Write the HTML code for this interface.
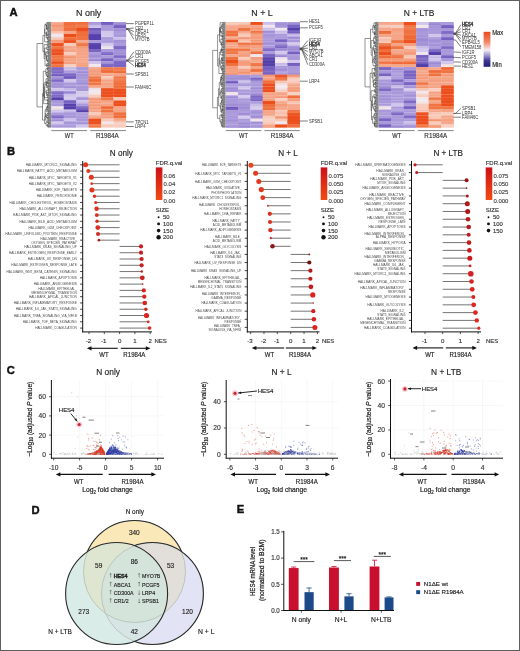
<!DOCTYPE html>
<html><head><meta charset="utf-8"><style>
html,body{margin:0;padding:0;background:#fff;}
svg{display:block;font-family:"Liberation Sans", sans-serif;}
</style></head><body>
<svg width="520" height="651" viewBox="0 0 520 651">
<rect x="0" y="0" width="520" height="651" fill="#fff"/>
<g opacity="0.999">
<text x="9.60" y="16.20" font-size="11.2" fill="#111" font-weight="bold" stroke="#111" stroke-width="0.45">A</text>
<text x="7.00" y="155.40" font-size="11.2" fill="#111" font-weight="bold" stroke="#111" stroke-width="0.45">B</text>
<text x="6.80" y="374.40" font-size="11.2" fill="#111" font-weight="bold" stroke="#111" stroke-width="0.45">C</text>
<text x="31.40" y="513.60" font-size="11.2" fill="#111" font-weight="bold" stroke="#111" stroke-width="0.45">D</text>
<text x="236.80" y="513.40" font-size="11.2" fill="#111" font-weight="bold" stroke="#111" stroke-width="0.45">E</text>
<rect x="51.4" y="22.00" width="12.5" height="3.07" fill="#f5a385"/>
<rect x="51.4" y="22.00" width="12.5" height="1.56" fill="#f6ad93"/>
<rect x="63.8" y="22.00" width="12.5" height="3.07" fill="#f07442"/>
<rect x="63.8" y="23.51" width="12.5" height="1.56" fill="#ef6d3b"/>
<rect x="76.3" y="22.00" width="12.5" height="3.07" fill="#f07442"/>
<rect x="76.3" y="22.00" width="12.5" height="1.56" fill="#ef6e3c"/>
<rect x="88.7" y="22.00" width="12.5" height="3.07" fill="#a998da"/>
<rect x="88.7" y="23.51" width="12.5" height="1.56" fill="#b1a2de"/>
<rect x="101.1" y="22.00" width="12.5" height="3.07" fill="#7c66c4"/>
<rect x="101.1" y="22.00" width="12.5" height="1.56" fill="#705bbc"/>
<rect x="113.6" y="22.00" width="12.5" height="3.07" fill="#a998da"/>
<rect x="113.6" y="23.51" width="12.5" height="1.56" fill="#9b88d3"/>
<rect x="51.4" y="25.02" width="12.5" height="3.07" fill="#f5a385"/>
<rect x="51.4" y="25.02" width="12.5" height="1.56" fill="#f39470"/>
<rect x="63.8" y="25.02" width="12.5" height="3.07" fill="#f07442"/>
<rect x="63.8" y="26.53" width="12.5" height="1.56" fill="#f17a4b"/>
<rect x="76.3" y="25.02" width="12.5" height="3.07" fill="#f07442"/>
<rect x="76.3" y="25.02" width="12.5" height="1.56" fill="#f17e50"/>
<rect x="88.7" y="25.02" width="12.5" height="3.07" fill="#d0c6ec"/>
<rect x="88.7" y="25.02" width="12.5" height="1.56" fill="#c7bce8"/>
<rect x="101.1" y="25.02" width="12.5" height="3.07" fill="#a998da"/>
<rect x="101.1" y="26.53" width="12.5" height="1.56" fill="#ac9cdc"/>
<rect x="113.6" y="25.02" width="12.5" height="3.07" fill="#7c66c4"/>
<rect x="113.6" y="26.53" width="12.5" height="1.56" fill="#745ebf"/>
<rect x="51.4" y="28.03" width="12.5" height="3.07" fill="#f5a385"/>
<rect x="51.4" y="29.54" width="12.5" height="1.56" fill="#f5a182"/>
<rect x="63.8" y="28.03" width="12.5" height="3.07" fill="#f07442"/>
<rect x="63.8" y="28.03" width="12.5" height="1.56" fill="#ef6c3a"/>
<rect x="76.3" y="28.03" width="12.5" height="3.07" fill="#ec4e1c"/>
<rect x="76.3" y="28.03" width="12.5" height="1.56" fill="#ec4e1c"/>
<rect x="88.7" y="28.03" width="12.5" height="3.07" fill="#7c66c4"/>
<rect x="88.7" y="28.03" width="12.5" height="1.56" fill="#6e59bb"/>
<rect x="101.1" y="28.03" width="12.5" height="3.07" fill="#a998da"/>
<rect x="101.1" y="29.54" width="12.5" height="1.56" fill="#b0a1dd"/>
<rect x="113.6" y="28.03" width="12.5" height="3.07" fill="#a998da"/>
<rect x="113.6" y="29.54" width="12.5" height="1.56" fill="#9f8dd5"/>
<rect x="51.4" y="31.05" width="12.5" height="3.07" fill="#f8cdbe"/>
<rect x="51.4" y="31.05" width="12.5" height="1.56" fill="#f7c1ad"/>
<rect x="63.8" y="31.05" width="12.5" height="3.07" fill="#f5a385"/>
<rect x="63.8" y="32.56" width="12.5" height="1.56" fill="#f5a587"/>
<rect x="76.3" y="31.05" width="12.5" height="3.07" fill="#f07442"/>
<rect x="76.3" y="31.05" width="12.5" height="1.56" fill="#ef6937"/>
<rect x="88.7" y="31.05" width="12.5" height="3.07" fill="#7c66c4"/>
<rect x="88.7" y="32.56" width="12.5" height="1.56" fill="#7e68c5"/>
<rect x="101.1" y="31.05" width="12.5" height="3.07" fill="#d0c6ec"/>
<rect x="101.1" y="32.56" width="12.5" height="1.56" fill="#d3c9ec"/>
<rect x="113.6" y="31.05" width="12.5" height="3.07" fill="#a998da"/>
<rect x="113.6" y="32.56" width="12.5" height="1.56" fill="#b1a1dd"/>
<rect x="51.4" y="34.07" width="12.5" height="3.07" fill="#f2e8ee"/>
<rect x="51.4" y="35.58" width="12.5" height="1.56" fill="#ede3ee"/>
<rect x="63.8" y="34.07" width="12.5" height="3.07" fill="#ec4e1c"/>
<rect x="63.8" y="34.07" width="12.5" height="1.56" fill="#ec4e1c"/>
<rect x="76.3" y="34.07" width="12.5" height="3.07" fill="#f07442"/>
<rect x="76.3" y="34.07" width="12.5" height="1.56" fill="#ef6b39"/>
<rect x="88.7" y="34.07" width="12.5" height="3.07" fill="#5440aa"/>
<rect x="88.7" y="35.58" width="12.5" height="1.56" fill="#5440aa"/>
<rect x="101.1" y="34.07" width="12.5" height="3.07" fill="#d0c6ec"/>
<rect x="101.1" y="35.58" width="12.5" height="1.56" fill="#d7cdec"/>
<rect x="113.6" y="34.07" width="12.5" height="3.07" fill="#a998da"/>
<rect x="113.6" y="34.07" width="12.5" height="1.56" fill="#ad9ddc"/>
<rect x="51.4" y="37.09" width="12.5" height="3.07" fill="#f8cdbe"/>
<rect x="51.4" y="38.59" width="12.5" height="1.56" fill="#f7c3b0"/>
<rect x="63.8" y="37.09" width="12.5" height="3.07" fill="#f07442"/>
<rect x="63.8" y="38.59" width="12.5" height="1.56" fill="#ef6e3c"/>
<rect x="76.3" y="37.09" width="12.5" height="3.07" fill="#f07442"/>
<rect x="76.3" y="37.09" width="12.5" height="1.56" fill="#f07442"/>
<rect x="88.7" y="37.09" width="12.5" height="3.07" fill="#5440aa"/>
<rect x="88.7" y="37.09" width="12.5" height="1.56" fill="#5642ac"/>
<rect x="101.1" y="37.09" width="12.5" height="3.07" fill="#a998da"/>
<rect x="101.1" y="38.59" width="12.5" height="1.56" fill="#ae9edc"/>
<rect x="113.6" y="37.09" width="12.5" height="3.07" fill="#d0c6ec"/>
<rect x="113.6" y="38.59" width="12.5" height="1.56" fill="#c7bbe8"/>
<rect x="51.4" y="40.10" width="12.5" height="3.07" fill="#f5a385"/>
<rect x="51.4" y="40.10" width="12.5" height="1.56" fill="#f49c7b"/>
<rect x="63.8" y="40.10" width="12.5" height="3.07" fill="#ec4e1c"/>
<rect x="63.8" y="41.61" width="12.5" height="1.56" fill="#ed5a28"/>
<rect x="76.3" y="40.10" width="12.5" height="3.07" fill="#f5a385"/>
<rect x="76.3" y="40.10" width="12.5" height="1.56" fill="#f6ab90"/>
<rect x="88.7" y="40.10" width="12.5" height="3.07" fill="#a998da"/>
<rect x="88.7" y="41.61" width="12.5" height="1.56" fill="#ac9cdc"/>
<rect x="101.1" y="40.10" width="12.5" height="3.07" fill="#a998da"/>
<rect x="101.1" y="41.61" width="12.5" height="1.56" fill="#b0a0dd"/>
<rect x="113.6" y="40.10" width="12.5" height="3.07" fill="#a998da"/>
<rect x="113.6" y="40.10" width="12.5" height="1.56" fill="#a492d7"/>
<rect x="51.4" y="43.12" width="12.5" height="3.07" fill="#ec4e1c"/>
<rect x="51.4" y="43.12" width="12.5" height="1.56" fill="#ed5826"/>
<rect x="63.8" y="43.12" width="12.5" height="3.07" fill="#f8cdbe"/>
<rect x="63.8" y="44.63" width="12.5" height="1.56" fill="#f8ccbd"/>
<rect x="76.3" y="43.12" width="12.5" height="3.07" fill="#f07442"/>
<rect x="76.3" y="43.12" width="12.5" height="1.56" fill="#f17e50"/>
<rect x="88.7" y="43.12" width="12.5" height="3.07" fill="#5440aa"/>
<rect x="88.7" y="43.12" width="12.5" height="1.56" fill="#604cb2"/>
<rect x="101.1" y="43.12" width="12.5" height="3.07" fill="#d0c6ec"/>
<rect x="101.1" y="44.63" width="12.5" height="1.56" fill="#d5cbec"/>
<rect x="113.6" y="43.12" width="12.5" height="3.07" fill="#a998da"/>
<rect x="113.6" y="43.12" width="12.5" height="1.56" fill="#ad9ddc"/>
<rect x="51.4" y="46.14" width="12.5" height="3.07" fill="#f07442"/>
<rect x="51.4" y="47.65" width="12.5" height="1.56" fill="#f07341"/>
<rect x="63.8" y="46.14" width="12.5" height="3.07" fill="#f5a385"/>
<rect x="63.8" y="47.65" width="12.5" height="1.56" fill="#f6ad93"/>
<rect x="76.3" y="46.14" width="12.5" height="3.07" fill="#f5a385"/>
<rect x="76.3" y="46.14" width="12.5" height="1.56" fill="#f49774"/>
<rect x="88.7" y="46.14" width="12.5" height="3.07" fill="#5440aa"/>
<rect x="88.7" y="46.14" width="12.5" height="1.56" fill="#5440aa"/>
<rect x="101.1" y="46.14" width="12.5" height="3.07" fill="#f2e8ee"/>
<rect x="101.1" y="46.14" width="12.5" height="1.56" fill="#e8deed"/>
<rect x="113.6" y="46.14" width="12.5" height="3.07" fill="#7c66c4"/>
<rect x="113.6" y="46.14" width="12.5" height="1.56" fill="#806bc6"/>
<rect x="51.4" y="49.15" width="12.5" height="3.07" fill="#ec4e1c"/>
<rect x="51.4" y="50.66" width="12.5" height="1.56" fill="#ed5a28"/>
<rect x="63.8" y="49.15" width="12.5" height="3.07" fill="#f5a385"/>
<rect x="63.8" y="50.66" width="12.5" height="1.56" fill="#f5a689"/>
<rect x="76.3" y="49.15" width="12.5" height="3.07" fill="#f5a385"/>
<rect x="76.3" y="49.15" width="12.5" height="1.56" fill="#f5a486"/>
<rect x="88.7" y="49.15" width="12.5" height="3.07" fill="#7c66c4"/>
<rect x="88.7" y="49.15" width="12.5" height="1.56" fill="#7b65c3"/>
<rect x="101.1" y="49.15" width="12.5" height="3.07" fill="#a998da"/>
<rect x="101.1" y="49.15" width="12.5" height="1.56" fill="#ab9bdb"/>
<rect x="113.6" y="49.15" width="12.5" height="3.07" fill="#a998da"/>
<rect x="113.6" y="49.15" width="12.5" height="1.56" fill="#9e8cd5"/>
<rect x="51.4" y="52.17" width="12.5" height="3.07" fill="#ec4e1c"/>
<rect x="51.4" y="53.68" width="12.5" height="1.56" fill="#ec501e"/>
<rect x="63.8" y="52.17" width="12.5" height="3.07" fill="#f8cdbe"/>
<rect x="63.8" y="53.68" width="12.5" height="1.56" fill="#f8caba"/>
<rect x="76.3" y="52.17" width="12.5" height="3.07" fill="#f5a385"/>
<rect x="76.3" y="52.17" width="12.5" height="1.56" fill="#f5a689"/>
<rect x="88.7" y="52.17" width="12.5" height="3.07" fill="#a998da"/>
<rect x="88.7" y="52.17" width="12.5" height="1.56" fill="#af9fdd"/>
<rect x="101.1" y="52.17" width="12.5" height="3.07" fill="#7c66c4"/>
<rect x="101.1" y="52.17" width="12.5" height="1.56" fill="#8c77cc"/>
<rect x="113.6" y="52.17" width="12.5" height="3.07" fill="#a998da"/>
<rect x="113.6" y="52.17" width="12.5" height="1.56" fill="#a290d6"/>
<rect x="51.4" y="55.19" width="12.5" height="3.07" fill="#f07442"/>
<rect x="51.4" y="56.70" width="12.5" height="1.56" fill="#f17a4b"/>
<rect x="63.8" y="55.19" width="12.5" height="3.07" fill="#f5a385"/>
<rect x="63.8" y="56.70" width="12.5" height="1.56" fill="#f3936e"/>
<rect x="76.3" y="55.19" width="12.5" height="3.07" fill="#f5a385"/>
<rect x="76.3" y="55.19" width="12.5" height="1.56" fill="#f6ab90"/>
<rect x="88.7" y="55.19" width="12.5" height="3.07" fill="#a998da"/>
<rect x="88.7" y="55.19" width="12.5" height="1.56" fill="#9c89d4"/>
<rect x="101.1" y="55.19" width="12.5" height="3.07" fill="#a998da"/>
<rect x="101.1" y="56.70" width="12.5" height="1.56" fill="#ad9ddc"/>
<rect x="113.6" y="55.19" width="12.5" height="3.07" fill="#7c66c4"/>
<rect x="113.6" y="56.70" width="12.5" height="1.56" fill="#8772c9"/>
<rect x="51.4" y="58.21" width="12.5" height="3.07" fill="#f07442"/>
<rect x="51.4" y="59.71" width="12.5" height="1.56" fill="#f17949"/>
<rect x="63.8" y="58.21" width="12.5" height="3.07" fill="#f5a385"/>
<rect x="63.8" y="59.71" width="12.5" height="1.56" fill="#f5a587"/>
<rect x="76.3" y="58.21" width="12.5" height="3.07" fill="#f5a385"/>
<rect x="76.3" y="59.71" width="12.5" height="1.56" fill="#f6ac92"/>
<rect x="88.7" y="58.21" width="12.5" height="3.07" fill="#a998da"/>
<rect x="88.7" y="59.71" width="12.5" height="1.56" fill="#9a87d3"/>
<rect x="101.1" y="58.21" width="12.5" height="3.07" fill="#7c66c4"/>
<rect x="101.1" y="59.71" width="12.5" height="1.56" fill="#7862c1"/>
<rect x="113.6" y="58.21" width="12.5" height="3.07" fill="#a998da"/>
<rect x="113.6" y="59.71" width="12.5" height="1.56" fill="#9e8cd5"/>
<rect x="51.4" y="61.22" width="12.5" height="3.07" fill="#ec4e1c"/>
<rect x="51.4" y="62.73" width="12.5" height="1.56" fill="#ed5b29"/>
<rect x="63.8" y="61.22" width="12.5" height="3.07" fill="#f5a385"/>
<rect x="63.8" y="62.73" width="12.5" height="1.56" fill="#f49c7b"/>
<rect x="76.3" y="61.22" width="12.5" height="3.07" fill="#f5a385"/>
<rect x="76.3" y="61.22" width="12.5" height="1.56" fill="#f6ad92"/>
<rect x="88.7" y="61.22" width="12.5" height="3.07" fill="#d0c6ec"/>
<rect x="88.7" y="61.22" width="12.5" height="1.56" fill="#cfc4eb"/>
<rect x="101.1" y="61.22" width="12.5" height="3.07" fill="#a998da"/>
<rect x="101.1" y="62.73" width="12.5" height="1.56" fill="#9e8cd5"/>
<rect x="113.6" y="61.22" width="12.5" height="3.07" fill="#7c66c4"/>
<rect x="113.6" y="61.22" width="12.5" height="1.56" fill="#7e68c5"/>
<rect x="51.4" y="64.24" width="12.5" height="3.07" fill="#f07442"/>
<rect x="51.4" y="65.75" width="12.5" height="1.56" fill="#f0713f"/>
<rect x="63.8" y="64.24" width="12.5" height="3.07" fill="#f8cdbe"/>
<rect x="63.8" y="65.75" width="12.5" height="1.56" fill="#f6d4ca"/>
<rect x="76.3" y="64.24" width="12.5" height="3.07" fill="#f5a385"/>
<rect x="76.3" y="64.24" width="12.5" height="1.56" fill="#f5a081"/>
<rect x="88.7" y="64.24" width="12.5" height="3.07" fill="#f2e8ee"/>
<rect x="88.7" y="65.75" width="12.5" height="1.56" fill="#ede3ee"/>
<rect x="101.1" y="64.24" width="12.5" height="3.07" fill="#7c66c4"/>
<rect x="101.1" y="64.24" width="12.5" height="1.56" fill="#7e69c5"/>
<rect x="113.6" y="64.24" width="12.5" height="3.07" fill="#7c66c4"/>
<rect x="113.6" y="64.24" width="12.5" height="1.56" fill="#7963c2"/>
<rect x="51.4" y="67.26" width="12.5" height="3.07" fill="#7c66c4"/>
<rect x="51.4" y="68.77" width="12.5" height="1.56" fill="#836dc7"/>
<rect x="63.8" y="67.26" width="12.5" height="3.07" fill="#d0c6ec"/>
<rect x="63.8" y="67.26" width="12.5" height="1.56" fill="#c5b9e7"/>
<rect x="76.3" y="67.26" width="12.5" height="3.07" fill="#a998da"/>
<rect x="76.3" y="67.26" width="12.5" height="1.56" fill="#a796d9"/>
<rect x="88.7" y="67.26" width="12.5" height="3.07" fill="#f5a385"/>
<rect x="88.7" y="67.26" width="12.5" height="1.56" fill="#f6ad93"/>
<rect x="101.1" y="67.26" width="12.5" height="3.07" fill="#f07442"/>
<rect x="101.1" y="68.77" width="12.5" height="1.56" fill="#f18255"/>
<rect x="113.6" y="67.26" width="12.5" height="3.07" fill="#f07442"/>
<rect x="113.6" y="68.77" width="12.5" height="1.56" fill="#f18155"/>
<rect x="51.4" y="70.27" width="12.5" height="3.07" fill="#7c66c4"/>
<rect x="51.4" y="70.27" width="12.5" height="1.56" fill="#8b76cb"/>
<rect x="63.8" y="70.27" width="12.5" height="3.07" fill="#a998da"/>
<rect x="63.8" y="71.78" width="12.5" height="1.56" fill="#b0a0dd"/>
<rect x="76.3" y="70.27" width="12.5" height="3.07" fill="#a998da"/>
<rect x="76.3" y="71.78" width="12.5" height="1.56" fill="#9f8cd5"/>
<rect x="88.7" y="70.27" width="12.5" height="3.07" fill="#f5a385"/>
<rect x="88.7" y="70.27" width="12.5" height="1.56" fill="#f49b7a"/>
<rect x="101.1" y="70.27" width="12.5" height="3.07" fill="#f07442"/>
<rect x="101.1" y="70.27" width="12.5" height="1.56" fill="#ef6a38"/>
<rect x="113.6" y="70.27" width="12.5" height="3.07" fill="#f07442"/>
<rect x="113.6" y="71.78" width="12.5" height="1.56" fill="#ef6b39"/>
<rect x="51.4" y="73.29" width="12.5" height="3.07" fill="#7c66c4"/>
<rect x="51.4" y="74.80" width="12.5" height="1.56" fill="#715cbd"/>
<rect x="63.8" y="73.29" width="12.5" height="3.07" fill="#7c66c4"/>
<rect x="63.8" y="74.80" width="12.5" height="1.56" fill="#8570c8"/>
<rect x="76.3" y="73.29" width="12.5" height="3.07" fill="#a998da"/>
<rect x="76.3" y="74.80" width="12.5" height="1.56" fill="#a290d7"/>
<rect x="88.7" y="73.29" width="12.5" height="3.07" fill="#f5a385"/>
<rect x="88.7" y="73.29" width="12.5" height="1.56" fill="#f49a78"/>
<rect x="101.1" y="73.29" width="12.5" height="3.07" fill="#f5a385"/>
<rect x="101.1" y="73.29" width="12.5" height="1.56" fill="#f6b198"/>
<rect x="113.6" y="73.29" width="12.5" height="3.07" fill="#f5a385"/>
<rect x="113.6" y="74.80" width="12.5" height="1.56" fill="#f5a385"/>
<rect x="51.4" y="76.31" width="12.5" height="3.07" fill="#a998da"/>
<rect x="51.4" y="77.82" width="12.5" height="1.56" fill="#9d8bd4"/>
<rect x="63.8" y="76.31" width="12.5" height="3.07" fill="#7c66c4"/>
<rect x="63.8" y="76.31" width="12.5" height="1.56" fill="#6f5abc"/>
<rect x="76.3" y="76.31" width="12.5" height="3.07" fill="#a998da"/>
<rect x="76.3" y="76.31" width="12.5" height="1.56" fill="#a998da"/>
<rect x="88.7" y="76.31" width="12.5" height="3.07" fill="#f07442"/>
<rect x="88.7" y="77.82" width="12.5" height="1.56" fill="#f28357"/>
<rect x="101.1" y="76.31" width="12.5" height="3.07" fill="#f8cdbe"/>
<rect x="101.1" y="77.82" width="12.5" height="1.56" fill="#f7c3b0"/>
<rect x="113.6" y="76.31" width="12.5" height="3.07" fill="#f07442"/>
<rect x="113.6" y="77.82" width="12.5" height="1.56" fill="#f28358"/>
<rect x="51.4" y="79.33" width="12.5" height="3.07" fill="#7c66c4"/>
<rect x="51.4" y="80.83" width="12.5" height="1.56" fill="#8b76cb"/>
<rect x="63.8" y="79.33" width="12.5" height="3.07" fill="#d0c6ec"/>
<rect x="63.8" y="79.33" width="12.5" height="1.56" fill="#d4caec"/>
<rect x="76.3" y="79.33" width="12.5" height="3.07" fill="#a998da"/>
<rect x="76.3" y="79.33" width="12.5" height="1.56" fill="#ab9bdb"/>
<rect x="88.7" y="79.33" width="12.5" height="3.07" fill="#f07442"/>
<rect x="88.7" y="79.33" width="12.5" height="1.56" fill="#ef6735"/>
<rect x="101.1" y="79.33" width="12.5" height="3.07" fill="#f5a385"/>
<rect x="101.1" y="80.83" width="12.5" height="1.56" fill="#f6ab90"/>
<rect x="113.6" y="79.33" width="12.5" height="3.07" fill="#f07442"/>
<rect x="113.6" y="79.33" width="12.5" height="1.56" fill="#f18054"/>
<rect x="51.4" y="82.34" width="12.5" height="3.07" fill="#a998da"/>
<rect x="51.4" y="83.85" width="12.5" height="1.56" fill="#a391d7"/>
<rect x="63.8" y="82.34" width="12.5" height="3.07" fill="#a998da"/>
<rect x="63.8" y="83.85" width="12.5" height="1.56" fill="#ae9edc"/>
<rect x="76.3" y="82.34" width="12.5" height="3.07" fill="#a998da"/>
<rect x="76.3" y="82.34" width="12.5" height="1.56" fill="#9f8dd5"/>
<rect x="88.7" y="82.34" width="12.5" height="3.07" fill="#f07442"/>
<rect x="88.7" y="83.85" width="12.5" height="1.56" fill="#f17949"/>
<rect x="101.1" y="82.34" width="12.5" height="3.07" fill="#f5a385"/>
<rect x="101.1" y="83.85" width="12.5" height="1.56" fill="#f59f7f"/>
<rect x="113.6" y="82.34" width="12.5" height="3.07" fill="#f07442"/>
<rect x="113.6" y="82.34" width="12.5" height="1.56" fill="#ef6e3c"/>
<rect x="51.4" y="85.36" width="12.5" height="3.07" fill="#a998da"/>
<rect x="51.4" y="85.36" width="12.5" height="1.56" fill="#a392d7"/>
<rect x="63.8" y="85.36" width="12.5" height="3.07" fill="#a998da"/>
<rect x="63.8" y="86.87" width="12.5" height="1.56" fill="#a290d6"/>
<rect x="76.3" y="85.36" width="12.5" height="3.07" fill="#a998da"/>
<rect x="76.3" y="86.87" width="12.5" height="1.56" fill="#a796d9"/>
<rect x="88.7" y="85.36" width="12.5" height="3.07" fill="#f5a385"/>
<rect x="88.7" y="86.87" width="12.5" height="1.56" fill="#f6b198"/>
<rect x="101.1" y="85.36" width="12.5" height="3.07" fill="#f5a385"/>
<rect x="101.1" y="86.87" width="12.5" height="1.56" fill="#f6ad92"/>
<rect x="113.6" y="85.36" width="12.5" height="3.07" fill="#f07442"/>
<rect x="113.6" y="85.36" width="12.5" height="1.56" fill="#ef6b39"/>
<rect x="51.4" y="88.38" width="12.5" height="3.07" fill="#d0c6ec"/>
<rect x="51.4" y="89.89" width="12.5" height="1.56" fill="#d1c7ec"/>
<rect x="63.8" y="88.38" width="12.5" height="3.07" fill="#d0c6ec"/>
<rect x="63.8" y="88.38" width="12.5" height="1.56" fill="#c3b6e6"/>
<rect x="76.3" y="88.38" width="12.5" height="3.07" fill="#a998da"/>
<rect x="76.3" y="88.38" width="12.5" height="1.56" fill="#a795d9"/>
<rect x="88.7" y="88.38" width="12.5" height="3.07" fill="#f2e8ee"/>
<rect x="88.7" y="88.38" width="12.5" height="1.56" fill="#ebe1ee"/>
<rect x="101.1" y="88.38" width="12.5" height="3.07" fill="#ec4e1c"/>
<rect x="101.1" y="88.38" width="12.5" height="1.56" fill="#ed5422"/>
<rect x="113.6" y="88.38" width="12.5" height="3.07" fill="#ec4e1c"/>
<rect x="113.6" y="89.89" width="12.5" height="1.56" fill="#ed5321"/>
<rect x="51.4" y="91.39" width="12.5" height="3.07" fill="#7c66c4"/>
<rect x="51.4" y="91.39" width="12.5" height="1.56" fill="#8a76cb"/>
<rect x="63.8" y="91.39" width="12.5" height="3.07" fill="#a998da"/>
<rect x="63.8" y="91.39" width="12.5" height="1.56" fill="#9a87d3"/>
<rect x="76.3" y="91.39" width="12.5" height="3.07" fill="#d0c6ec"/>
<rect x="76.3" y="91.39" width="12.5" height="1.56" fill="#d8ceec"/>
<rect x="88.7" y="91.39" width="12.5" height="3.07" fill="#f2e8ee"/>
<rect x="88.7" y="91.39" width="12.5" height="1.56" fill="#f3e5e9"/>
<rect x="101.1" y="91.39" width="12.5" height="3.07" fill="#ec4e1c"/>
<rect x="101.1" y="91.39" width="12.5" height="1.56" fill="#ec5220"/>
<rect x="113.6" y="91.39" width="12.5" height="3.07" fill="#ec4e1c"/>
<rect x="113.6" y="91.39" width="12.5" height="1.56" fill="#ec4e1c"/>
<rect x="51.4" y="94.41" width="12.5" height="3.07" fill="#7c66c4"/>
<rect x="51.4" y="95.92" width="12.5" height="1.56" fill="#8570c8"/>
<rect x="63.8" y="94.41" width="12.5" height="3.07" fill="#d0c6ec"/>
<rect x="63.8" y="94.41" width="12.5" height="1.56" fill="#cdc3eb"/>
<rect x="76.3" y="94.41" width="12.5" height="3.07" fill="#d0c6ec"/>
<rect x="76.3" y="94.41" width="12.5" height="1.56" fill="#d8ceec"/>
<rect x="88.7" y="94.41" width="12.5" height="3.07" fill="#f8cdbe"/>
<rect x="88.7" y="95.92" width="12.5" height="1.56" fill="#f8cdbe"/>
<rect x="101.1" y="94.41" width="12.5" height="3.07" fill="#ec4e1c"/>
<rect x="101.1" y="94.41" width="12.5" height="1.56" fill="#ec4e1c"/>
<rect x="113.6" y="94.41" width="12.5" height="3.07" fill="#ec4e1c"/>
<rect x="113.6" y="94.41" width="12.5" height="1.56" fill="#ec4e1c"/>
<rect x="51.4" y="97.43" width="12.5" height="3.07" fill="#5440aa"/>
<rect x="51.4" y="98.94" width="12.5" height="1.56" fill="#5642ab"/>
<rect x="63.8" y="97.43" width="12.5" height="3.07" fill="#d0c6ec"/>
<rect x="63.8" y="97.43" width="12.5" height="1.56" fill="#d5cbec"/>
<rect x="76.3" y="97.43" width="12.5" height="3.07" fill="#a998da"/>
<rect x="76.3" y="97.43" width="12.5" height="1.56" fill="#a694d8"/>
<rect x="88.7" y="97.43" width="12.5" height="3.07" fill="#f5a385"/>
<rect x="88.7" y="98.94" width="12.5" height="1.56" fill="#f49571"/>
<rect x="101.1" y="97.43" width="12.5" height="3.07" fill="#f07442"/>
<rect x="101.1" y="98.94" width="12.5" height="1.56" fill="#f1794a"/>
<rect x="113.6" y="97.43" width="12.5" height="3.07" fill="#f8cdbe"/>
<rect x="113.6" y="97.43" width="12.5" height="1.56" fill="#f8cab9"/>
<rect x="51.4" y="100.45" width="12.5" height="3.07" fill="#a998da"/>
<rect x="51.4" y="100.45" width="12.5" height="1.56" fill="#a998da"/>
<rect x="63.8" y="100.45" width="12.5" height="3.07" fill="#7c66c4"/>
<rect x="63.8" y="100.45" width="12.5" height="1.56" fill="#745ebf"/>
<rect x="76.3" y="100.45" width="12.5" height="3.07" fill="#d0c6ec"/>
<rect x="76.3" y="101.95" width="12.5" height="1.56" fill="#c5b9e7"/>
<rect x="88.7" y="100.45" width="12.5" height="3.07" fill="#f5a385"/>
<rect x="88.7" y="101.95" width="12.5" height="1.56" fill="#f49876"/>
<rect x="101.1" y="100.45" width="12.5" height="3.07" fill="#f5a385"/>
<rect x="101.1" y="101.95" width="12.5" height="1.56" fill="#f6ab90"/>
<rect x="113.6" y="100.45" width="12.5" height="3.07" fill="#ec4e1c"/>
<rect x="113.6" y="101.95" width="12.5" height="1.56" fill="#ec5220"/>
<rect x="51.4" y="103.46" width="12.5" height="3.07" fill="#a998da"/>
<rect x="51.4" y="103.46" width="12.5" height="1.56" fill="#ac9bdb"/>
<rect x="63.8" y="103.46" width="12.5" height="3.07" fill="#5440aa"/>
<rect x="63.8" y="104.97" width="12.5" height="1.56" fill="#5945ad"/>
<rect x="76.3" y="103.46" width="12.5" height="3.07" fill="#a998da"/>
<rect x="76.3" y="104.97" width="12.5" height="1.56" fill="#ae9edc"/>
<rect x="88.7" y="103.46" width="12.5" height="3.07" fill="#f5a385"/>
<rect x="88.7" y="104.97" width="12.5" height="1.56" fill="#f49774"/>
<rect x="101.1" y="103.46" width="12.5" height="3.07" fill="#f5a385"/>
<rect x="101.1" y="104.97" width="12.5" height="1.56" fill="#f5a78a"/>
<rect x="113.6" y="103.46" width="12.5" height="3.07" fill="#ec4e1c"/>
<rect x="113.6" y="103.46" width="12.5" height="1.56" fill="#ec511f"/>
<rect x="51.4" y="106.48" width="12.5" height="3.07" fill="#f2e8ee"/>
<rect x="51.4" y="107.99" width="12.5" height="1.56" fill="#f4dfde"/>
<rect x="63.8" y="106.48" width="12.5" height="3.07" fill="#5440aa"/>
<rect x="63.8" y="107.99" width="12.5" height="1.56" fill="#5541ab"/>
<rect x="76.3" y="106.48" width="12.5" height="3.07" fill="#7c66c4"/>
<rect x="76.3" y="106.48" width="12.5" height="1.56" fill="#826dc7"/>
<rect x="88.7" y="106.48" width="12.5" height="3.07" fill="#f5a385"/>
<rect x="88.7" y="107.99" width="12.5" height="1.56" fill="#f49977"/>
<rect x="101.1" y="106.48" width="12.5" height="3.07" fill="#f07442"/>
<rect x="101.1" y="106.48" width="12.5" height="1.56" fill="#ef6836"/>
<rect x="113.6" y="106.48" width="12.5" height="3.07" fill="#f5a385"/>
<rect x="113.6" y="107.99" width="12.5" height="1.56" fill="#f5aa8e"/>
<rect x="51.4" y="109.50" width="12.5" height="3.07" fill="#d0c6ec"/>
<rect x="51.4" y="111.01" width="12.5" height="1.56" fill="#d1c7ec"/>
<rect x="63.8" y="109.50" width="12.5" height="3.07" fill="#d0c6ec"/>
<rect x="63.8" y="111.01" width="12.5" height="1.56" fill="#c4b7e6"/>
<rect x="76.3" y="109.50" width="12.5" height="3.07" fill="#5440aa"/>
<rect x="76.3" y="109.50" width="12.5" height="1.56" fill="#5f4bb1"/>
<rect x="88.7" y="109.50" width="12.5" height="3.07" fill="#f5a385"/>
<rect x="88.7" y="109.50" width="12.5" height="1.56" fill="#f6af95"/>
<rect x="101.1" y="109.50" width="12.5" height="3.07" fill="#f07442"/>
<rect x="101.1" y="111.01" width="12.5" height="1.56" fill="#f0703e"/>
<rect x="113.6" y="109.50" width="12.5" height="3.07" fill="#f5a385"/>
<rect x="113.6" y="109.50" width="12.5" height="1.56" fill="#f5a284"/>
<rect x="51.4" y="112.51" width="12.5" height="3.07" fill="#a998da"/>
<rect x="51.4" y="114.02" width="12.5" height="1.56" fill="#af9fdd"/>
<rect x="63.8" y="112.51" width="12.5" height="3.07" fill="#a998da"/>
<rect x="63.8" y="112.51" width="12.5" height="1.56" fill="#a998da"/>
<rect x="76.3" y="112.51" width="12.5" height="3.07" fill="#a998da"/>
<rect x="76.3" y="112.51" width="12.5" height="1.56" fill="#b6a7e0"/>
<rect x="88.7" y="112.51" width="12.5" height="3.07" fill="#f8cdbe"/>
<rect x="88.7" y="114.02" width="12.5" height="1.56" fill="#f8cbbb"/>
<rect x="101.1" y="112.51" width="12.5" height="3.07" fill="#f5a385"/>
<rect x="101.1" y="114.02" width="12.5" height="1.56" fill="#f49977"/>
<rect x="113.6" y="112.51" width="12.5" height="3.07" fill="#f07442"/>
<rect x="113.6" y="112.51" width="12.5" height="1.56" fill="#ef6f3d"/>
<rect x="51.4" y="115.53" width="12.5" height="3.07" fill="#7c66c4"/>
<rect x="51.4" y="115.53" width="12.5" height="1.56" fill="#8b76cb"/>
<rect x="63.8" y="115.53" width="12.5" height="3.07" fill="#a998da"/>
<rect x="63.8" y="115.53" width="12.5" height="1.56" fill="#a795d9"/>
<rect x="76.3" y="115.53" width="12.5" height="3.07" fill="#a998da"/>
<rect x="76.3" y="115.53" width="12.5" height="1.56" fill="#af9fdd"/>
<rect x="88.7" y="115.53" width="12.5" height="3.07" fill="#f5a385"/>
<rect x="88.7" y="115.53" width="12.5" height="1.56" fill="#f6ac91"/>
<rect x="101.1" y="115.53" width="12.5" height="3.07" fill="#f5a385"/>
<rect x="101.1" y="117.04" width="12.5" height="1.56" fill="#f59f7f"/>
<rect x="113.6" y="115.53" width="12.5" height="3.07" fill="#f07442"/>
<rect x="113.6" y="115.53" width="12.5" height="1.56" fill="#ef6a38"/>
<rect x="51.4" y="118.55" width="12.5" height="3.07" fill="#a998da"/>
<rect x="51.4" y="120.06" width="12.5" height="1.56" fill="#a08ed5"/>
<rect x="63.8" y="118.55" width="12.5" height="3.07" fill="#d0c6ec"/>
<rect x="63.8" y="118.55" width="12.5" height="1.56" fill="#cdc2eb"/>
<rect x="76.3" y="118.55" width="12.5" height="3.07" fill="#a998da"/>
<rect x="76.3" y="118.55" width="12.5" height="1.56" fill="#a695d8"/>
<rect x="88.7" y="118.55" width="12.5" height="3.07" fill="#ec4e1c"/>
<rect x="88.7" y="120.06" width="12.5" height="1.56" fill="#ec4e1c"/>
<rect x="101.1" y="118.55" width="12.5" height="3.07" fill="#f8cdbe"/>
<rect x="101.1" y="120.06" width="12.5" height="1.56" fill="#f8c6b5"/>
<rect x="113.6" y="118.55" width="12.5" height="3.07" fill="#f5a385"/>
<rect x="113.6" y="120.06" width="12.5" height="1.56" fill="#f6ad93"/>
<rect x="51.4" y="121.57" width="12.5" height="3.07" fill="#d0c6ec"/>
<rect x="51.4" y="121.57" width="12.5" height="1.56" fill="#d6ccec"/>
<rect x="63.8" y="121.57" width="12.5" height="3.07" fill="#a998da"/>
<rect x="63.8" y="121.57" width="12.5" height="1.56" fill="#a897da"/>
<rect x="76.3" y="121.57" width="12.5" height="3.07" fill="#a998da"/>
<rect x="76.3" y="123.07" width="12.5" height="1.56" fill="#a391d7"/>
<rect x="88.7" y="121.57" width="12.5" height="3.07" fill="#ec4e1c"/>
<rect x="88.7" y="121.57" width="12.5" height="1.56" fill="#ec511f"/>
<rect x="101.1" y="121.57" width="12.5" height="3.07" fill="#f2e8ee"/>
<rect x="101.1" y="123.07" width="12.5" height="1.56" fill="#f3e4e7"/>
<rect x="113.6" y="121.57" width="12.5" height="3.07" fill="#f8cdbe"/>
<rect x="113.6" y="123.07" width="12.5" height="1.56" fill="#f6d4cb"/>
<rect x="51.4" y="124.58" width="12.5" height="3.07" fill="#a998da"/>
<rect x="51.4" y="124.58" width="12.5" height="1.56" fill="#b1a1dd"/>
<rect x="63.8" y="124.58" width="12.5" height="3.07" fill="#a998da"/>
<rect x="63.8" y="124.58" width="12.5" height="1.56" fill="#b0a0dd"/>
<rect x="76.3" y="124.58" width="12.5" height="3.07" fill="#d0c6ec"/>
<rect x="76.3" y="124.58" width="12.5" height="1.56" fill="#cec4eb"/>
<rect x="88.7" y="124.58" width="12.5" height="3.07" fill="#f07442"/>
<rect x="88.7" y="124.58" width="12.5" height="1.56" fill="#f28458"/>
<rect x="101.1" y="124.58" width="12.5" height="3.07" fill="#f8cdbe"/>
<rect x="101.1" y="124.58" width="12.5" height="1.56" fill="#f8c8b7"/>
<rect x="113.6" y="124.58" width="12.5" height="3.07" fill="#f8cdbe"/>
<rect x="113.6" y="124.58" width="12.5" height="1.56" fill="#f8ccbd"/>
<path d="M47.8 23.1L47.8 23.9M47.8 23.1L51.1 23.1M47.8 23.9L51.1 23.9M47.6 22.4L47.6 23.5M47.6 22.4L51.1 22.4M47.6 23.5L47.8 23.5M48.5 26.9L48.5 27.7M48.5 26.9L51.1 26.9M48.5 27.7L51.1 27.7M48.0 26.1L48.0 27.3M48.0 26.1L51.1 26.1M48.0 27.3L48.5 27.3M47.3 26.7L47.3 28.4M47.3 26.7L48.0 26.7M47.3 28.4L51.1 28.4M46.8 27.6L46.8 29.2M46.8 27.6L47.3 27.6M46.8 29.2L51.1 29.2M48.1 29.9L48.1 30.7M48.1 29.9L51.1 29.9M48.1 30.7L51.1 30.7M47.1 28.4L47.1 30.3M47.1 28.4L46.8 28.4M47.1 30.3L48.1 30.3M46.3 25.4L46.3 29.3M46.3 25.4L51.1 25.4M46.3 29.3L47.1 29.3M46.6 24.6L46.6 27.4M46.6 24.6L51.1 24.6M46.6 27.4L46.3 27.4M46.0 22.9L46.0 26.0M46.0 22.9L47.6 22.9M46.0 26.0L46.6 26.0M48.3 31.4L48.3 32.2M48.3 31.4L51.1 31.4M48.3 32.2L51.1 32.2M48.1 33.7L48.1 34.4M48.1 33.7L51.1 33.7M48.1 34.4L51.1 34.4M48.0 35.2L48.0 36.0M48.0 35.2L51.1 35.2M48.0 36.0L51.1 36.0M47.3 34.1L47.3 35.6M47.3 34.1L48.1 34.1M47.3 35.6L48.0 35.6M47.7 36.7L47.7 37.5M47.7 36.7L51.1 36.7M47.7 37.5L51.1 37.5M47.8 39.0L47.8 39.7M47.8 39.0L51.1 39.0M47.8 39.7L51.1 39.7M47.3 38.2L47.3 39.3M47.3 38.2L51.1 38.2M47.3 39.3L47.8 39.3M47.3 37.1L47.3 38.8M47.3 37.1L47.7 37.1M47.3 38.8L47.3 38.8M46.1 34.8L46.1 37.9M46.1 34.8L47.3 34.8M46.1 37.9L47.3 37.9M46.3 32.9L46.3 36.4M46.3 32.9L51.1 32.9M46.3 36.4L46.1 36.4M46.3 31.8L46.3 34.7M46.3 31.8L48.3 31.8M46.3 34.7L46.3 34.7M44.8 24.5L44.8 33.2M44.8 24.5L46.0 24.5M44.8 33.2L46.3 33.2M48.3 41.2L48.3 42.0M48.3 41.2L51.1 41.2M48.3 42.0L51.1 42.0M47.9 40.5L47.9 41.6M47.9 40.5L51.1 40.5M47.9 41.6L48.3 41.6M47.6 41.0L47.6 42.7M47.6 41.0L47.9 41.0M47.6 42.7L51.1 42.7M44.6 28.9L44.6 41.9M44.6 28.9L44.8 28.9M44.6 41.9L47.6 41.9M48.2 43.5L48.2 44.3M48.2 43.5L51.1 43.5M48.2 44.3L51.1 44.3M47.7 45.0L47.7 45.8M47.7 45.0L51.1 45.0M47.7 45.8L51.1 45.8M47.1 43.9L47.1 45.4M47.1 43.9L48.2 43.9M47.1 45.4L47.7 45.4M48.4 47.3L48.4 48.0M48.4 47.3L51.1 47.3M48.4 48.0L51.1 48.0M47.8 46.5L47.8 47.6M47.8 46.5L51.1 46.5M47.8 47.6L48.4 47.6M47.9 49.5L47.9 50.3M47.9 49.5L51.1 49.5M47.9 50.3L51.1 50.3M47.6 48.8L47.6 49.9M47.6 48.8L51.1 48.8M47.6 49.9L47.9 49.9M46.6 47.1L46.6 49.3M46.6 47.1L47.8 47.1M46.6 49.3L47.6 49.3M47.9 51.0L47.9 51.8M47.9 51.0L51.1 51.0M47.9 51.8L51.1 51.8M48.3 53.3L48.3 54.1M48.3 53.3L51.1 53.3M48.3 54.1L51.1 54.1M48.0 52.5L48.0 53.7M48.0 52.5L51.1 52.5M48.0 53.7L48.3 53.7M46.8 51.4L46.8 53.1M46.8 51.4L47.9 51.4M46.8 53.1L48.0 53.1M47.8 54.8L47.8 55.6M47.8 54.8L51.1 54.8M47.8 55.6L51.1 55.6M48.1 56.3L48.1 57.1M48.1 56.3L51.1 56.3M48.1 57.1L51.1 57.1M48.4 57.8L48.4 58.6M48.4 57.8L51.1 57.8M48.4 58.6L51.1 58.6M48.3 60.1L48.3 60.8M48.3 60.1L51.1 60.1M48.3 60.8L51.1 60.8M47.8 59.3L47.8 60.5M47.8 59.3L51.1 59.3M47.8 60.5L48.3 60.5M48.3 61.6L48.3 62.4M48.3 61.6L51.1 61.6M48.3 62.4L51.1 62.4M47.5 59.9L47.5 62.0M47.5 59.9L47.8 59.9M47.5 62.0L48.3 62.0M46.6 58.2L46.6 60.9M46.6 58.2L48.4 58.2M46.6 60.9L47.5 60.9M46.4 56.7L46.4 59.6M46.4 56.7L48.1 56.7M46.4 59.6L46.6 59.6M46.5 55.2L46.5 58.1M46.5 55.2L47.8 55.2M46.5 58.1L46.4 58.1M45.9 52.3L45.9 56.7M45.9 52.3L46.8 52.3M45.9 56.7L46.5 56.7M44.7 48.2L44.7 54.5M44.7 48.2L46.6 48.2M44.7 54.5L45.9 54.5M48.3 63.1L48.3 63.9M48.3 63.1L51.1 63.1M48.3 63.9L51.1 63.9M47.8 65.4L47.8 66.1M47.8 65.4L51.1 65.4M47.8 66.1L51.1 66.1M47.8 64.6L47.8 65.7M47.8 64.6L51.1 64.6M47.8 65.7L47.8 65.7M46.9 63.5L46.9 65.2M46.9 63.5L48.3 63.5M46.9 65.2L47.8 65.2M46.7 64.3L46.7 66.9M46.7 64.3L46.9 64.3M46.7 66.9L51.1 66.9M45.0 51.3L45.0 65.6M45.0 51.3L44.7 51.3M45.0 65.6L46.7 65.6M44.1 44.6L44.1 58.5M44.1 44.6L47.1 44.6M44.1 58.5L45.0 58.5M42.9 35.4L42.9 51.6M42.9 35.4L44.6 35.4M42.9 51.6L44.1 51.6M48.0 68.4L48.0 69.1M48.0 68.4L51.1 68.4M48.0 69.1L51.1 69.1M48.2 69.9L48.2 70.7M48.2 69.9L51.1 69.9M48.2 70.7L51.1 70.7M47.6 68.8L47.6 70.3M47.6 68.8L48.0 68.8M47.6 70.3L48.2 70.3M47.5 67.6L47.5 69.5M47.5 67.6L51.1 67.6M47.5 69.5L47.6 69.5M47.8 71.4L47.8 72.2M47.8 71.4L51.1 71.4M47.8 72.2L51.1 72.2M48.3 72.9L48.3 73.7M48.3 72.9L51.1 72.9M48.3 73.7L51.1 73.7M47.3 71.8L47.3 73.3M47.3 71.8L47.8 71.8M47.3 73.3L48.3 73.3M47.9 75.9L47.9 76.7M47.9 75.9L51.1 75.9M47.9 76.7L51.1 76.7M48.0 75.2L48.0 76.3M48.0 75.2L51.1 75.2M48.0 76.3L47.9 76.3M47.6 75.7L47.6 77.4M47.6 75.7L48.0 75.7M47.6 77.4L51.1 77.4M46.8 74.4L46.8 76.6M46.8 74.4L51.1 74.4M46.8 76.6L47.6 76.6M46.1 72.5L46.1 75.5M46.1 72.5L47.3 72.5M46.1 75.5L46.8 75.5M45.9 68.6L45.9 74.0M45.9 68.6L47.5 68.6M45.9 74.0L46.1 74.0M48.3 78.9L48.3 79.7M48.3 78.9L51.1 78.9M48.3 79.7L51.1 79.7M47.3 78.2L47.3 79.3M47.3 78.2L51.1 78.2M47.3 79.3L48.3 79.3M47.9 80.5L47.9 81.2M47.9 80.5L51.1 80.5M47.9 81.2L51.1 81.2M47.8 83.5L47.8 84.2M47.8 83.5L51.1 83.5M47.8 84.2L51.1 84.2M47.7 82.7L47.7 83.9M47.7 82.7L51.1 82.7M47.7 83.9L47.8 83.9M47.6 82.0L47.6 83.3M47.6 82.0L51.1 82.0M47.6 83.3L47.7 83.3M47.2 80.8L47.2 82.6M47.2 80.8L47.9 80.8M47.2 82.6L47.6 82.6M48.0 85.0L48.0 85.7M48.0 85.0L51.1 85.0M48.0 85.7L51.1 85.7M46.5 81.7L46.5 85.4M46.5 81.7L47.2 81.7M46.5 85.4L48.0 85.4M48.5 88.0L48.5 88.8M48.5 88.0L51.1 88.0M48.5 88.8L51.1 88.8M47.9 87.2L47.9 88.4M47.9 87.2L51.1 87.2M47.9 88.4L48.5 88.4M47.1 86.5L47.1 87.8M47.1 86.5L51.1 86.5M47.1 87.8L47.9 87.8M46.2 83.5L46.2 87.2M46.2 83.5L46.5 83.5M46.2 87.2L47.1 87.2M46.0 78.8L46.0 85.3M46.0 78.8L47.3 78.8M46.0 85.3L46.2 85.3M48.3 90.3L48.3 91.0M48.3 90.3L51.1 90.3M48.3 91.0L51.1 91.0M48.1 89.5L48.1 90.6M48.1 89.5L51.1 89.5M48.1 90.6L48.3 90.6M48.2 92.5L48.2 93.3M48.2 92.5L51.1 92.5M48.2 93.3L51.1 93.3M48.0 91.8L48.0 92.9M48.0 91.8L51.1 91.8M48.0 92.9L48.2 92.9M47.9 94.8L47.9 95.5M47.9 94.8L51.1 94.8M47.9 95.5L51.1 95.5M47.6 94.0L47.6 95.2M47.6 94.0L51.1 94.0M47.6 95.2L47.9 95.2M47.0 94.6L47.0 96.3M47.0 94.6L47.6 94.6M47.0 96.3L51.1 96.3M46.7 92.3L46.7 95.4M46.7 92.3L48.0 92.3M46.7 95.4L47.0 95.4M46.3 90.1L46.3 93.9M46.3 90.1L48.1 90.1M46.3 93.9L46.7 93.9M44.8 82.1L44.8 92.0M44.8 82.1L46.0 82.1M44.8 92.0L46.3 92.0M48.4 97.8L48.4 98.6M48.4 97.8L51.1 97.8M48.4 98.6L51.1 98.6M47.6 97.1L47.6 98.2M47.6 97.1L51.1 97.1M47.6 98.2L48.4 98.2M44.3 87.0L44.3 97.6M44.3 87.0L44.8 87.0M44.3 97.6L47.6 97.6M47.9 100.8L47.9 101.6M47.9 100.8L51.1 100.8M47.9 101.6L51.1 101.6M47.4 100.1L47.4 101.2M47.4 100.1L51.1 100.1M47.4 101.2L47.9 101.2M47.8 99.3L47.8 100.6M47.8 99.3L51.1 99.3M47.8 100.6L47.4 100.6M44.5 92.3L44.5 100.0M44.5 92.3L44.3 92.3M44.5 100.0L47.8 100.0M43.3 71.3L43.3 96.1M43.3 71.3L45.9 71.3M43.3 96.1L44.5 96.1M48.1 103.1L48.1 103.8M48.1 103.1L51.1 103.1M48.1 103.8L51.1 103.8M47.6 102.3L47.6 103.5M47.6 102.3L51.1 102.3M47.6 103.5L48.1 103.5M47.8 102.9L47.8 104.6M47.8 102.9L47.6 102.9M47.8 104.6L51.1 104.6M43.6 83.7L43.6 103.7M43.6 83.7L43.3 83.7M43.6 103.7L47.8 103.7M48.1 106.1L48.1 106.9M48.1 106.1L51.1 106.1M48.1 106.9L51.1 106.9M47.4 105.3L47.4 106.5M47.4 105.3L51.1 105.3M47.4 106.5L48.1 106.5M47.1 105.9L47.1 107.6M47.1 105.9L47.4 105.9M47.1 107.6L51.1 107.6M47.3 106.8L47.3 108.4M47.3 106.8L47.1 106.8M47.3 108.4L51.1 108.4M47.8 109.9L47.8 110.6M47.8 109.9L51.1 109.9M47.8 110.6L51.1 110.6M47.5 109.1L47.5 110.3M47.5 109.1L51.1 109.1M47.5 110.3L47.8 110.3M46.3 107.6L46.3 109.7M46.3 107.6L47.3 107.6M46.3 109.7L47.5 109.7M48.0 111.4L48.0 112.1M48.0 111.4L51.1 111.4M48.0 112.1L51.1 112.1M46.1 108.6L46.1 111.8M46.1 108.6L46.3 108.6M46.1 111.8L48.0 111.8M48.0 113.6L48.0 114.4M48.0 113.6L51.1 113.6M48.0 114.4L51.1 114.4M48.0 112.9L48.0 114.0M48.0 112.9L51.1 112.9M48.0 114.0L48.0 114.0M47.7 115.2L47.7 115.9M47.7 115.2L51.1 115.2M47.7 115.9L51.1 115.9M47.1 113.5L47.1 115.5M47.1 113.5L48.0 113.5M47.1 115.5L47.7 115.5M47.9 117.4L47.9 118.2M47.9 117.4L51.1 117.4M47.9 118.2L51.1 118.2M47.8 116.7L47.8 117.8M47.8 116.7L51.1 116.7M47.8 117.8L47.9 117.8M47.2 117.2L47.2 118.9M47.2 117.2L47.8 117.2M47.2 118.9L51.1 118.9M46.5 114.5L46.5 118.1M46.5 114.5L47.1 114.5M46.5 118.1L47.2 118.1M45.1 110.2L45.1 116.3M45.1 110.2L46.1 110.2M45.1 116.3L46.5 116.3M48.0 119.7L48.0 120.4M48.0 119.7L51.1 119.7M48.0 120.4L51.1 120.4M45.4 113.2L45.4 120.1M45.4 113.2L45.1 113.2M45.4 120.1L48.0 120.1M48.0 122.7L48.0 123.5M48.0 122.7L51.1 122.7M48.0 123.5L51.1 123.5M48.1 121.9L48.1 123.1M48.1 121.9L51.1 121.9M48.1 123.1L48.0 123.1M47.2 121.2L47.2 122.5M47.2 121.2L51.1 121.2M47.2 122.5L48.1 122.5M47.9 124.2L47.9 125.0M47.9 124.2L51.1 124.2M47.9 125.0L51.1 125.0M48.0 126.5L48.0 127.2M48.0 126.5L51.1 126.5M48.0 127.2L51.1 127.2M47.7 125.7L47.7 126.8M47.7 125.7L51.1 125.7M47.7 126.8L48.0 126.8M47.4 124.6L47.4 126.3M47.4 124.6L47.9 124.6M47.4 126.3L47.7 126.3M46.1 121.8L46.1 125.4M46.1 121.8L47.2 121.8M46.1 125.4L47.4 125.4M44.6 116.6L44.6 123.6M44.6 116.6L45.4 116.6M44.6 123.6L46.1 123.6M42.5 93.7L42.5 120.1M42.5 93.7L43.6 93.7M42.5 120.1L44.6 120.1M37.0 43.5L37.0 106.9M37.0 43.5L42.9 43.5M37.0 106.9L42.5 106.9" stroke="#2a2a2a" stroke-width="0.5" fill="none"/>
<text x="88.70" y="16.30" font-size="9.6" fill="#222" text-anchor="middle" textLength="25.31" lengthAdjust="spacingAndGlyphs" stroke="#222" stroke-width="0.150">N only</text>
<line x1="51.40" y1="130.60" x2="87.10" y2="130.60" stroke="#666" stroke-width="0.8"/>
<line x1="90.30" y1="130.60" x2="126.00" y2="130.60" stroke="#666" stroke-width="0.8"/>
<text x="69.25" y="138.40" font-size="6.3" fill="#333" text-anchor="middle" textLength="8.82" lengthAdjust="spacingAndGlyphs" stroke="#333" stroke-width="0.150">WT</text>
<text x="107.35" y="138.40" font-size="6.3" fill="#333" text-anchor="middle" textLength="22.77" lengthAdjust="spacingAndGlyphs" stroke="#333" stroke-width="0.150">R1984A</text>
<rect x="225.8" y="22.00" width="12.4" height="2.98" fill="#f8cdbe"/>
<rect x="225.8" y="22.00" width="12.4" height="1.52" fill="#f8cbbb"/>
<rect x="238.1" y="22.00" width="12.4" height="2.98" fill="#f8cdbe"/>
<rect x="238.1" y="23.47" width="12.4" height="1.52" fill="#f7bfab"/>
<rect x="250.5" y="22.00" width="12.4" height="2.98" fill="#ec4e1c"/>
<rect x="250.5" y="23.47" width="12.4" height="1.52" fill="#ec4f1d"/>
<rect x="262.8" y="22.00" width="12.4" height="2.98" fill="#d0c6ec"/>
<rect x="262.8" y="22.00" width="12.4" height="1.52" fill="#c8bde8"/>
<rect x="275.1" y="22.00" width="12.4" height="2.98" fill="#a998da"/>
<rect x="275.1" y="23.47" width="12.4" height="1.52" fill="#a291d7"/>
<rect x="287.5" y="22.00" width="12.4" height="2.98" fill="#a998da"/>
<rect x="287.5" y="23.47" width="12.4" height="1.52" fill="#a08ed6"/>
<rect x="225.8" y="24.93" width="12.4" height="2.98" fill="#f5a385"/>
<rect x="225.8" y="24.93" width="12.4" height="1.52" fill="#f6b096"/>
<rect x="238.1" y="24.93" width="12.4" height="2.98" fill="#f5a385"/>
<rect x="238.1" y="26.40" width="12.4" height="1.52" fill="#f6af95"/>
<rect x="250.5" y="24.93" width="12.4" height="2.98" fill="#f5a385"/>
<rect x="250.5" y="24.93" width="12.4" height="1.52" fill="#f5a78a"/>
<rect x="262.8" y="24.93" width="12.4" height="2.98" fill="#f2e8ee"/>
<rect x="262.8" y="26.40" width="12.4" height="1.52" fill="#eee4ee"/>
<rect x="275.1" y="24.93" width="12.4" height="2.98" fill="#a998da"/>
<rect x="275.1" y="24.93" width="12.4" height="1.52" fill="#a695d9"/>
<rect x="287.5" y="24.93" width="12.4" height="2.98" fill="#7c66c4"/>
<rect x="287.5" y="24.93" width="12.4" height="1.52" fill="#7a64c3"/>
<rect x="225.8" y="27.87" width="12.4" height="2.98" fill="#f5a385"/>
<rect x="225.8" y="29.33" width="12.4" height="1.52" fill="#f6ae95"/>
<rect x="238.1" y="27.87" width="12.4" height="2.98" fill="#f07442"/>
<rect x="238.1" y="29.33" width="12.4" height="1.52" fill="#ef6f3d"/>
<rect x="250.5" y="27.87" width="12.4" height="2.98" fill="#f5a385"/>
<rect x="250.5" y="27.87" width="12.4" height="1.52" fill="#f49673"/>
<rect x="262.8" y="27.87" width="12.4" height="2.98" fill="#d0c6ec"/>
<rect x="262.8" y="27.87" width="12.4" height="1.52" fill="#cdc2ea"/>
<rect x="275.1" y="27.87" width="12.4" height="2.98" fill="#f2e8ee"/>
<rect x="275.1" y="29.33" width="12.4" height="1.52" fill="#f0e6ee"/>
<rect x="287.5" y="27.87" width="12.4" height="2.98" fill="#5440aa"/>
<rect x="287.5" y="27.87" width="12.4" height="1.52" fill="#5440aa"/>
<rect x="225.8" y="30.80" width="12.4" height="2.98" fill="#f07442"/>
<rect x="225.8" y="30.80" width="12.4" height="1.52" fill="#f07341"/>
<rect x="238.1" y="30.80" width="12.4" height="2.98" fill="#f5a385"/>
<rect x="238.1" y="32.27" width="12.4" height="1.52" fill="#f6b198"/>
<rect x="250.5" y="30.80" width="12.4" height="2.98" fill="#f07442"/>
<rect x="250.5" y="32.27" width="12.4" height="1.52" fill="#f28459"/>
<rect x="262.8" y="30.80" width="12.4" height="2.98" fill="#a998da"/>
<rect x="262.8" y="30.80" width="12.4" height="1.52" fill="#9e8cd5"/>
<rect x="275.1" y="30.80" width="12.4" height="2.98" fill="#d0c6ec"/>
<rect x="275.1" y="30.80" width="12.4" height="1.52" fill="#c7bce8"/>
<rect x="287.5" y="30.80" width="12.4" height="2.98" fill="#7c66c4"/>
<rect x="287.5" y="32.27" width="12.4" height="1.52" fill="#725dbe"/>
<rect x="225.8" y="33.73" width="12.4" height="2.98" fill="#f07442"/>
<rect x="225.8" y="33.73" width="12.4" height="1.52" fill="#ef6e3c"/>
<rect x="238.1" y="33.73" width="12.4" height="2.98" fill="#f8cdbe"/>
<rect x="238.1" y="33.73" width="12.4" height="1.52" fill="#f8c9b8"/>
<rect x="250.5" y="33.73" width="12.4" height="2.98" fill="#f5a385"/>
<rect x="250.5" y="35.20" width="12.4" height="1.52" fill="#f5a385"/>
<rect x="262.8" y="33.73" width="12.4" height="2.98" fill="#a998da"/>
<rect x="262.8" y="35.20" width="12.4" height="1.52" fill="#a391d7"/>
<rect x="275.1" y="33.73" width="12.4" height="2.98" fill="#a998da"/>
<rect x="275.1" y="35.20" width="12.4" height="1.52" fill="#ae9edc"/>
<rect x="287.5" y="33.73" width="12.4" height="2.98" fill="#d0c6ec"/>
<rect x="287.5" y="33.73" width="12.4" height="1.52" fill="#c3b6e6"/>
<rect x="225.8" y="36.67" width="12.4" height="2.98" fill="#f5a385"/>
<rect x="225.8" y="36.67" width="12.4" height="1.52" fill="#f6b198"/>
<rect x="238.1" y="36.67" width="12.4" height="2.98" fill="#f5a385"/>
<rect x="238.1" y="38.13" width="12.4" height="1.52" fill="#f39470"/>
<rect x="250.5" y="36.67" width="12.4" height="2.98" fill="#f5a385"/>
<rect x="250.5" y="36.67" width="12.4" height="1.52" fill="#f49875"/>
<rect x="262.8" y="36.67" width="12.4" height="2.98" fill="#a998da"/>
<rect x="262.8" y="38.13" width="12.4" height="1.52" fill="#af9fdd"/>
<rect x="275.1" y="36.67" width="12.4" height="2.98" fill="#a998da"/>
<rect x="275.1" y="38.13" width="12.4" height="1.52" fill="#b1a2de"/>
<rect x="287.5" y="36.67" width="12.4" height="2.98" fill="#a998da"/>
<rect x="287.5" y="36.67" width="12.4" height="1.52" fill="#9e8bd4"/>
<rect x="225.8" y="39.60" width="12.4" height="2.98" fill="#ec4e1c"/>
<rect x="225.8" y="41.07" width="12.4" height="1.52" fill="#ec4e1c"/>
<rect x="238.1" y="39.60" width="12.4" height="2.98" fill="#f8cdbe"/>
<rect x="238.1" y="39.60" width="12.4" height="1.52" fill="#f7c1ae"/>
<rect x="250.5" y="39.60" width="12.4" height="2.98" fill="#f5a385"/>
<rect x="250.5" y="39.60" width="12.4" height="1.52" fill="#f49673"/>
<rect x="262.8" y="39.60" width="12.4" height="2.98" fill="#a998da"/>
<rect x="262.8" y="41.07" width="12.4" height="1.52" fill="#b5a7e0"/>
<rect x="275.1" y="39.60" width="12.4" height="2.98" fill="#7c66c4"/>
<rect x="275.1" y="39.60" width="12.4" height="1.52" fill="#7762c1"/>
<rect x="287.5" y="39.60" width="12.4" height="2.98" fill="#a998da"/>
<rect x="287.5" y="41.07" width="12.4" height="1.52" fill="#aa9adb"/>
<rect x="225.8" y="42.53" width="12.4" height="2.98" fill="#f5a385"/>
<rect x="225.8" y="42.53" width="12.4" height="1.52" fill="#f5a78b"/>
<rect x="238.1" y="42.53" width="12.4" height="2.98" fill="#f07442"/>
<rect x="238.1" y="44.00" width="12.4" height="1.52" fill="#f17b4c"/>
<rect x="250.5" y="42.53" width="12.4" height="2.98" fill="#f07442"/>
<rect x="250.5" y="44.00" width="12.4" height="1.52" fill="#f18155"/>
<rect x="262.8" y="42.53" width="12.4" height="2.98" fill="#a998da"/>
<rect x="262.8" y="42.53" width="12.4" height="1.52" fill="#a18fd6"/>
<rect x="275.1" y="42.53" width="12.4" height="2.98" fill="#a998da"/>
<rect x="275.1" y="44.00" width="12.4" height="1.52" fill="#9d8ad4"/>
<rect x="287.5" y="42.53" width="12.4" height="2.98" fill="#d0c6ec"/>
<rect x="287.5" y="42.53" width="12.4" height="1.52" fill="#dad0ed"/>
<rect x="225.8" y="45.47" width="12.4" height="2.98" fill="#f5a385"/>
<rect x="225.8" y="46.93" width="12.4" height="1.52" fill="#f6af95"/>
<rect x="238.1" y="45.47" width="12.4" height="2.98" fill="#f5a385"/>
<rect x="238.1" y="45.47" width="12.4" height="1.52" fill="#f49673"/>
<rect x="250.5" y="45.47" width="12.4" height="2.98" fill="#f5a385"/>
<rect x="250.5" y="46.93" width="12.4" height="1.52" fill="#f59f7f"/>
<rect x="262.8" y="45.47" width="12.4" height="2.98" fill="#a998da"/>
<rect x="262.8" y="46.93" width="12.4" height="1.52" fill="#a897d9"/>
<rect x="275.1" y="45.47" width="12.4" height="2.98" fill="#7c66c4"/>
<rect x="275.1" y="45.47" width="12.4" height="1.52" fill="#8671c9"/>
<rect x="287.5" y="45.47" width="12.4" height="2.98" fill="#a998da"/>
<rect x="287.5" y="46.93" width="12.4" height="1.52" fill="#a290d7"/>
<rect x="225.8" y="48.40" width="12.4" height="2.98" fill="#f07442"/>
<rect x="225.8" y="49.87" width="12.4" height="1.52" fill="#f07341"/>
<rect x="238.1" y="48.40" width="12.4" height="2.98" fill="#f07442"/>
<rect x="238.1" y="49.87" width="12.4" height="1.52" fill="#f1794a"/>
<rect x="250.5" y="48.40" width="12.4" height="2.98" fill="#f5a385"/>
<rect x="250.5" y="49.87" width="12.4" height="1.52" fill="#f5a98d"/>
<rect x="262.8" y="48.40" width="12.4" height="2.98" fill="#7c66c4"/>
<rect x="262.8" y="48.40" width="12.4" height="1.52" fill="#8874ca"/>
<rect x="275.1" y="48.40" width="12.4" height="2.98" fill="#a998da"/>
<rect x="275.1" y="48.40" width="12.4" height="1.52" fill="#9b88d3"/>
<rect x="287.5" y="48.40" width="12.4" height="2.98" fill="#a998da"/>
<rect x="287.5" y="48.40" width="12.4" height="1.52" fill="#9b89d3"/>
<rect x="225.8" y="51.33" width="12.4" height="2.98" fill="#f07442"/>
<rect x="225.8" y="51.33" width="12.4" height="1.52" fill="#f18054"/>
<rect x="238.1" y="51.33" width="12.4" height="2.98" fill="#f5a385"/>
<rect x="238.1" y="51.33" width="12.4" height="1.52" fill="#f5a78a"/>
<rect x="250.5" y="51.33" width="12.4" height="2.98" fill="#f07442"/>
<rect x="250.5" y="52.80" width="12.4" height="1.52" fill="#f0703e"/>
<rect x="262.8" y="51.33" width="12.4" height="2.98" fill="#a998da"/>
<rect x="262.8" y="51.33" width="12.4" height="1.52" fill="#ae9edc"/>
<rect x="275.1" y="51.33" width="12.4" height="2.98" fill="#d0c6ec"/>
<rect x="275.1" y="52.80" width="12.4" height="1.52" fill="#d4caec"/>
<rect x="287.5" y="51.33" width="12.4" height="2.98" fill="#7c66c4"/>
<rect x="287.5" y="52.80" width="12.4" height="1.52" fill="#725cbd"/>
<rect x="225.8" y="54.27" width="12.4" height="2.98" fill="#f5a385"/>
<rect x="225.8" y="55.73" width="12.4" height="1.52" fill="#f5a88c"/>
<rect x="238.1" y="54.27" width="12.4" height="2.98" fill="#f5a385"/>
<rect x="238.1" y="54.27" width="12.4" height="1.52" fill="#f49b7a"/>
<rect x="250.5" y="54.27" width="12.4" height="2.98" fill="#f2e8ee"/>
<rect x="250.5" y="54.27" width="12.4" height="1.52" fill="#f0e6ee"/>
<rect x="262.8" y="54.27" width="12.4" height="2.98" fill="#7c66c4"/>
<rect x="262.8" y="54.27" width="12.4" height="1.52" fill="#7661c0"/>
<rect x="275.1" y="54.27" width="12.4" height="2.98" fill="#a998da"/>
<rect x="275.1" y="55.73" width="12.4" height="1.52" fill="#9b88d3"/>
<rect x="287.5" y="54.27" width="12.4" height="2.98" fill="#a998da"/>
<rect x="287.5" y="54.27" width="12.4" height="1.52" fill="#b0a0dd"/>
<rect x="225.8" y="57.20" width="12.4" height="2.98" fill="#f07442"/>
<rect x="225.8" y="57.20" width="12.4" height="1.52" fill="#f0703e"/>
<rect x="238.1" y="57.20" width="12.4" height="2.98" fill="#f8cdbe"/>
<rect x="238.1" y="58.67" width="12.4" height="1.52" fill="#f8c7b6"/>
<rect x="250.5" y="57.20" width="12.4" height="2.98" fill="#f5a385"/>
<rect x="250.5" y="57.20" width="12.4" height="1.52" fill="#f49a78"/>
<rect x="262.8" y="57.20" width="12.4" height="2.98" fill="#5440aa"/>
<rect x="262.8" y="58.67" width="12.4" height="1.52" fill="#624db3"/>
<rect x="275.1" y="57.20" width="12.4" height="2.98" fill="#f2e8ee"/>
<rect x="275.1" y="57.20" width="12.4" height="1.52" fill="#e7dded"/>
<rect x="287.5" y="57.20" width="12.4" height="2.98" fill="#a998da"/>
<rect x="287.5" y="57.20" width="12.4" height="1.52" fill="#a796d9"/>
<rect x="225.8" y="60.13" width="12.4" height="2.98" fill="#ec4e1c"/>
<rect x="225.8" y="60.13" width="12.4" height="1.52" fill="#ec4e1c"/>
<rect x="238.1" y="60.13" width="12.4" height="2.98" fill="#f5a385"/>
<rect x="238.1" y="61.60" width="12.4" height="1.52" fill="#f49b79"/>
<rect x="250.5" y="60.13" width="12.4" height="2.98" fill="#f5a385"/>
<rect x="250.5" y="61.60" width="12.4" height="1.52" fill="#f6b096"/>
<rect x="262.8" y="60.13" width="12.4" height="2.98" fill="#5440aa"/>
<rect x="262.8" y="61.60" width="12.4" height="1.52" fill="#5440aa"/>
<rect x="275.1" y="60.13" width="12.4" height="2.98" fill="#f2e8ee"/>
<rect x="275.1" y="61.60" width="12.4" height="1.52" fill="#f3e4e8"/>
<rect x="287.5" y="60.13" width="12.4" height="2.98" fill="#d0c6ec"/>
<rect x="287.5" y="60.13" width="12.4" height="1.52" fill="#d7cdec"/>
<rect x="225.8" y="63.07" width="12.4" height="2.98" fill="#f07442"/>
<rect x="225.8" y="63.07" width="12.4" height="1.52" fill="#ef6e3c"/>
<rect x="238.1" y="63.07" width="12.4" height="2.98" fill="#f5a385"/>
<rect x="238.1" y="63.07" width="12.4" height="1.52" fill="#f49c7b"/>
<rect x="250.5" y="63.07" width="12.4" height="2.98" fill="#f07442"/>
<rect x="250.5" y="63.07" width="12.4" height="1.52" fill="#f17c4d"/>
<rect x="262.8" y="63.07" width="12.4" height="2.98" fill="#5440aa"/>
<rect x="262.8" y="64.53" width="12.4" height="1.52" fill="#5440aa"/>
<rect x="275.1" y="63.07" width="12.4" height="2.98" fill="#d0c6ec"/>
<rect x="275.1" y="63.07" width="12.4" height="1.52" fill="#c5b9e7"/>
<rect x="287.5" y="63.07" width="12.4" height="2.98" fill="#7c66c4"/>
<rect x="287.5" y="63.07" width="12.4" height="1.52" fill="#735ebe"/>
<rect x="225.8" y="66.00" width="12.4" height="2.98" fill="#f5a385"/>
<rect x="225.8" y="67.47" width="12.4" height="1.52" fill="#f49b7a"/>
<rect x="238.1" y="66.00" width="12.4" height="2.98" fill="#f8cdbe"/>
<rect x="238.1" y="67.47" width="12.4" height="1.52" fill="#f8c8b7"/>
<rect x="250.5" y="66.00" width="12.4" height="2.98" fill="#f5a385"/>
<rect x="250.5" y="66.00" width="12.4" height="1.52" fill="#f5a587"/>
<rect x="262.8" y="66.00" width="12.4" height="2.98" fill="#7c66c4"/>
<rect x="262.8" y="67.47" width="12.4" height="1.52" fill="#735ebe"/>
<rect x="275.1" y="66.00" width="12.4" height="2.98" fill="#a998da"/>
<rect x="275.1" y="67.47" width="12.4" height="1.52" fill="#af9fdd"/>
<rect x="287.5" y="66.00" width="12.4" height="2.98" fill="#a998da"/>
<rect x="287.5" y="66.00" width="12.4" height="1.52" fill="#a998da"/>
<rect x="225.8" y="68.93" width="12.4" height="2.98" fill="#f5a385"/>
<rect x="225.8" y="70.40" width="12.4" height="1.52" fill="#f5a081"/>
<rect x="238.1" y="68.93" width="12.4" height="2.98" fill="#f5a385"/>
<rect x="238.1" y="70.40" width="12.4" height="1.52" fill="#f5a88c"/>
<rect x="250.5" y="68.93" width="12.4" height="2.98" fill="#f07442"/>
<rect x="250.5" y="70.40" width="12.4" height="1.52" fill="#ef6937"/>
<rect x="262.8" y="68.93" width="12.4" height="2.98" fill="#7c66c4"/>
<rect x="262.8" y="68.93" width="12.4" height="1.52" fill="#7b65c4"/>
<rect x="275.1" y="68.93" width="12.4" height="2.98" fill="#a998da"/>
<rect x="275.1" y="68.93" width="12.4" height="1.52" fill="#9d8ad4"/>
<rect x="287.5" y="68.93" width="12.4" height="2.98" fill="#a998da"/>
<rect x="287.5" y="70.40" width="12.4" height="1.52" fill="#ac9cdb"/>
<rect x="225.8" y="71.87" width="12.4" height="2.98" fill="#f5a385"/>
<rect x="225.8" y="73.33" width="12.4" height="1.52" fill="#f3936e"/>
<rect x="238.1" y="71.87" width="12.4" height="2.98" fill="#f5a385"/>
<rect x="238.1" y="71.87" width="12.4" height="1.52" fill="#f3936e"/>
<rect x="250.5" y="71.87" width="12.4" height="2.98" fill="#f5a385"/>
<rect x="250.5" y="71.87" width="12.4" height="1.52" fill="#f6ae94"/>
<rect x="262.8" y="71.87" width="12.4" height="2.98" fill="#7c66c4"/>
<rect x="262.8" y="73.33" width="12.4" height="1.52" fill="#7660c0"/>
<rect x="275.1" y="71.87" width="12.4" height="2.98" fill="#a998da"/>
<rect x="275.1" y="71.87" width="12.4" height="1.52" fill="#b6a8e0"/>
<rect x="287.5" y="71.87" width="12.4" height="2.98" fill="#a998da"/>
<rect x="287.5" y="73.33" width="12.4" height="1.52" fill="#a18fd6"/>
<rect x="225.8" y="74.80" width="12.4" height="2.98" fill="#a998da"/>
<rect x="225.8" y="76.27" width="12.4" height="1.52" fill="#a594d8"/>
<rect x="238.1" y="74.80" width="12.4" height="2.98" fill="#a998da"/>
<rect x="238.1" y="76.27" width="12.4" height="1.52" fill="#9e8cd5"/>
<rect x="250.5" y="74.80" width="12.4" height="2.98" fill="#a998da"/>
<rect x="250.5" y="76.27" width="12.4" height="1.52" fill="#b4a6df"/>
<rect x="262.8" y="74.80" width="12.4" height="2.98" fill="#f5a385"/>
<rect x="262.8" y="74.80" width="12.4" height="1.52" fill="#f39571"/>
<rect x="275.1" y="74.80" width="12.4" height="2.98" fill="#ec4e1c"/>
<rect x="275.1" y="74.80" width="12.4" height="1.52" fill="#ed5a28"/>
<rect x="287.5" y="74.80" width="12.4" height="2.98" fill="#f5a385"/>
<rect x="287.5" y="74.80" width="12.4" height="1.52" fill="#f49672"/>
<rect x="225.8" y="77.73" width="12.4" height="2.98" fill="#a998da"/>
<rect x="225.8" y="77.73" width="12.4" height="1.52" fill="#a08ed5"/>
<rect x="238.1" y="77.73" width="12.4" height="2.98" fill="#a998da"/>
<rect x="238.1" y="77.73" width="12.4" height="1.52" fill="#9e8cd5"/>
<rect x="250.5" y="77.73" width="12.4" height="2.98" fill="#7c66c4"/>
<rect x="250.5" y="79.20" width="12.4" height="1.52" fill="#8975cb"/>
<rect x="262.8" y="77.73" width="12.4" height="2.98" fill="#f5a385"/>
<rect x="262.8" y="79.20" width="12.4" height="1.52" fill="#f49b79"/>
<rect x="275.1" y="77.73" width="12.4" height="2.98" fill="#f07442"/>
<rect x="275.1" y="79.20" width="12.4" height="1.52" fill="#f17e50"/>
<rect x="287.5" y="77.73" width="12.4" height="2.98" fill="#f8cdbe"/>
<rect x="287.5" y="79.20" width="12.4" height="1.52" fill="#f7d2c7"/>
<rect x="225.8" y="80.67" width="12.4" height="2.98" fill="#7c66c4"/>
<rect x="225.8" y="82.13" width="12.4" height="1.52" fill="#6f5abc"/>
<rect x="238.1" y="80.67" width="12.4" height="2.98" fill="#d0c6ec"/>
<rect x="238.1" y="82.13" width="12.4" height="1.52" fill="#c6bae7"/>
<rect x="250.5" y="80.67" width="12.4" height="2.98" fill="#a998da"/>
<rect x="250.5" y="82.13" width="12.4" height="1.52" fill="#ad9ddc"/>
<rect x="262.8" y="80.67" width="12.4" height="2.98" fill="#f07442"/>
<rect x="262.8" y="80.67" width="12.4" height="1.52" fill="#ef6f3d"/>
<rect x="275.1" y="80.67" width="12.4" height="2.98" fill="#f8cdbe"/>
<rect x="275.1" y="82.13" width="12.4" height="1.52" fill="#f7c4b2"/>
<rect x="287.5" y="80.67" width="12.4" height="2.98" fill="#f8cdbe"/>
<rect x="287.5" y="82.13" width="12.4" height="1.52" fill="#f8cab9"/>
<rect x="225.8" y="83.60" width="12.4" height="2.98" fill="#a998da"/>
<rect x="225.8" y="83.60" width="12.4" height="1.52" fill="#b3a3de"/>
<rect x="238.1" y="83.60" width="12.4" height="2.98" fill="#a998da"/>
<rect x="238.1" y="83.60" width="12.4" height="1.52" fill="#ae9edc"/>
<rect x="250.5" y="83.60" width="12.4" height="2.98" fill="#a998da"/>
<rect x="250.5" y="83.60" width="12.4" height="1.52" fill="#ad9ddc"/>
<rect x="262.8" y="83.60" width="12.4" height="2.98" fill="#ec4e1c"/>
<rect x="262.8" y="83.60" width="12.4" height="1.52" fill="#ec4e1c"/>
<rect x="275.1" y="83.60" width="12.4" height="2.98" fill="#f2e8ee"/>
<rect x="275.1" y="83.60" width="12.4" height="1.52" fill="#f4e0df"/>
<rect x="287.5" y="83.60" width="12.4" height="2.98" fill="#f5a385"/>
<rect x="287.5" y="83.60" width="12.4" height="1.52" fill="#f6b097"/>
<rect x="225.8" y="86.53" width="12.4" height="2.98" fill="#a998da"/>
<rect x="225.8" y="88.00" width="12.4" height="1.52" fill="#9d8bd4"/>
<rect x="238.1" y="86.53" width="12.4" height="2.98" fill="#d0c6ec"/>
<rect x="238.1" y="88.00" width="12.4" height="1.52" fill="#d8ceec"/>
<rect x="250.5" y="86.53" width="12.4" height="2.98" fill="#a998da"/>
<rect x="250.5" y="88.00" width="12.4" height="1.52" fill="#9f8dd5"/>
<rect x="262.8" y="86.53" width="12.4" height="2.98" fill="#ec4e1c"/>
<rect x="262.8" y="88.00" width="12.4" height="1.52" fill="#ec4e1c"/>
<rect x="275.1" y="86.53" width="12.4" height="2.98" fill="#f2e8ee"/>
<rect x="275.1" y="88.00" width="12.4" height="1.52" fill="#ede3ee"/>
<rect x="287.5" y="86.53" width="12.4" height="2.98" fill="#f5a385"/>
<rect x="287.5" y="88.00" width="12.4" height="1.52" fill="#f49b7a"/>
<rect x="225.8" y="89.47" width="12.4" height="2.98" fill="#a998da"/>
<rect x="225.8" y="89.47" width="12.4" height="1.52" fill="#a290d7"/>
<rect x="238.1" y="89.47" width="12.4" height="2.98" fill="#a998da"/>
<rect x="238.1" y="90.93" width="12.4" height="1.52" fill="#b0a0dd"/>
<rect x="250.5" y="89.47" width="12.4" height="2.98" fill="#a998da"/>
<rect x="250.5" y="90.93" width="12.4" height="1.52" fill="#a998da"/>
<rect x="262.8" y="89.47" width="12.4" height="2.98" fill="#ec4e1c"/>
<rect x="262.8" y="90.93" width="12.4" height="1.52" fill="#ec501e"/>
<rect x="275.1" y="89.47" width="12.4" height="2.98" fill="#f8cdbe"/>
<rect x="275.1" y="90.93" width="12.4" height="1.52" fill="#f6d6cd"/>
<rect x="287.5" y="89.47" width="12.4" height="2.98" fill="#f5a385"/>
<rect x="287.5" y="89.47" width="12.4" height="1.52" fill="#f49c7b"/>
<rect x="225.8" y="92.40" width="12.4" height="2.98" fill="#f2e8ee"/>
<rect x="225.8" y="92.40" width="12.4" height="1.52" fill="#f3e4e7"/>
<rect x="238.1" y="92.40" width="12.4" height="2.98" fill="#a998da"/>
<rect x="238.1" y="93.87" width="12.4" height="1.52" fill="#ac9cdc"/>
<rect x="250.5" y="92.40" width="12.4" height="2.98" fill="#a998da"/>
<rect x="250.5" y="93.87" width="12.4" height="1.52" fill="#9e8bd4"/>
<rect x="262.8" y="92.40" width="12.4" height="2.98" fill="#f5a385"/>
<rect x="262.8" y="92.40" width="12.4" height="1.52" fill="#f6ab8f"/>
<rect x="275.1" y="92.40" width="12.4" height="2.98" fill="#f5a385"/>
<rect x="275.1" y="92.40" width="12.4" height="1.52" fill="#f5a587"/>
<rect x="287.5" y="92.40" width="12.4" height="2.98" fill="#f8cdbe"/>
<rect x="287.5" y="93.87" width="12.4" height="1.52" fill="#f6d5cb"/>
<rect x="225.8" y="95.33" width="12.4" height="2.98" fill="#a998da"/>
<rect x="225.8" y="96.80" width="12.4" height="1.52" fill="#9c8ad4"/>
<rect x="238.1" y="95.33" width="12.4" height="2.98" fill="#d0c6ec"/>
<rect x="238.1" y="95.33" width="12.4" height="1.52" fill="#d9cfed"/>
<rect x="250.5" y="95.33" width="12.4" height="2.98" fill="#7c66c4"/>
<rect x="250.5" y="96.80" width="12.4" height="1.52" fill="#8671c9"/>
<rect x="262.8" y="95.33" width="12.4" height="2.98" fill="#f5a385"/>
<rect x="262.8" y="95.33" width="12.4" height="1.52" fill="#f6ad92"/>
<rect x="275.1" y="95.33" width="12.4" height="2.98" fill="#f5a385"/>
<rect x="275.1" y="96.80" width="12.4" height="1.52" fill="#f49a78"/>
<rect x="287.5" y="95.33" width="12.4" height="2.98" fill="#f07442"/>
<rect x="287.5" y="96.80" width="12.4" height="1.52" fill="#ef6b39"/>
<rect x="225.8" y="98.27" width="12.4" height="2.98" fill="#a998da"/>
<rect x="225.8" y="99.73" width="12.4" height="1.52" fill="#a998da"/>
<rect x="238.1" y="98.27" width="12.4" height="2.98" fill="#a998da"/>
<rect x="238.1" y="99.73" width="12.4" height="1.52" fill="#b0a0dd"/>
<rect x="250.5" y="98.27" width="12.4" height="2.98" fill="#7c66c4"/>
<rect x="250.5" y="98.27" width="12.4" height="1.52" fill="#8974ca"/>
<rect x="262.8" y="98.27" width="12.4" height="2.98" fill="#f5a385"/>
<rect x="262.8" y="99.73" width="12.4" height="1.52" fill="#f49b7a"/>
<rect x="275.1" y="98.27" width="12.4" height="2.98" fill="#f8cdbe"/>
<rect x="275.1" y="98.27" width="12.4" height="1.52" fill="#f6d6ce"/>
<rect x="287.5" y="98.27" width="12.4" height="2.98" fill="#f5a385"/>
<rect x="287.5" y="99.73" width="12.4" height="1.52" fill="#f49c7b"/>
<rect x="225.8" y="101.20" width="12.4" height="2.98" fill="#a998da"/>
<rect x="225.8" y="101.20" width="12.4" height="1.52" fill="#ab9adb"/>
<rect x="238.1" y="101.20" width="12.4" height="2.98" fill="#a998da"/>
<rect x="238.1" y="102.67" width="12.4" height="1.52" fill="#ab9adb"/>
<rect x="250.5" y="101.20" width="12.4" height="2.98" fill="#a998da"/>
<rect x="250.5" y="102.67" width="12.4" height="1.52" fill="#b6a7e0"/>
<rect x="262.8" y="101.20" width="12.4" height="2.98" fill="#ec4e1c"/>
<rect x="262.8" y="101.20" width="12.4" height="1.52" fill="#ec4e1c"/>
<rect x="275.1" y="101.20" width="12.4" height="2.98" fill="#f5a385"/>
<rect x="275.1" y="102.67" width="12.4" height="1.52" fill="#f6ae93"/>
<rect x="287.5" y="101.20" width="12.4" height="2.98" fill="#f8cdbe"/>
<rect x="287.5" y="101.20" width="12.4" height="1.52" fill="#f7c3b1"/>
<rect x="225.8" y="104.13" width="12.4" height="2.98" fill="#a998da"/>
<rect x="225.8" y="104.13" width="12.4" height="1.52" fill="#9e8cd5"/>
<rect x="238.1" y="104.13" width="12.4" height="2.98" fill="#a998da"/>
<rect x="238.1" y="104.13" width="12.4" height="1.52" fill="#a391d7"/>
<rect x="250.5" y="104.13" width="12.4" height="2.98" fill="#d0c6ec"/>
<rect x="250.5" y="104.13" width="12.4" height="1.52" fill="#c7bbe8"/>
<rect x="262.8" y="104.13" width="12.4" height="2.98" fill="#f07442"/>
<rect x="262.8" y="104.13" width="12.4" height="1.52" fill="#ef6c3a"/>
<rect x="275.1" y="104.13" width="12.4" height="2.98" fill="#f5a385"/>
<rect x="275.1" y="104.13" width="12.4" height="1.52" fill="#f49977"/>
<rect x="287.5" y="104.13" width="12.4" height="2.98" fill="#f5a385"/>
<rect x="287.5" y="105.60" width="12.4" height="1.52" fill="#f6aa8f"/>
<rect x="225.8" y="107.07" width="12.4" height="2.98" fill="#7c66c4"/>
<rect x="225.8" y="107.07" width="12.4" height="1.52" fill="#6e59bb"/>
<rect x="238.1" y="107.07" width="12.4" height="2.98" fill="#a998da"/>
<rect x="238.1" y="107.07" width="12.4" height="1.52" fill="#9e8cd5"/>
<rect x="250.5" y="107.07" width="12.4" height="2.98" fill="#d0c6ec"/>
<rect x="250.5" y="107.07" width="12.4" height="1.52" fill="#d9cfed"/>
<rect x="262.8" y="107.07" width="12.4" height="2.98" fill="#f07442"/>
<rect x="262.8" y="108.53" width="12.4" height="1.52" fill="#ef6e3c"/>
<rect x="275.1" y="107.07" width="12.4" height="2.98" fill="#f5a385"/>
<rect x="275.1" y="108.53" width="12.4" height="1.52" fill="#f6aa8f"/>
<rect x="287.5" y="107.07" width="12.4" height="2.98" fill="#f5a385"/>
<rect x="287.5" y="108.53" width="12.4" height="1.52" fill="#f5a88c"/>
<rect x="225.8" y="110.00" width="12.4" height="2.98" fill="#a998da"/>
<rect x="225.8" y="110.00" width="12.4" height="1.52" fill="#ab9bdb"/>
<rect x="238.1" y="110.00" width="12.4" height="2.98" fill="#a998da"/>
<rect x="238.1" y="111.47" width="12.4" height="1.52" fill="#b4a4df"/>
<rect x="250.5" y="110.00" width="12.4" height="2.98" fill="#a998da"/>
<rect x="250.5" y="111.47" width="12.4" height="1.52" fill="#a392d7"/>
<rect x="262.8" y="110.00" width="12.4" height="2.98" fill="#f5a385"/>
<rect x="262.8" y="110.00" width="12.4" height="1.52" fill="#f5a98d"/>
<rect x="275.1" y="110.00" width="12.4" height="2.98" fill="#f8cdbe"/>
<rect x="275.1" y="111.47" width="12.4" height="1.52" fill="#f7c0ad"/>
<rect x="287.5" y="110.00" width="12.4" height="2.98" fill="#f07442"/>
<rect x="287.5" y="111.47" width="12.4" height="1.52" fill="#f17f52"/>
<rect x="225.8" y="112.93" width="12.4" height="2.98" fill="#a998da"/>
<rect x="225.8" y="112.93" width="12.4" height="1.52" fill="#af9fdd"/>
<rect x="238.1" y="112.93" width="12.4" height="2.98" fill="#a998da"/>
<rect x="238.1" y="112.93" width="12.4" height="1.52" fill="#9d8ad4"/>
<rect x="250.5" y="112.93" width="12.4" height="2.98" fill="#a998da"/>
<rect x="250.5" y="114.40" width="12.4" height="1.52" fill="#b4a4df"/>
<rect x="262.8" y="112.93" width="12.4" height="2.98" fill="#f5a385"/>
<rect x="262.8" y="112.93" width="12.4" height="1.52" fill="#f6aa8f"/>
<rect x="275.1" y="112.93" width="12.4" height="2.98" fill="#f8cdbe"/>
<rect x="275.1" y="112.93" width="12.4" height="1.52" fill="#f7c0ad"/>
<rect x="287.5" y="112.93" width="12.4" height="2.98" fill="#ec4e1c"/>
<rect x="287.5" y="112.93" width="12.4" height="1.52" fill="#ed5927"/>
<rect x="225.8" y="115.87" width="12.4" height="2.98" fill="#a998da"/>
<rect x="225.8" y="117.33" width="12.4" height="1.52" fill="#ae9edc"/>
<rect x="238.1" y="115.87" width="12.4" height="2.98" fill="#d0c6ec"/>
<rect x="238.1" y="115.87" width="12.4" height="1.52" fill="#d9cfed"/>
<rect x="250.5" y="115.87" width="12.4" height="2.98" fill="#a998da"/>
<rect x="250.5" y="115.87" width="12.4" height="1.52" fill="#9f8dd5"/>
<rect x="262.8" y="115.87" width="12.4" height="2.98" fill="#f8cdbe"/>
<rect x="262.8" y="115.87" width="12.4" height="1.52" fill="#f8caba"/>
<rect x="275.1" y="115.87" width="12.4" height="2.98" fill="#f5a385"/>
<rect x="275.1" y="117.33" width="12.4" height="1.52" fill="#f49571"/>
<rect x="287.5" y="115.87" width="12.4" height="2.98" fill="#ec4e1c"/>
<rect x="287.5" y="117.33" width="12.4" height="1.52" fill="#ec4e1c"/>
<rect x="225.8" y="118.80" width="12.4" height="2.98" fill="#a998da"/>
<rect x="225.8" y="120.27" width="12.4" height="1.52" fill="#a08ed5"/>
<rect x="238.1" y="118.80" width="12.4" height="2.98" fill="#a998da"/>
<rect x="238.1" y="120.27" width="12.4" height="1.52" fill="#b3a4df"/>
<rect x="250.5" y="118.80" width="12.4" height="2.98" fill="#f2e8ee"/>
<rect x="250.5" y="118.80" width="12.4" height="1.52" fill="#f3e3e5"/>
<rect x="262.8" y="118.80" width="12.4" height="2.98" fill="#f8cdbe"/>
<rect x="262.8" y="118.80" width="12.4" height="1.52" fill="#f6d5cd"/>
<rect x="275.1" y="118.80" width="12.4" height="2.98" fill="#f8cdbe"/>
<rect x="275.1" y="118.80" width="12.4" height="1.52" fill="#f8c7b5"/>
<rect x="287.5" y="118.80" width="12.4" height="2.98" fill="#ec4e1c"/>
<rect x="287.5" y="120.27" width="12.4" height="1.52" fill="#ec4e1c"/>
<rect x="225.8" y="121.73" width="12.4" height="2.98" fill="#a998da"/>
<rect x="225.8" y="121.73" width="12.4" height="1.52" fill="#ae9edc"/>
<rect x="238.1" y="121.73" width="12.4" height="2.98" fill="#a998da"/>
<rect x="238.1" y="123.20" width="12.4" height="1.52" fill="#9e8cd5"/>
<rect x="250.5" y="121.73" width="12.4" height="2.98" fill="#a998da"/>
<rect x="250.5" y="121.73" width="12.4" height="1.52" fill="#9f8dd5"/>
<rect x="262.8" y="121.73" width="12.4" height="2.98" fill="#f8cdbe"/>
<rect x="262.8" y="123.20" width="12.4" height="1.52" fill="#f7c5b4"/>
<rect x="275.1" y="121.73" width="12.4" height="2.98" fill="#f2e8ee"/>
<rect x="275.1" y="123.20" width="12.4" height="1.52" fill="#ece2ee"/>
<rect x="287.5" y="121.73" width="12.4" height="2.98" fill="#ec4e1c"/>
<rect x="287.5" y="121.73" width="12.4" height="1.52" fill="#ed5321"/>
<rect x="225.8" y="124.67" width="12.4" height="2.98" fill="#a998da"/>
<rect x="225.8" y="126.13" width="12.4" height="1.52" fill="#a796d9"/>
<rect x="238.1" y="124.67" width="12.4" height="2.98" fill="#a998da"/>
<rect x="238.1" y="126.13" width="12.4" height="1.52" fill="#9a88d3"/>
<rect x="250.5" y="124.67" width="12.4" height="2.98" fill="#a998da"/>
<rect x="250.5" y="126.13" width="12.4" height="1.52" fill="#a998da"/>
<rect x="262.8" y="124.67" width="12.4" height="2.98" fill="#f5a385"/>
<rect x="262.8" y="126.13" width="12.4" height="1.52" fill="#f5a78a"/>
<rect x="275.1" y="124.67" width="12.4" height="2.98" fill="#ec4e1c"/>
<rect x="275.1" y="124.67" width="12.4" height="1.52" fill="#ec4e1c"/>
<rect x="287.5" y="124.67" width="12.4" height="2.98" fill="#f07442"/>
<rect x="287.5" y="124.67" width="12.4" height="1.52" fill="#ef6c3a"/>
<path d="M223.0 22.4L223.0 23.1M223.0 22.4L225.5 22.4M223.0 23.1L225.5 23.1M223.1 24.6L223.1 25.3M223.1 24.6L225.5 24.6M223.1 25.3L225.5 25.3M222.1 23.8L222.1 24.9M222.1 23.8L225.5 23.8M222.1 24.9L223.1 24.9M223.1 26.8L223.1 27.5M223.1 26.8L225.5 26.8M223.1 27.5L225.5 27.5M222.2 26.0L222.2 27.1M222.2 26.0L225.5 26.0M222.2 27.1L223.1 27.1M222.0 24.4L222.0 26.6M222.0 24.4L222.1 24.4M222.0 26.6L222.2 26.6M222.9 29.0L222.9 29.7M222.9 29.0L225.5 29.0M222.9 29.7L225.5 29.7M222.3 28.2L222.3 29.3M222.3 28.2L225.5 28.2M222.3 29.3L222.9 29.3M221.6 25.5L221.6 28.8M221.6 25.5L222.0 25.5M221.6 28.8L222.3 28.8M223.1 31.2L223.1 31.9M223.1 31.2L225.5 31.2M223.1 31.9L225.5 31.9M222.8 30.4L222.8 31.5M222.8 30.4L225.5 30.4M222.8 31.5L223.1 31.5M222.8 33.4L222.8 34.1M222.8 33.4L225.5 33.4M222.8 34.1L225.5 34.1M222.1 32.6L222.1 33.7M222.1 32.6L225.5 32.6M222.1 33.7L222.8 33.7M221.5 31.0L221.5 33.2M221.5 31.0L222.8 31.0M221.5 33.2L222.1 33.2M220.5 27.1L220.5 32.1M220.5 27.1L221.6 27.1M220.5 32.1L221.5 32.1M223.1 36.3L223.1 37.0M223.1 36.3L225.5 36.3M223.1 37.0L225.5 37.0M222.5 35.6L222.5 36.7M222.5 35.6L225.5 35.6M222.5 36.7L223.1 36.7M222.5 36.1L222.5 37.8M222.5 36.1L222.5 36.1M222.5 37.8L225.5 37.8M221.6 34.8L221.6 36.9M221.6 34.8L225.5 34.8M221.6 36.9L222.5 36.9M220.0 29.6L220.0 35.9M220.0 29.6L220.5 29.6M220.0 35.9L221.6 35.9M220.1 22.7L220.1 32.7M220.1 22.7L223.0 22.7M220.1 32.7L220.0 32.7M223.0 40.0L223.0 40.7M223.0 40.0L225.5 40.0M223.0 40.7L225.5 40.7M222.8 39.2L222.8 40.3M222.8 39.2L225.5 39.2M222.8 40.3L223.0 40.3M222.0 38.5L222.0 39.8M222.0 38.5L225.5 38.5M222.0 39.8L222.8 39.8M222.9 42.2L222.9 42.9M222.9 42.2L225.5 42.2M222.9 42.9L225.5 42.9M222.5 41.4L222.5 42.5M222.5 41.4L225.5 41.4M222.5 42.5L222.9 42.5M222.6 44.4L222.6 45.1M222.6 44.4L225.5 44.4M222.6 45.1L225.5 45.1M222.8 43.6L222.8 44.7M222.8 43.6L225.5 43.6M222.8 44.7L222.6 44.7M221.7 42.0L221.7 44.2M221.7 42.0L222.5 42.0M221.7 44.2L222.8 44.2M222.4 45.8L222.4 46.6M222.4 45.8L225.5 45.8M222.4 46.6L225.5 46.6M221.5 43.1L221.5 46.2M221.5 43.1L221.7 43.1M221.5 46.2L222.4 46.2M220.8 39.1L220.8 44.6M220.8 39.1L222.0 39.1M220.8 44.6L221.5 44.6M219.5 27.7L219.5 41.9M219.5 27.7L220.1 27.7M219.5 41.9L220.8 41.9M222.9 47.3L222.9 48.0M222.9 47.3L225.5 47.3M222.9 48.0L225.5 48.0M222.5 48.8L222.5 49.5M222.5 48.8L225.5 48.8M222.5 49.5L225.5 49.5M222.8 50.2L222.8 51.0M222.8 50.2L225.5 50.2M222.8 51.0L225.5 51.0M222.5 49.1L222.5 50.6M222.5 49.1L222.5 49.1M222.5 50.6L222.8 50.6M223.0 52.4L223.0 53.2M223.0 52.4L225.5 52.4M223.0 53.2L225.5 53.2M222.4 51.7L222.4 52.8M222.4 51.7L225.5 51.7M222.4 52.8L223.0 52.8M221.3 49.9L221.3 52.2M221.3 49.9L222.5 49.9M221.3 52.2L222.4 52.2M221.5 47.7L221.5 51.1M221.5 47.7L222.9 47.7M221.5 51.1L221.3 51.1M222.6 53.9L222.6 54.6M222.6 53.9L225.5 53.9M222.6 54.6L225.5 54.6M223.1 55.4L223.1 56.1M223.1 55.4L225.5 55.4M223.1 56.1L225.5 56.1M222.3 54.3L222.3 55.7M222.3 54.3L222.6 54.3M222.3 55.7L223.1 55.7M220.7 49.4L220.7 55.0M220.7 49.4L221.5 49.4M220.7 55.0L222.3 55.0M222.7 56.8L222.7 57.6M222.7 56.8L225.5 56.8M222.7 57.6L225.5 57.6M222.4 60.5L222.4 61.2M222.4 60.5L225.5 60.5M222.4 61.2L225.5 61.2M222.5 59.8L222.5 60.9M222.5 59.8L225.5 59.8M222.5 60.9L222.4 60.9M222.3 59.0L222.3 60.3M222.3 59.0L225.5 59.0M222.3 60.3L222.5 60.3M222.0 58.3L222.0 59.7M222.0 58.3L225.5 58.3M222.0 59.7L222.3 59.7M221.7 57.2L221.7 59.0M221.7 57.2L222.7 57.2M221.7 59.0L222.0 59.0M223.0 62.0L223.0 62.7M223.0 62.0L225.5 62.0M223.0 62.7L225.5 62.7M222.4 63.4L222.4 64.2M222.4 63.4L225.5 63.4M222.4 64.2L225.5 64.2M221.8 62.3L221.8 63.8M221.8 62.3L223.0 62.3M221.8 63.8L222.4 63.8M221.4 58.1L221.4 63.1M221.4 58.1L221.7 58.1M221.4 63.1L221.8 63.1M223.0 65.6L223.0 66.4M223.0 65.6L225.5 65.6M223.0 66.4L225.5 66.4M222.8 64.9L222.8 66.0M222.8 64.9L225.5 64.9M222.8 66.0L223.0 66.0M221.8 65.5L221.8 67.1M221.8 65.5L222.8 65.5M221.8 67.1L225.5 67.1M222.7 69.3L222.7 70.0M222.7 69.3L225.5 69.3M222.7 70.0L225.5 70.0M222.8 68.6L222.8 69.7M222.8 68.6L225.5 68.6M222.8 69.7L222.7 69.7M222.6 67.8L222.6 69.1M222.6 67.8L225.5 67.8M222.6 69.1L222.8 69.1M222.4 70.8L222.4 71.5M222.4 70.8L225.5 70.8M222.4 71.5L225.5 71.5M221.9 68.5L221.9 71.1M221.9 68.5L222.6 68.5M221.9 71.1L222.4 71.1M221.4 66.3L221.4 69.8M221.4 66.3L221.8 66.3M221.4 69.8L221.9 69.8M220.3 60.6L220.3 68.0M220.3 60.6L221.4 60.6M220.3 68.0L221.4 68.0M219.4 52.2L219.4 64.3M219.4 52.2L220.7 52.2M219.4 64.3L220.3 64.3M222.9 73.0L222.9 73.7M222.9 73.0L225.5 73.0M222.9 73.7L225.5 73.7M222.8 72.2L222.8 73.3M222.8 72.2L225.5 72.2M222.8 73.3L222.9 73.3M222.2 72.8L222.2 74.4M222.2 72.8L222.8 72.8M222.2 74.4L225.5 74.4M218.9 58.2L218.9 73.6M218.9 58.2L219.4 58.2M218.9 73.6L222.2 73.6M217.6 34.8L217.6 65.9M217.6 34.8L219.5 34.8M217.6 65.9L218.9 65.9M222.5 75.2L222.5 75.9M222.5 75.2L225.5 75.2M222.5 75.9L225.5 75.9M222.8 76.6L222.8 77.4M222.8 76.6L225.5 76.6M222.8 77.4L225.5 77.4M222.9 78.8L222.9 79.6M222.9 78.8L225.5 78.8M222.9 79.6L225.5 79.6M222.7 78.1L222.7 79.2M222.7 78.1L225.5 78.1M222.7 79.2L222.9 79.2M223.0 80.3L223.0 81.0M223.0 80.3L225.5 80.3M223.0 81.0L225.5 81.0M221.8 78.6L221.8 80.7M221.8 78.6L222.7 78.6M221.8 80.7L223.0 80.7M221.2 77.0L221.2 79.7M221.2 77.0L222.8 77.0M221.2 79.7L221.8 79.7M221.4 75.5L221.4 78.3M221.4 75.5L222.5 75.5M221.4 78.3L221.2 78.3M220.8 76.9L220.8 81.8M220.8 76.9L221.4 76.9M220.8 81.8L225.5 81.8M222.8 83.2L222.8 84.0M222.8 83.2L225.5 83.2M222.8 84.0L225.5 84.0M222.4 84.7L222.4 85.4M222.4 84.7L225.5 84.7M222.4 85.4L225.5 85.4M222.4 83.6L222.4 85.1M222.4 83.6L222.8 83.6M222.4 85.1L222.4 85.1M221.6 82.5L221.6 84.3M221.6 82.5L225.5 82.5M221.6 84.3L222.4 84.3M222.7 86.2L222.7 86.9M222.7 86.2L225.5 86.2M222.7 86.9L225.5 86.9M221.4 83.4L221.4 86.5M221.4 83.4L221.6 83.4M221.4 86.5L222.7 86.5M220.6 79.3L220.6 85.0M220.6 79.3L220.8 79.3M220.6 85.0L221.4 85.0M222.9 88.4L222.9 89.1M222.9 88.4L225.5 88.4M222.9 89.1L225.5 89.1M222.4 87.6L222.4 88.7M222.4 87.6L225.5 87.6M222.4 88.7L222.9 88.7M221.9 88.2L221.9 89.8M221.9 88.2L222.4 88.2M221.9 89.8L225.5 89.8M222.7 90.6L222.7 91.3M222.7 90.6L225.5 90.6M222.7 91.3L225.5 91.3M222.6 92.8L222.6 93.5M222.6 92.8L225.5 92.8M222.6 93.5L225.5 93.5M222.8 92.0L222.8 93.1M222.8 92.0L225.5 92.0M222.8 93.1L222.6 93.1M221.8 90.9L221.8 92.6M221.8 90.9L222.7 90.9M221.8 92.6L222.8 92.6M221.2 89.0L221.2 91.8M221.2 89.0L221.9 89.0M221.2 91.8L221.8 91.8M220.9 90.4L220.9 94.2M220.9 90.4L221.2 90.4M220.9 94.2L225.5 94.2M222.9 95.0L222.9 95.7M222.9 95.0L225.5 95.0M222.9 95.7L225.5 95.7M223.1 96.4L223.1 97.2M223.1 96.4L225.5 96.4M223.1 97.2L225.5 97.2M221.9 95.3L221.9 96.8M221.9 95.3L222.9 95.3M221.9 96.8L223.1 96.8M221.6 96.1L221.6 97.9M221.6 96.1L221.9 96.1M221.6 97.9L225.5 97.9M221.5 97.0L221.5 98.6M221.5 97.0L221.6 97.0M221.5 98.6L225.5 98.6M220.2 92.3L220.2 97.8M220.2 92.3L220.9 92.3M220.2 97.8L221.5 97.8M219.3 82.2L219.3 95.1M219.3 82.2L220.6 82.2M219.3 95.1L220.2 95.1M222.9 100.8L222.9 101.6M222.9 100.8L225.5 100.8M222.9 101.6L225.5 101.6M222.3 100.1L222.3 101.2M222.3 100.1L225.5 100.1M222.3 101.2L222.9 101.2M222.1 99.4L222.1 100.6M222.1 99.4L225.5 99.4M222.1 100.6L222.3 100.6M222.8 103.0L222.8 103.8M222.8 103.0L225.5 103.0M222.8 103.8L225.5 103.8M222.6 102.3L222.6 103.4M222.6 102.3L225.5 102.3M222.6 103.4L222.8 103.4M221.5 100.0L221.5 102.8M221.5 100.0L222.1 100.0M221.5 102.8L222.6 102.8M221.3 101.4L221.3 104.5M221.3 101.4L221.5 101.4M221.3 104.5L225.5 104.5M222.6 106.7L222.6 107.4M222.6 106.7L225.5 106.7M222.6 107.4L225.5 107.4M222.6 106.0L222.6 107.1M222.6 106.0L225.5 106.0M222.6 107.1L222.6 107.1M222.5 105.2L222.5 106.5M222.5 105.2L225.5 105.2M222.5 106.5L222.6 106.5M222.6 108.9L222.6 109.6M222.6 108.9L225.5 108.9M222.6 109.6L225.5 109.6M222.9 110.4L222.9 111.1M222.9 110.4L225.5 110.4M222.9 111.1L225.5 111.1M222.4 109.3L222.4 110.7M222.4 109.3L222.6 109.3M222.4 110.7L222.9 110.7M222.0 108.2L222.0 110.0M222.0 108.2L225.5 108.2M222.0 110.0L222.4 110.0M221.9 109.1L221.9 111.8M221.9 109.1L222.0 109.1M221.9 111.8L225.5 111.8M223.0 112.6L223.0 113.3M223.0 112.6L225.5 112.6M223.0 113.3L225.5 113.3M221.3 110.5L221.3 112.9M221.3 110.5L221.9 110.5M221.3 112.9L223.0 112.9M220.8 105.9L220.8 111.7M220.8 105.9L222.5 105.9M220.8 111.7L221.3 111.7M220.3 103.0L220.3 108.8M220.3 103.0L221.3 103.0M220.3 108.8L220.8 108.8M218.6 88.6L218.6 105.9M218.6 88.6L219.3 88.6M218.6 105.9L220.3 105.9M222.8 114.8L222.8 115.5M222.8 114.8L225.5 114.8M222.8 115.5L225.5 115.5M222.6 117.7L222.6 118.4M222.6 117.7L225.5 117.7M222.6 118.4L225.5 118.4M222.4 117.0L222.4 118.1M222.4 117.0L225.5 117.0M222.4 118.1L222.6 118.1M221.8 116.2L221.8 117.5M221.8 116.2L225.5 116.2M221.8 117.5L222.4 117.5M222.0 115.1L222.0 116.9M222.0 115.1L222.8 115.1M222.0 116.9L221.8 116.9M221.7 114.0L221.7 116.0M221.7 114.0L225.5 114.0M221.7 116.0L222.0 116.0M222.5 119.9L222.5 120.6M222.5 119.9L225.5 119.9M222.5 120.6L225.5 120.6M222.3 119.2L222.3 120.3M222.3 119.2L225.5 119.2M222.3 120.3L222.5 120.3M222.5 122.1L222.5 122.8M222.5 122.1L225.5 122.1M222.5 122.8L225.5 122.8M222.2 121.4L222.2 122.5M222.2 121.4L225.5 121.4M222.2 122.5L222.5 122.5M222.6 123.6L222.6 124.3M222.6 123.6L225.5 123.6M222.6 124.3L225.5 124.3M222.6 125.0L222.6 125.8M222.6 125.0L225.5 125.0M222.6 125.8L225.5 125.8M222.4 126.5L222.4 127.2M222.4 126.5L225.5 126.5M222.4 127.2L225.5 127.2M222.0 125.4L222.0 126.9M222.0 125.4L222.6 125.4M222.0 126.9L222.4 126.9M221.7 123.9L221.7 126.1M221.7 123.9L222.6 123.9M221.7 126.1L222.0 126.1M221.3 121.9L221.3 125.0M221.3 121.9L222.2 121.9M221.3 125.0L221.7 125.0M220.9 119.7L220.9 123.5M220.9 119.7L222.3 119.7M220.9 123.5L221.3 123.5M219.9 115.0L219.9 121.6M219.9 115.0L221.7 115.0M219.9 121.6L220.9 121.6M217.4 97.2L217.4 118.3M217.4 97.2L218.6 97.2M217.4 118.3L219.9 118.3M212.7 50.4L212.7 107.8M212.7 50.4L217.6 50.4M212.7 107.8L217.4 107.8" stroke="#2a2a2a" stroke-width="0.5" fill="none"/>
<text x="262.00" y="16.30" font-size="9.6" fill="#222" text-anchor="middle" textLength="21.59" lengthAdjust="spacingAndGlyphs" stroke="#222" stroke-width="0.150">N + L</text>
<line x1="225.80" y1="130.60" x2="261.20" y2="130.60" stroke="#666" stroke-width="0.8"/>
<line x1="264.40" y1="130.60" x2="299.80" y2="130.60" stroke="#666" stroke-width="0.8"/>
<text x="243.50" y="138.40" font-size="6.3" fill="#333" text-anchor="middle" textLength="8.82" lengthAdjust="spacingAndGlyphs" stroke="#333" stroke-width="0.150">WT</text>
<text x="282.10" y="138.40" font-size="6.3" fill="#333" text-anchor="middle" textLength="22.77" lengthAdjust="spacingAndGlyphs" stroke="#333" stroke-width="0.150">R1984A</text>
<rect x="378.9" y="22.00" width="12.5" height="3.07" fill="#f5a385"/>
<rect x="378.9" y="23.51" width="12.5" height="1.56" fill="#f6ad93"/>
<rect x="391.3" y="22.00" width="12.5" height="3.07" fill="#f5a385"/>
<rect x="391.3" y="23.51" width="12.5" height="1.56" fill="#f6ad92"/>
<rect x="403.8" y="22.00" width="12.5" height="3.07" fill="#ec4e1c"/>
<rect x="403.8" y="22.00" width="12.5" height="1.56" fill="#ec4e1c"/>
<rect x="416.2" y="22.00" width="12.5" height="3.07" fill="#d0c6ec"/>
<rect x="416.2" y="23.51" width="12.5" height="1.56" fill="#d3c9ec"/>
<rect x="428.7" y="22.00" width="12.5" height="3.07" fill="#a998da"/>
<rect x="428.7" y="23.51" width="12.5" height="1.56" fill="#9b88d3"/>
<rect x="441.2" y="22.00" width="12.5" height="3.07" fill="#a998da"/>
<rect x="441.2" y="23.51" width="12.5" height="1.56" fill="#ac9cdc"/>
<rect x="378.9" y="25.02" width="12.5" height="3.07" fill="#f8cdbe"/>
<rect x="378.9" y="26.53" width="12.5" height="1.56" fill="#f7c2af"/>
<rect x="391.3" y="25.02" width="12.5" height="3.07" fill="#f8cdbe"/>
<rect x="391.3" y="25.02" width="12.5" height="1.56" fill="#f7cfc2"/>
<rect x="403.8" y="25.02" width="12.5" height="3.07" fill="#f07442"/>
<rect x="403.8" y="26.53" width="12.5" height="1.56" fill="#f18053"/>
<rect x="416.2" y="25.02" width="12.5" height="3.07" fill="#f2e8ee"/>
<rect x="416.2" y="26.53" width="12.5" height="1.56" fill="#f3e4e8"/>
<rect x="428.7" y="25.02" width="12.5" height="3.07" fill="#a998da"/>
<rect x="428.7" y="26.53" width="12.5" height="1.56" fill="#a796d9"/>
<rect x="441.2" y="25.02" width="12.5" height="3.07" fill="#7c66c4"/>
<rect x="441.2" y="26.53" width="12.5" height="1.56" fill="#745fbf"/>
<rect x="378.9" y="28.03" width="12.5" height="3.07" fill="#f5a385"/>
<rect x="378.9" y="29.54" width="12.5" height="1.56" fill="#f6ad93"/>
<rect x="391.3" y="28.03" width="12.5" height="3.07" fill="#f5a385"/>
<rect x="391.3" y="29.54" width="12.5" height="1.56" fill="#f59f7f"/>
<rect x="403.8" y="28.03" width="12.5" height="3.07" fill="#f07442"/>
<rect x="403.8" y="28.03" width="12.5" height="1.56" fill="#f17c4e"/>
<rect x="416.2" y="28.03" width="12.5" height="3.07" fill="#a998da"/>
<rect x="416.2" y="29.54" width="12.5" height="1.56" fill="#a492d7"/>
<rect x="428.7" y="28.03" width="12.5" height="3.07" fill="#a998da"/>
<rect x="428.7" y="29.54" width="12.5" height="1.56" fill="#a998da"/>
<rect x="441.2" y="28.03" width="12.5" height="3.07" fill="#a998da"/>
<rect x="441.2" y="28.03" width="12.5" height="1.56" fill="#a796d9"/>
<rect x="378.9" y="31.05" width="12.5" height="3.07" fill="#f07442"/>
<rect x="378.9" y="31.05" width="12.5" height="1.56" fill="#ef6937"/>
<rect x="391.3" y="31.05" width="12.5" height="3.07" fill="#f5a385"/>
<rect x="391.3" y="32.56" width="12.5" height="1.56" fill="#f6ac91"/>
<rect x="403.8" y="31.05" width="12.5" height="3.07" fill="#f07442"/>
<rect x="403.8" y="31.05" width="12.5" height="1.56" fill="#f0713f"/>
<rect x="416.2" y="31.05" width="12.5" height="3.07" fill="#a998da"/>
<rect x="416.2" y="31.05" width="12.5" height="1.56" fill="#ab9adb"/>
<rect x="428.7" y="31.05" width="12.5" height="3.07" fill="#a998da"/>
<rect x="428.7" y="32.56" width="12.5" height="1.56" fill="#ae9ddc"/>
<rect x="441.2" y="31.05" width="12.5" height="3.07" fill="#7c66c4"/>
<rect x="441.2" y="32.56" width="12.5" height="1.56" fill="#8671c9"/>
<rect x="378.9" y="34.07" width="12.5" height="3.07" fill="#f5a385"/>
<rect x="378.9" y="35.58" width="12.5" height="1.56" fill="#f5a486"/>
<rect x="391.3" y="34.07" width="12.5" height="3.07" fill="#f5a385"/>
<rect x="391.3" y="35.58" width="12.5" height="1.56" fill="#f5a587"/>
<rect x="403.8" y="34.07" width="12.5" height="3.07" fill="#f07442"/>
<rect x="403.8" y="35.58" width="12.5" height="1.56" fill="#ef6a38"/>
<rect x="416.2" y="34.07" width="12.5" height="3.07" fill="#a998da"/>
<rect x="416.2" y="35.58" width="12.5" height="1.56" fill="#a694d8"/>
<rect x="428.7" y="34.07" width="12.5" height="3.07" fill="#d0c6ec"/>
<rect x="428.7" y="35.58" width="12.5" height="1.56" fill="#d2c8ec"/>
<rect x="441.2" y="34.07" width="12.5" height="3.07" fill="#a998da"/>
<rect x="441.2" y="35.58" width="12.5" height="1.56" fill="#ac9cdc"/>
<rect x="378.9" y="37.09" width="12.5" height="3.07" fill="#f8cdbe"/>
<rect x="378.9" y="38.59" width="12.5" height="1.56" fill="#f7bfab"/>
<rect x="391.3" y="37.09" width="12.5" height="3.07" fill="#f5a385"/>
<rect x="391.3" y="38.59" width="12.5" height="1.56" fill="#f5a689"/>
<rect x="403.8" y="37.09" width="12.5" height="3.07" fill="#f07442"/>
<rect x="403.8" y="37.09" width="12.5" height="1.56" fill="#ef6836"/>
<rect x="416.2" y="37.09" width="12.5" height="3.07" fill="#a998da"/>
<rect x="416.2" y="38.59" width="12.5" height="1.56" fill="#9c89d3"/>
<rect x="428.7" y="37.09" width="12.5" height="3.07" fill="#a998da"/>
<rect x="428.7" y="37.09" width="12.5" height="1.56" fill="#b3a4df"/>
<rect x="441.2" y="37.09" width="12.5" height="3.07" fill="#7c66c4"/>
<rect x="441.2" y="38.59" width="12.5" height="1.56" fill="#755fc0"/>
<rect x="378.9" y="40.10" width="12.5" height="3.07" fill="#f8cdbe"/>
<rect x="378.9" y="40.10" width="12.5" height="1.56" fill="#f7c0ac"/>
<rect x="391.3" y="40.10" width="12.5" height="3.07" fill="#f07442"/>
<rect x="391.3" y="41.61" width="12.5" height="1.56" fill="#f07644"/>
<rect x="403.8" y="40.10" width="12.5" height="3.07" fill="#ec4e1c"/>
<rect x="403.8" y="40.10" width="12.5" height="1.56" fill="#ed5523"/>
<rect x="416.2" y="40.10" width="12.5" height="3.07" fill="#a998da"/>
<rect x="416.2" y="40.10" width="12.5" height="1.56" fill="#9e8cd5"/>
<rect x="428.7" y="40.10" width="12.5" height="3.07" fill="#a998da"/>
<rect x="428.7" y="40.10" width="12.5" height="1.56" fill="#a08fd6"/>
<rect x="441.2" y="40.10" width="12.5" height="3.07" fill="#a998da"/>
<rect x="441.2" y="40.10" width="12.5" height="1.56" fill="#a694d8"/>
<rect x="378.9" y="43.12" width="12.5" height="3.07" fill="#f07442"/>
<rect x="378.9" y="43.12" width="12.5" height="1.56" fill="#f18154"/>
<rect x="391.3" y="43.12" width="12.5" height="3.07" fill="#f5a385"/>
<rect x="391.3" y="43.12" width="12.5" height="1.56" fill="#f5a588"/>
<rect x="403.8" y="43.12" width="12.5" height="3.07" fill="#f5a385"/>
<rect x="403.8" y="43.12" width="12.5" height="1.56" fill="#f49b7a"/>
<rect x="416.2" y="43.12" width="12.5" height="3.07" fill="#a998da"/>
<rect x="416.2" y="43.12" width="12.5" height="1.56" fill="#a18fd6"/>
<rect x="428.7" y="43.12" width="12.5" height="3.07" fill="#a998da"/>
<rect x="428.7" y="44.63" width="12.5" height="1.56" fill="#a391d7"/>
<rect x="441.2" y="43.12" width="12.5" height="3.07" fill="#a998da"/>
<rect x="441.2" y="43.12" width="12.5" height="1.56" fill="#a08ed5"/>
<rect x="378.9" y="46.14" width="12.5" height="3.07" fill="#ec4e1c"/>
<rect x="378.9" y="47.65" width="12.5" height="1.56" fill="#ec4e1c"/>
<rect x="391.3" y="46.14" width="12.5" height="3.07" fill="#f07442"/>
<rect x="391.3" y="47.65" width="12.5" height="1.56" fill="#f07544"/>
<rect x="403.8" y="46.14" width="12.5" height="3.07" fill="#f8cdbe"/>
<rect x="403.8" y="46.14" width="12.5" height="1.56" fill="#f8c9b8"/>
<rect x="416.2" y="46.14" width="12.5" height="3.07" fill="#d0c6ec"/>
<rect x="416.2" y="46.14" width="12.5" height="1.56" fill="#c5b9e7"/>
<rect x="428.7" y="46.14" width="12.5" height="3.07" fill="#a998da"/>
<rect x="428.7" y="46.14" width="12.5" height="1.56" fill="#b1a1de"/>
<rect x="441.2" y="46.14" width="12.5" height="3.07" fill="#7c66c4"/>
<rect x="441.2" y="47.65" width="12.5" height="1.56" fill="#8772c9"/>
<rect x="378.9" y="49.15" width="12.5" height="3.07" fill="#f07442"/>
<rect x="378.9" y="49.15" width="12.5" height="1.56" fill="#ef6937"/>
<rect x="391.3" y="49.15" width="12.5" height="3.07" fill="#f5a385"/>
<rect x="391.3" y="49.15" width="12.5" height="1.56" fill="#f6b199"/>
<rect x="403.8" y="49.15" width="12.5" height="3.07" fill="#f5a385"/>
<rect x="403.8" y="50.66" width="12.5" height="1.56" fill="#f6ab90"/>
<rect x="416.2" y="49.15" width="12.5" height="3.07" fill="#d0c6ec"/>
<rect x="416.2" y="50.66" width="12.5" height="1.56" fill="#d5cbec"/>
<rect x="428.7" y="49.15" width="12.5" height="3.07" fill="#7c66c4"/>
<rect x="428.7" y="50.66" width="12.5" height="1.56" fill="#826dc7"/>
<rect x="441.2" y="49.15" width="12.5" height="3.07" fill="#a998da"/>
<rect x="441.2" y="49.15" width="12.5" height="1.56" fill="#ad9cdc"/>
<rect x="378.9" y="52.17" width="12.5" height="3.07" fill="#ec4e1c"/>
<rect x="378.9" y="52.17" width="12.5" height="1.56" fill="#ec4e1c"/>
<rect x="391.3" y="52.17" width="12.5" height="3.07" fill="#f5a385"/>
<rect x="391.3" y="53.68" width="12.5" height="1.56" fill="#f49a78"/>
<rect x="403.8" y="52.17" width="12.5" height="3.07" fill="#f5a385"/>
<rect x="403.8" y="52.17" width="12.5" height="1.56" fill="#f49774"/>
<rect x="416.2" y="52.17" width="12.5" height="3.07" fill="#f2e8ee"/>
<rect x="416.2" y="53.68" width="12.5" height="1.56" fill="#ebe1ee"/>
<rect x="428.7" y="52.17" width="12.5" height="3.07" fill="#5440aa"/>
<rect x="428.7" y="52.17" width="12.5" height="1.56" fill="#5440aa"/>
<rect x="441.2" y="52.17" width="12.5" height="3.07" fill="#a998da"/>
<rect x="441.2" y="52.17" width="12.5" height="1.56" fill="#ac9bdb"/>
<rect x="378.9" y="55.19" width="12.5" height="3.07" fill="#f07442"/>
<rect x="378.9" y="56.70" width="12.5" height="1.56" fill="#ef6a38"/>
<rect x="391.3" y="55.19" width="12.5" height="3.07" fill="#f07442"/>
<rect x="391.3" y="55.19" width="12.5" height="1.56" fill="#f17949"/>
<rect x="403.8" y="55.19" width="12.5" height="3.07" fill="#f8cdbe"/>
<rect x="403.8" y="55.19" width="12.5" height="1.56" fill="#f7c1ad"/>
<rect x="416.2" y="55.19" width="12.5" height="3.07" fill="#7c66c4"/>
<rect x="416.2" y="55.19" width="12.5" height="1.56" fill="#755fbf"/>
<rect x="428.7" y="55.19" width="12.5" height="3.07" fill="#d0c6ec"/>
<rect x="428.7" y="56.70" width="12.5" height="1.56" fill="#c3b6e6"/>
<rect x="441.2" y="55.19" width="12.5" height="3.07" fill="#7c66c4"/>
<rect x="441.2" y="56.70" width="12.5" height="1.56" fill="#7660c0"/>
<rect x="378.9" y="58.21" width="12.5" height="3.07" fill="#f5a385"/>
<rect x="378.9" y="58.21" width="12.5" height="1.56" fill="#f49571"/>
<rect x="391.3" y="58.21" width="12.5" height="3.07" fill="#f5a385"/>
<rect x="391.3" y="58.21" width="12.5" height="1.56" fill="#f39470"/>
<rect x="403.8" y="58.21" width="12.5" height="3.07" fill="#f5a385"/>
<rect x="403.8" y="59.71" width="12.5" height="1.56" fill="#f49b79"/>
<rect x="416.2" y="58.21" width="12.5" height="3.07" fill="#7c66c4"/>
<rect x="416.2" y="58.21" width="12.5" height="1.56" fill="#8a76cb"/>
<rect x="428.7" y="58.21" width="12.5" height="3.07" fill="#d0c6ec"/>
<rect x="428.7" y="59.71" width="12.5" height="1.56" fill="#d0c6ec"/>
<rect x="441.2" y="58.21" width="12.5" height="3.07" fill="#a998da"/>
<rect x="441.2" y="58.21" width="12.5" height="1.56" fill="#ac9bdb"/>
<rect x="378.9" y="61.22" width="12.5" height="3.07" fill="#f07442"/>
<rect x="378.9" y="62.73" width="12.5" height="1.56" fill="#f17b4d"/>
<rect x="391.3" y="61.22" width="12.5" height="3.07" fill="#f07442"/>
<rect x="391.3" y="62.73" width="12.5" height="1.56" fill="#ef6a38"/>
<rect x="403.8" y="61.22" width="12.5" height="3.07" fill="#f07442"/>
<rect x="403.8" y="62.73" width="12.5" height="1.56" fill="#ef6836"/>
<rect x="416.2" y="61.22" width="12.5" height="3.07" fill="#7c66c4"/>
<rect x="416.2" y="62.73" width="12.5" height="1.56" fill="#705bbc"/>
<rect x="428.7" y="61.22" width="12.5" height="3.07" fill="#a998da"/>
<rect x="428.7" y="62.73" width="12.5" height="1.56" fill="#9d8ad4"/>
<rect x="441.2" y="61.22" width="12.5" height="3.07" fill="#d0c6ec"/>
<rect x="441.2" y="61.22" width="12.5" height="1.56" fill="#d4caec"/>
<rect x="378.9" y="64.24" width="12.5" height="3.07" fill="#f5a385"/>
<rect x="378.9" y="64.24" width="12.5" height="1.56" fill="#f6ad93"/>
<rect x="391.3" y="64.24" width="12.5" height="3.07" fill="#f5a385"/>
<rect x="391.3" y="65.75" width="12.5" height="1.56" fill="#f6ad92"/>
<rect x="403.8" y="64.24" width="12.5" height="3.07" fill="#f5a385"/>
<rect x="403.8" y="65.75" width="12.5" height="1.56" fill="#f6ab90"/>
<rect x="416.2" y="64.24" width="12.5" height="3.07" fill="#5440aa"/>
<rect x="416.2" y="64.24" width="12.5" height="1.56" fill="#5440aa"/>
<rect x="428.7" y="64.24" width="12.5" height="3.07" fill="#a998da"/>
<rect x="428.7" y="64.24" width="12.5" height="1.56" fill="#a897da"/>
<rect x="441.2" y="64.24" width="12.5" height="3.07" fill="#f2e8ee"/>
<rect x="441.2" y="64.24" width="12.5" height="1.56" fill="#f4dfde"/>
<rect x="378.9" y="67.26" width="12.5" height="3.07" fill="#7c66c4"/>
<rect x="378.9" y="67.26" width="12.5" height="1.56" fill="#7c66c4"/>
<rect x="391.3" y="67.26" width="12.5" height="3.07" fill="#a998da"/>
<rect x="391.3" y="68.77" width="12.5" height="1.56" fill="#9d8ad4"/>
<rect x="403.8" y="67.26" width="12.5" height="3.07" fill="#a998da"/>
<rect x="403.8" y="67.26" width="12.5" height="1.56" fill="#a492d8"/>
<rect x="416.2" y="67.26" width="12.5" height="3.07" fill="#f5a385"/>
<rect x="416.2" y="67.26" width="12.5" height="1.56" fill="#f49d7c"/>
<rect x="428.7" y="67.26" width="12.5" height="3.07" fill="#f5a385"/>
<rect x="428.7" y="68.77" width="12.5" height="1.56" fill="#f6b097"/>
<rect x="441.2" y="67.26" width="12.5" height="3.07" fill="#f07442"/>
<rect x="441.2" y="67.26" width="12.5" height="1.56" fill="#ef6735"/>
<rect x="378.9" y="70.27" width="12.5" height="3.07" fill="#a998da"/>
<rect x="378.9" y="71.78" width="12.5" height="1.56" fill="#a796d9"/>
<rect x="391.3" y="70.27" width="12.5" height="3.07" fill="#a998da"/>
<rect x="391.3" y="71.78" width="12.5" height="1.56" fill="#b2a3de"/>
<rect x="403.8" y="70.27" width="12.5" height="3.07" fill="#7c66c4"/>
<rect x="403.8" y="71.78" width="12.5" height="1.56" fill="#7d67c4"/>
<rect x="416.2" y="70.27" width="12.5" height="3.07" fill="#f5a385"/>
<rect x="416.2" y="70.27" width="12.5" height="1.56" fill="#f6b097"/>
<rect x="428.7" y="70.27" width="12.5" height="3.07" fill="#f07442"/>
<rect x="428.7" y="70.27" width="12.5" height="1.56" fill="#ef6b39"/>
<rect x="441.2" y="70.27" width="12.5" height="3.07" fill="#f07442"/>
<rect x="441.2" y="70.27" width="12.5" height="1.56" fill="#f07645"/>
<rect x="378.9" y="73.29" width="12.5" height="3.07" fill="#7c66c4"/>
<rect x="378.9" y="74.80" width="12.5" height="1.56" fill="#7963c2"/>
<rect x="391.3" y="73.29" width="12.5" height="3.07" fill="#a998da"/>
<rect x="391.3" y="73.29" width="12.5" height="1.56" fill="#b6a7e0"/>
<rect x="403.8" y="73.29" width="12.5" height="3.07" fill="#7c66c4"/>
<rect x="403.8" y="74.80" width="12.5" height="1.56" fill="#7761c1"/>
<rect x="416.2" y="73.29" width="12.5" height="3.07" fill="#f5a385"/>
<rect x="416.2" y="74.80" width="12.5" height="1.56" fill="#f49b7a"/>
<rect x="428.7" y="73.29" width="12.5" height="3.07" fill="#f07442"/>
<rect x="428.7" y="74.80" width="12.5" height="1.56" fill="#ef6f3d"/>
<rect x="441.2" y="73.29" width="12.5" height="3.07" fill="#f5a385"/>
<rect x="441.2" y="74.80" width="12.5" height="1.56" fill="#f49875"/>
<rect x="378.9" y="76.31" width="12.5" height="3.07" fill="#d0c6ec"/>
<rect x="378.9" y="76.31" width="12.5" height="1.56" fill="#cabfe9"/>
<rect x="391.3" y="76.31" width="12.5" height="3.07" fill="#a998da"/>
<rect x="391.3" y="77.82" width="12.5" height="1.56" fill="#b3a4df"/>
<rect x="403.8" y="76.31" width="12.5" height="3.07" fill="#7c66c4"/>
<rect x="403.8" y="76.31" width="12.5" height="1.56" fill="#8874ca"/>
<rect x="416.2" y="76.31" width="12.5" height="3.07" fill="#f5a385"/>
<rect x="416.2" y="77.82" width="12.5" height="1.56" fill="#f49b7a"/>
<rect x="428.7" y="76.31" width="12.5" height="3.07" fill="#f5a385"/>
<rect x="428.7" y="76.31" width="12.5" height="1.56" fill="#f6ac91"/>
<rect x="441.2" y="76.31" width="12.5" height="3.07" fill="#f5a385"/>
<rect x="441.2" y="76.31" width="12.5" height="1.56" fill="#f6ad92"/>
<rect x="378.9" y="79.33" width="12.5" height="3.07" fill="#a998da"/>
<rect x="378.9" y="80.83" width="12.5" height="1.56" fill="#ae9edc"/>
<rect x="391.3" y="79.33" width="12.5" height="3.07" fill="#7c66c4"/>
<rect x="391.3" y="80.83" width="12.5" height="1.56" fill="#8671c9"/>
<rect x="403.8" y="79.33" width="12.5" height="3.07" fill="#a998da"/>
<rect x="403.8" y="80.83" width="12.5" height="1.56" fill="#b6a7e0"/>
<rect x="416.2" y="79.33" width="12.5" height="3.07" fill="#f5a385"/>
<rect x="416.2" y="80.83" width="12.5" height="1.56" fill="#f5a587"/>
<rect x="428.7" y="79.33" width="12.5" height="3.07" fill="#f5a385"/>
<rect x="428.7" y="79.33" width="12.5" height="1.56" fill="#f49c7b"/>
<rect x="441.2" y="79.33" width="12.5" height="3.07" fill="#f5a385"/>
<rect x="441.2" y="79.33" width="12.5" height="1.56" fill="#f5a081"/>
<rect x="378.9" y="82.34" width="12.5" height="3.07" fill="#a998da"/>
<rect x="378.9" y="83.85" width="12.5" height="1.56" fill="#a694d8"/>
<rect x="391.3" y="82.34" width="12.5" height="3.07" fill="#a998da"/>
<rect x="391.3" y="83.85" width="12.5" height="1.56" fill="#9a87d2"/>
<rect x="403.8" y="82.34" width="12.5" height="3.07" fill="#7c66c4"/>
<rect x="403.8" y="82.34" width="12.5" height="1.56" fill="#7a64c3"/>
<rect x="416.2" y="82.34" width="12.5" height="3.07" fill="#f07442"/>
<rect x="416.2" y="83.85" width="12.5" height="1.56" fill="#f28256"/>
<rect x="428.7" y="82.34" width="12.5" height="3.07" fill="#f5a385"/>
<rect x="428.7" y="82.34" width="12.5" height="1.56" fill="#f5a88c"/>
<rect x="441.2" y="82.34" width="12.5" height="3.07" fill="#f5a385"/>
<rect x="441.2" y="83.85" width="12.5" height="1.56" fill="#f5a689"/>
<rect x="378.9" y="85.36" width="12.5" height="3.07" fill="#a998da"/>
<rect x="378.9" y="86.87" width="12.5" height="1.56" fill="#9c89d4"/>
<rect x="391.3" y="85.36" width="12.5" height="3.07" fill="#d0c6ec"/>
<rect x="391.3" y="85.36" width="12.5" height="1.56" fill="#c5b9e7"/>
<rect x="403.8" y="85.36" width="12.5" height="3.07" fill="#a998da"/>
<rect x="403.8" y="86.87" width="12.5" height="1.56" fill="#a593d8"/>
<rect x="416.2" y="85.36" width="12.5" height="3.07" fill="#f5a385"/>
<rect x="416.2" y="86.87" width="12.5" height="1.56" fill="#f49673"/>
<rect x="428.7" y="85.36" width="12.5" height="3.07" fill="#f5a385"/>
<rect x="428.7" y="85.36" width="12.5" height="1.56" fill="#f5a98d"/>
<rect x="441.2" y="85.36" width="12.5" height="3.07" fill="#ec4e1c"/>
<rect x="441.2" y="86.87" width="12.5" height="1.56" fill="#ec4e1c"/>
<rect x="378.9" y="88.38" width="12.5" height="3.07" fill="#7c66c4"/>
<rect x="378.9" y="89.89" width="12.5" height="1.56" fill="#806bc6"/>
<rect x="391.3" y="88.38" width="12.5" height="3.07" fill="#a998da"/>
<rect x="391.3" y="88.38" width="12.5" height="1.56" fill="#9f8dd5"/>
<rect x="403.8" y="88.38" width="12.5" height="3.07" fill="#d0c6ec"/>
<rect x="403.8" y="88.38" width="12.5" height="1.56" fill="#dbd1ed"/>
<rect x="416.2" y="88.38" width="12.5" height="3.07" fill="#f8cdbe"/>
<rect x="416.2" y="88.38" width="12.5" height="1.56" fill="#f7c3b0"/>
<rect x="428.7" y="88.38" width="12.5" height="3.07" fill="#f8cdbe"/>
<rect x="428.7" y="89.89" width="12.5" height="1.56" fill="#f6d6ce"/>
<rect x="441.2" y="88.38" width="12.5" height="3.07" fill="#ec4e1c"/>
<rect x="441.2" y="89.89" width="12.5" height="1.56" fill="#ed5422"/>
<rect x="378.9" y="91.39" width="12.5" height="3.07" fill="#a998da"/>
<rect x="378.9" y="91.39" width="12.5" height="1.56" fill="#b0a1dd"/>
<rect x="391.3" y="91.39" width="12.5" height="3.07" fill="#a998da"/>
<rect x="391.3" y="91.39" width="12.5" height="1.56" fill="#a998da"/>
<rect x="403.8" y="91.39" width="12.5" height="3.07" fill="#a998da"/>
<rect x="403.8" y="92.90" width="12.5" height="1.56" fill="#b4a5df"/>
<rect x="416.2" y="91.39" width="12.5" height="3.07" fill="#f2e8ee"/>
<rect x="416.2" y="92.90" width="12.5" height="1.56" fill="#f4e1e1"/>
<rect x="428.7" y="91.39" width="12.5" height="3.07" fill="#f5a385"/>
<rect x="428.7" y="92.90" width="12.5" height="1.56" fill="#f5a88b"/>
<rect x="441.2" y="91.39" width="12.5" height="3.07" fill="#ec4e1c"/>
<rect x="441.2" y="91.39" width="12.5" height="1.56" fill="#ec4e1c"/>
<rect x="378.9" y="94.41" width="12.5" height="3.07" fill="#a998da"/>
<rect x="378.9" y="95.92" width="12.5" height="1.56" fill="#a291d7"/>
<rect x="391.3" y="94.41" width="12.5" height="3.07" fill="#a998da"/>
<rect x="391.3" y="94.41" width="12.5" height="1.56" fill="#b4a5df"/>
<rect x="403.8" y="94.41" width="12.5" height="3.07" fill="#a998da"/>
<rect x="403.8" y="94.41" width="12.5" height="1.56" fill="#a493d8"/>
<rect x="416.2" y="94.41" width="12.5" height="3.07" fill="#f8cdbe"/>
<rect x="416.2" y="94.41" width="12.5" height="1.56" fill="#f7d0c3"/>
<rect x="428.7" y="94.41" width="12.5" height="3.07" fill="#f5a385"/>
<rect x="428.7" y="95.92" width="12.5" height="1.56" fill="#f6af95"/>
<rect x="441.2" y="94.41" width="12.5" height="3.07" fill="#ec4e1c"/>
<rect x="441.2" y="95.92" width="12.5" height="1.56" fill="#ec5220"/>
<rect x="378.9" y="97.43" width="12.5" height="3.07" fill="#a998da"/>
<rect x="378.9" y="98.94" width="12.5" height="1.56" fill="#a18fd6"/>
<rect x="391.3" y="97.43" width="12.5" height="3.07" fill="#a998da"/>
<rect x="391.3" y="97.43" width="12.5" height="1.56" fill="#b6a7e0"/>
<rect x="403.8" y="97.43" width="12.5" height="3.07" fill="#a998da"/>
<rect x="403.8" y="98.94" width="12.5" height="1.56" fill="#a593d8"/>
<rect x="416.2" y="97.43" width="12.5" height="3.07" fill="#f2e8ee"/>
<rect x="416.2" y="97.43" width="12.5" height="1.56" fill="#f0e6ee"/>
<rect x="428.7" y="97.43" width="12.5" height="3.07" fill="#f07442"/>
<rect x="428.7" y="98.94" width="12.5" height="1.56" fill="#f17f52"/>
<rect x="441.2" y="97.43" width="12.5" height="3.07" fill="#ec4e1c"/>
<rect x="441.2" y="98.94" width="12.5" height="1.56" fill="#ec5321"/>
<rect x="378.9" y="100.45" width="12.5" height="3.07" fill="#a998da"/>
<rect x="378.9" y="100.45" width="12.5" height="1.56" fill="#ab9adb"/>
<rect x="391.3" y="100.45" width="12.5" height="3.07" fill="#a998da"/>
<rect x="391.3" y="101.95" width="12.5" height="1.56" fill="#b6a8e0"/>
<rect x="403.8" y="100.45" width="12.5" height="3.07" fill="#7c66c4"/>
<rect x="403.8" y="101.95" width="12.5" height="1.56" fill="#846fc8"/>
<rect x="416.2" y="100.45" width="12.5" height="3.07" fill="#f2e8ee"/>
<rect x="416.2" y="101.95" width="12.5" height="1.56" fill="#f3e3e5"/>
<rect x="428.7" y="100.45" width="12.5" height="3.07" fill="#f5a385"/>
<rect x="428.7" y="100.45" width="12.5" height="1.56" fill="#f6ac91"/>
<rect x="441.2" y="100.45" width="12.5" height="3.07" fill="#ec4e1c"/>
<rect x="441.2" y="100.45" width="12.5" height="1.56" fill="#ec4e1c"/>
<rect x="378.9" y="103.46" width="12.5" height="3.07" fill="#a998da"/>
<rect x="378.9" y="104.97" width="12.5" height="1.56" fill="#b6a8e0"/>
<rect x="391.3" y="103.46" width="12.5" height="3.07" fill="#d0c6ec"/>
<rect x="391.3" y="103.46" width="12.5" height="1.56" fill="#d1c7ec"/>
<rect x="403.8" y="103.46" width="12.5" height="3.07" fill="#a998da"/>
<rect x="403.8" y="104.97" width="12.5" height="1.56" fill="#ac9cdb"/>
<rect x="416.2" y="103.46" width="12.5" height="3.07" fill="#f8cdbe"/>
<rect x="416.2" y="104.97" width="12.5" height="1.56" fill="#f8cbbb"/>
<rect x="428.7" y="103.46" width="12.5" height="3.07" fill="#f07442"/>
<rect x="428.7" y="104.97" width="12.5" height="1.56" fill="#f07543"/>
<rect x="441.2" y="103.46" width="12.5" height="3.07" fill="#ec4e1c"/>
<rect x="441.2" y="103.46" width="12.5" height="1.56" fill="#ec4e1c"/>
<rect x="378.9" y="106.48" width="12.5" height="3.07" fill="#f2e8ee"/>
<rect x="378.9" y="106.48" width="12.5" height="1.56" fill="#f3e2e3"/>
<rect x="391.3" y="106.48" width="12.5" height="3.07" fill="#a998da"/>
<rect x="391.3" y="107.99" width="12.5" height="1.56" fill="#b4a5df"/>
<rect x="403.8" y="106.48" width="12.5" height="3.07" fill="#7c66c4"/>
<rect x="403.8" y="106.48" width="12.5" height="1.56" fill="#735ebe"/>
<rect x="416.2" y="106.48" width="12.5" height="3.07" fill="#f8cdbe"/>
<rect x="416.2" y="106.48" width="12.5" height="1.56" fill="#f8c7b6"/>
<rect x="428.7" y="106.48" width="12.5" height="3.07" fill="#f07442"/>
<rect x="428.7" y="107.99" width="12.5" height="1.56" fill="#f07848"/>
<rect x="441.2" y="106.48" width="12.5" height="3.07" fill="#f07442"/>
<rect x="441.2" y="106.48" width="12.5" height="1.56" fill="#f1794a"/>
<rect x="378.9" y="109.50" width="12.5" height="3.07" fill="#a998da"/>
<rect x="378.9" y="111.01" width="12.5" height="1.56" fill="#aa9adb"/>
<rect x="391.3" y="109.50" width="12.5" height="3.07" fill="#a998da"/>
<rect x="391.3" y="109.50" width="12.5" height="1.56" fill="#b6a7e0"/>
<rect x="403.8" y="109.50" width="12.5" height="3.07" fill="#a998da"/>
<rect x="403.8" y="109.50" width="12.5" height="1.56" fill="#b0a0dd"/>
<rect x="416.2" y="109.50" width="12.5" height="3.07" fill="#f8cdbe"/>
<rect x="416.2" y="109.50" width="12.5" height="1.56" fill="#f7bfab"/>
<rect x="428.7" y="109.50" width="12.5" height="3.07" fill="#f5a385"/>
<rect x="428.7" y="109.50" width="12.5" height="1.56" fill="#f6af95"/>
<rect x="441.2" y="109.50" width="12.5" height="3.07" fill="#f5a385"/>
<rect x="441.2" y="109.50" width="12.5" height="1.56" fill="#f5a284"/>
<rect x="378.9" y="112.51" width="12.5" height="3.07" fill="#a998da"/>
<rect x="378.9" y="112.51" width="12.5" height="1.56" fill="#b0a1dd"/>
<rect x="391.3" y="112.51" width="12.5" height="3.07" fill="#7c66c4"/>
<rect x="391.3" y="112.51" width="12.5" height="1.56" fill="#846ec8"/>
<rect x="403.8" y="112.51" width="12.5" height="3.07" fill="#a998da"/>
<rect x="403.8" y="114.02" width="12.5" height="1.56" fill="#a998da"/>
<rect x="416.2" y="112.51" width="12.5" height="3.07" fill="#ec4e1c"/>
<rect x="416.2" y="112.51" width="12.5" height="1.56" fill="#ed5624"/>
<rect x="428.7" y="112.51" width="12.5" height="3.07" fill="#f8cdbe"/>
<rect x="428.7" y="112.51" width="12.5" height="1.56" fill="#f7c3b0"/>
<rect x="441.2" y="112.51" width="12.5" height="3.07" fill="#f8cdbe"/>
<rect x="441.2" y="114.02" width="12.5" height="1.56" fill="#f7d0c3"/>
<rect x="378.9" y="115.53" width="12.5" height="3.07" fill="#a998da"/>
<rect x="378.9" y="117.04" width="12.5" height="1.56" fill="#ae9edc"/>
<rect x="391.3" y="115.53" width="12.5" height="3.07" fill="#a998da"/>
<rect x="391.3" y="117.04" width="12.5" height="1.56" fill="#ab9adb"/>
<rect x="403.8" y="115.53" width="12.5" height="3.07" fill="#7c66c4"/>
<rect x="403.8" y="117.04" width="12.5" height="1.56" fill="#8874ca"/>
<rect x="416.2" y="115.53" width="12.5" height="3.07" fill="#ec4e1c"/>
<rect x="416.2" y="117.04" width="12.5" height="1.56" fill="#ec4e1c"/>
<rect x="428.7" y="115.53" width="12.5" height="3.07" fill="#f8cdbe"/>
<rect x="428.7" y="115.53" width="12.5" height="1.56" fill="#f8c7b6"/>
<rect x="441.2" y="115.53" width="12.5" height="3.07" fill="#f5a385"/>
<rect x="441.2" y="117.04" width="12.5" height="1.56" fill="#f6af95"/>
<rect x="378.9" y="118.55" width="12.5" height="3.07" fill="#7c66c4"/>
<rect x="378.9" y="118.55" width="12.5" height="1.56" fill="#7a64c2"/>
<rect x="391.3" y="118.55" width="12.5" height="3.07" fill="#a998da"/>
<rect x="391.3" y="120.06" width="12.5" height="1.56" fill="#aa9adb"/>
<rect x="403.8" y="118.55" width="12.5" height="3.07" fill="#a998da"/>
<rect x="403.8" y="118.55" width="12.5" height="1.56" fill="#b2a3de"/>
<rect x="416.2" y="118.55" width="12.5" height="3.07" fill="#ec4e1c"/>
<rect x="416.2" y="120.06" width="12.5" height="1.56" fill="#ec4e1c"/>
<rect x="428.7" y="118.55" width="12.5" height="3.07" fill="#f5a385"/>
<rect x="428.7" y="120.06" width="12.5" height="1.56" fill="#f3936f"/>
<rect x="441.2" y="118.55" width="12.5" height="3.07" fill="#f5a385"/>
<rect x="441.2" y="120.06" width="12.5" height="1.56" fill="#f5a182"/>
<rect x="378.9" y="121.57" width="12.5" height="3.07" fill="#a998da"/>
<rect x="378.9" y="123.07" width="12.5" height="1.56" fill="#ab9bdb"/>
<rect x="391.3" y="121.57" width="12.5" height="3.07" fill="#a998da"/>
<rect x="391.3" y="121.57" width="12.5" height="1.56" fill="#b6a8e0"/>
<rect x="403.8" y="121.57" width="12.5" height="3.07" fill="#d0c6ec"/>
<rect x="403.8" y="123.07" width="12.5" height="1.56" fill="#c6bae7"/>
<rect x="416.2" y="121.57" width="12.5" height="3.07" fill="#ec4e1c"/>
<rect x="416.2" y="123.07" width="12.5" height="1.56" fill="#ec4e1c"/>
<rect x="428.7" y="121.57" width="12.5" height="3.07" fill="#f8cdbe"/>
<rect x="428.7" y="121.57" width="12.5" height="1.56" fill="#f8cebf"/>
<rect x="441.2" y="121.57" width="12.5" height="3.07" fill="#f5a385"/>
<rect x="441.2" y="123.07" width="12.5" height="1.56" fill="#f6ae94"/>
<rect x="378.9" y="124.58" width="12.5" height="3.07" fill="#7c66c4"/>
<rect x="378.9" y="124.58" width="12.5" height="1.56" fill="#7660c0"/>
<rect x="391.3" y="124.58" width="12.5" height="3.07" fill="#a998da"/>
<rect x="391.3" y="126.09" width="12.5" height="1.56" fill="#9c8ad4"/>
<rect x="403.8" y="124.58" width="12.5" height="3.07" fill="#a998da"/>
<rect x="403.8" y="126.09" width="12.5" height="1.56" fill="#a695d9"/>
<rect x="416.2" y="124.58" width="12.5" height="3.07" fill="#f07442"/>
<rect x="416.2" y="124.58" width="12.5" height="1.56" fill="#f28256"/>
<rect x="428.7" y="124.58" width="12.5" height="3.07" fill="#f5a385"/>
<rect x="428.7" y="126.09" width="12.5" height="1.56" fill="#f49b79"/>
<rect x="441.2" y="124.58" width="12.5" height="3.07" fill="#f8cdbe"/>
<rect x="441.2" y="124.58" width="12.5" height="1.56" fill="#f7d3c8"/>
<path d="M375.9 23.1L375.9 23.9M375.9 23.1L378.6 23.1M375.9 23.9L378.6 23.9M375.6 22.4L375.6 23.5M375.6 22.4L378.6 22.4M375.6 23.5L375.9 23.5M375.7 25.4L375.7 26.1M375.7 25.4L378.6 25.4M375.7 26.1L378.6 26.1M375.5 24.6L375.5 25.8M375.5 24.6L378.6 24.6M375.5 25.8L375.7 25.8M375.6 27.7L375.6 28.4M375.6 27.7L378.6 27.7M375.6 28.4L378.6 28.4M375.1 26.9L375.1 28.0M375.1 26.9L378.6 26.9M375.1 28.0L375.6 28.0M374.8 25.2L374.8 27.5M374.8 25.2L375.5 25.2M374.8 27.5L375.1 27.5M375.9 29.9L375.9 30.7M375.9 29.9L378.6 29.9M375.9 30.7L378.6 30.7M375.7 29.2L375.7 30.3M375.7 29.2L378.6 29.2M375.7 30.3L375.9 30.3M374.4 26.3L374.4 29.7M374.4 26.3L374.8 26.3M374.4 29.7L375.7 29.7M373.9 22.9L373.9 28.0M373.9 22.9L375.6 22.9M373.9 28.0L374.4 28.0M375.5 32.9L375.5 33.7M375.5 32.9L378.6 32.9M375.5 33.7L378.6 33.7M375.0 32.2L375.0 33.3M375.0 32.2L378.6 32.2M375.0 33.3L375.5 33.3M374.8 32.7L374.8 34.4M374.8 32.7L375.0 32.7M374.8 34.4L378.6 34.4M374.6 33.6L374.6 35.2M374.6 33.6L374.8 33.6M374.6 35.2L378.6 35.2M374.3 31.4L374.3 34.4M374.3 31.4L378.6 31.4M374.3 34.4L374.6 34.4M372.8 25.5L372.8 32.9M372.8 25.5L373.9 25.5M372.8 32.9L374.3 32.9M375.7 36.7L375.7 37.5M375.7 36.7L378.6 36.7M375.7 37.5L378.6 37.5M375.4 36.0L375.4 37.1M375.4 36.0L378.6 36.0M375.4 37.1L375.7 37.1M376.0 39.0L376.0 39.7M376.0 39.0L378.6 39.0M376.0 39.7L378.6 39.7M375.5 38.2L375.5 39.3M375.5 38.2L378.6 38.2M375.5 39.3L376.0 39.3M374.6 36.5L374.6 38.8M374.6 36.5L375.4 36.5M374.6 38.8L375.5 38.8M376.0 40.5L376.0 41.2M376.0 40.5L378.6 40.5M376.0 41.2L378.6 41.2M375.5 42.0L375.5 42.7M375.5 42.0L378.6 42.0M375.5 42.7L378.6 42.7M374.8 40.9L374.8 42.4M374.8 40.9L376.0 40.9M374.8 42.4L375.5 42.4M374.6 41.6L374.6 43.5M374.6 41.6L374.8 41.6M374.6 43.5L378.6 43.5M374.3 42.6L374.3 44.3M374.3 42.6L374.6 42.6M374.3 44.3L378.6 44.3M373.5 37.7L373.5 43.4M373.5 37.7L374.6 37.7M373.5 43.4L374.3 43.4M375.8 46.5L375.8 47.3M375.8 46.5L378.6 46.5M375.8 47.3L378.6 47.3M375.2 45.8L375.2 46.9M375.2 45.8L378.6 45.8M375.2 46.9L375.8 46.9M375.1 45.0L375.1 46.3M375.1 45.0L378.6 45.0M375.1 46.3L375.2 46.3M375.9 48.0L375.9 48.8M375.9 48.0L378.6 48.0M375.9 48.8L378.6 48.8M375.8 49.5L375.8 50.3M375.8 49.5L378.6 49.5M375.8 50.3L378.6 50.3M376.0 52.5L376.0 53.3M376.0 52.5L378.6 52.5M376.0 53.3L378.6 53.3M375.7 51.8L375.7 52.9M375.7 51.8L378.6 51.8M375.7 52.9L376.0 52.9M374.7 52.4L374.7 54.1M374.7 52.4L375.7 52.4M374.7 54.1L378.6 54.1M374.9 53.2L374.9 54.8M374.9 53.2L374.7 53.2M374.9 54.8L378.6 54.8M374.5 51.0L374.5 54.0M374.5 51.0L378.6 51.0M374.5 54.0L374.9 54.0M374.5 49.9L374.5 52.5M374.5 49.9L375.8 49.9M374.5 52.5L374.5 52.5M373.9 48.4L373.9 51.2M373.9 48.4L375.9 48.4M373.9 51.2L374.5 51.2M373.4 45.7L373.4 49.8M373.4 45.7L375.1 45.7M373.4 49.8L373.9 49.8M375.4 56.3L375.4 57.1M375.4 56.3L378.6 56.3M375.4 57.1L378.6 57.1M375.0 55.6L375.0 56.7M375.0 55.6L378.6 55.6M375.0 56.7L375.4 56.7M375.5 59.3L375.5 60.1M375.5 59.3L378.6 59.3M375.5 60.1L378.6 60.1M375.4 58.6L375.4 59.7M375.4 58.6L378.6 58.6M375.4 59.7L375.5 59.7M374.8 57.8L374.8 59.1M374.8 57.8L378.6 57.8M374.8 59.1L375.4 59.1M374.1 56.1L374.1 58.5M374.1 56.1L375.0 56.1M374.1 58.5L374.8 58.5M375.9 61.6L375.9 62.4M375.9 61.6L378.6 61.6M375.9 62.4L378.6 62.4M375.6 63.1L375.6 63.9M375.6 63.1L378.6 63.1M375.6 63.9L378.6 63.9M374.9 62.0L374.9 63.5M374.9 62.0L375.9 62.0M374.9 63.5L375.6 63.5M374.4 60.8L374.4 62.7M374.4 60.8L378.6 60.8M374.4 62.7L374.9 62.7M374.0 57.3L374.0 61.8M374.0 57.3L374.1 57.3M374.0 61.8L374.4 61.8M375.8 64.6L375.8 65.4M375.8 64.6L378.6 64.6M375.8 65.4L378.6 65.4M375.5 66.1L375.5 66.9M375.5 66.1L378.6 66.1M375.5 66.9L378.6 66.9M375.0 65.0L375.0 66.5M375.0 65.0L375.8 65.0M375.0 66.5L375.5 66.5M373.0 59.5L373.0 65.7M373.0 59.5L374.0 59.5M373.0 65.7L375.0 65.7M372.4 47.7L372.4 62.6M372.4 47.7L373.4 47.7M372.4 62.6L373.0 62.6M371.2 40.5L371.2 55.2M371.2 40.5L373.5 40.5M371.2 55.2L372.4 55.2M370.5 29.2L370.5 47.9M370.5 29.2L372.8 29.2M370.5 47.9L371.2 47.9M376.1 69.1L376.1 69.9M376.1 69.1L378.6 69.1M376.1 69.9L378.6 69.9M375.7 70.7L375.7 71.4M375.7 70.7L378.6 70.7M375.7 71.4L378.6 71.4M375.0 69.5L375.0 71.0M375.0 69.5L376.1 69.5M375.0 71.0L375.7 71.0M374.7 68.4L374.7 70.3M374.7 68.4L378.6 68.4M374.7 70.3L375.0 70.3M374.8 67.6L374.8 69.3M374.8 67.6L378.6 67.6M374.8 69.3L374.7 69.3M376.0 73.7L376.0 74.4M376.0 73.7L378.6 73.7M376.0 74.4L378.6 74.4M375.4 75.2L375.4 75.9M375.4 75.2L378.6 75.2M375.4 75.9L378.6 75.9M376.1 76.7L376.1 77.4M376.1 76.7L378.6 76.7M376.1 77.4L378.6 77.4M375.1 75.6L375.1 77.1M375.1 75.6L375.4 75.6M375.1 77.1L376.1 77.1M374.5 74.0L374.5 76.3M374.5 74.0L376.0 74.0M374.5 76.3L375.1 76.3M374.6 72.9L374.6 75.2M374.6 72.9L378.6 72.9M374.6 75.2L374.5 75.2M373.8 72.2L373.8 74.0M373.8 72.2L378.6 72.2M373.8 74.0L374.6 74.0M375.8 78.2L375.8 78.9M375.8 78.2L378.6 78.2M375.8 78.9L378.6 78.9M376.1 79.7L376.1 80.5M376.1 79.7L378.6 79.7M376.1 80.5L378.6 80.5M374.9 78.6L374.9 80.1M374.9 78.6L375.8 78.6M374.9 80.1L376.1 80.1M374.8 79.3L374.8 81.2M374.8 79.3L374.9 79.3M374.8 81.2L378.6 81.2M375.6 82.7L375.6 83.5M375.6 82.7L378.6 82.7M375.6 83.5L378.6 83.5M375.5 82.0L375.5 83.1M375.5 82.0L378.6 82.0M375.5 83.1L375.6 83.1M374.8 82.5L374.8 84.2M374.8 82.5L375.5 82.5M374.8 84.2L378.6 84.2M375.0 83.4L375.0 85.0M375.0 83.4L374.8 83.4M375.0 85.0L378.6 85.0M375.9 85.7L375.9 86.5M375.9 85.7L378.6 85.7M375.9 86.5L378.6 86.5M375.8 88.0L375.8 88.8M375.8 88.0L378.6 88.0M375.8 88.8L378.6 88.8M375.6 87.2L375.6 88.4M375.6 87.2L378.6 87.2M375.6 88.4L375.8 88.4M375.0 86.1L375.0 87.8M375.0 86.1L375.9 86.1M375.0 87.8L375.6 87.8M373.6 84.2L373.6 87.0M373.6 84.2L375.0 84.2M373.6 87.0L375.0 87.0M373.4 80.3L373.4 85.6M373.4 80.3L374.8 80.3M373.4 85.6L373.6 85.6M373.0 73.1L373.0 82.9M373.0 73.1L373.8 73.1M373.0 82.9L373.4 82.9M372.1 68.5L372.1 78.0M372.1 68.5L374.8 68.5M372.1 78.0L373.0 78.0M375.9 91.0L375.9 91.8M375.9 91.0L378.6 91.0M375.9 91.8L378.6 91.8M375.1 90.3L375.1 91.4M375.1 90.3L378.6 90.3M375.1 91.4L375.9 91.4M375.7 92.5L375.7 93.3M375.7 92.5L378.6 92.5M375.7 93.3L378.6 93.3M375.2 90.8L375.2 92.9M375.2 90.8L375.1 90.8M375.2 92.9L375.7 92.9M374.4 89.5L374.4 91.9M374.4 89.5L378.6 89.5M374.4 91.9L375.2 91.9M376.0 94.0L376.0 94.8M376.0 94.0L378.6 94.0M376.0 94.8L378.6 94.8M376.1 95.5L376.1 96.3M376.1 95.5L378.6 95.5M376.1 96.3L378.6 96.3M375.8 97.8L375.8 98.6M375.8 97.8L378.6 97.8M375.8 98.6L378.6 98.6M375.6 97.1L375.6 98.2M375.6 97.1L378.6 97.1M375.6 98.2L375.8 98.2M374.9 95.9L374.9 97.6M374.9 95.9L376.1 95.9M374.9 97.6L375.6 97.6M374.8 96.8L374.8 99.3M374.8 96.8L374.9 96.8M374.8 99.3L378.6 99.3M373.9 94.4L373.9 98.0M373.9 94.4L376.0 94.4M373.9 98.0L374.8 98.0M375.7 100.8L375.7 101.6M375.7 100.8L378.6 100.8M375.7 101.6L378.6 101.6M375.0 100.1L375.0 101.2M375.0 100.1L378.6 100.1M375.0 101.2L375.7 101.2M375.2 100.6L375.2 102.3M375.2 100.6L375.0 100.6M375.2 102.3L378.6 102.3M376.1 103.8L376.1 104.6M376.1 103.8L378.6 103.8M376.1 104.6L378.6 104.6M375.6 103.1L375.6 104.2M375.6 103.1L378.6 103.1M375.6 104.2L376.1 104.2M374.7 101.5L374.7 103.7M374.7 101.5L375.2 101.5M374.7 103.7L375.6 103.7M374.6 102.6L374.6 105.3M374.6 102.6L374.7 102.6M374.6 105.3L378.6 105.3M375.7 106.9L375.7 107.6M375.7 106.9L378.6 106.9M375.7 107.6L378.6 107.6M375.6 106.1L375.6 107.2M375.6 106.1L378.6 106.1M375.6 107.2L375.7 107.2M375.4 108.4L375.4 109.1M375.4 108.4L378.6 108.4M375.4 109.1L378.6 109.1M375.3 111.4L375.3 112.1M375.3 111.4L378.6 111.4M375.3 112.1L378.6 112.1M375.2 110.6L375.2 111.8M375.2 110.6L378.6 110.6M375.2 111.8L375.3 111.8M374.9 109.9L374.9 111.2M374.9 109.9L378.6 109.9M374.9 111.2L375.2 111.2M374.7 108.7L374.7 110.5M374.7 108.7L375.4 108.7M374.7 110.5L374.9 110.5M373.8 106.7L373.8 109.6M373.8 106.7L375.6 106.7M373.8 109.6L374.7 109.6M372.9 104.0L372.9 108.2M372.9 104.0L374.6 104.0M372.9 108.2L373.8 108.2M372.5 96.2L372.5 106.1M372.5 96.2L373.9 96.2M372.5 106.1L372.9 106.1M376.0 113.6L376.0 114.4M376.0 113.6L378.6 113.6M376.0 114.4L378.6 114.4M375.0 112.9L375.0 114.0M375.0 112.9L378.6 112.9M375.0 114.0L376.0 114.0M376.0 115.2L376.0 115.9M376.0 115.2L378.6 115.2M376.0 115.9L378.6 115.9M374.5 113.5L374.5 115.5M374.5 113.5L375.0 113.5M374.5 115.5L376.0 115.5M375.8 117.4L375.8 118.2M375.8 117.4L378.6 117.4M375.8 118.2L378.6 118.2M375.3 116.7L375.3 117.8M375.3 116.7L378.6 116.7M375.3 117.8L375.8 117.8M375.3 118.9L375.3 119.7M375.3 118.9L378.6 118.9M375.3 119.7L378.6 119.7M374.5 117.2L374.5 119.3M374.5 117.2L375.3 117.2M374.5 119.3L375.3 119.3M373.9 114.5L373.9 118.3M373.9 114.5L374.5 114.5M373.9 118.3L374.5 118.3M376.1 121.2L376.1 121.9M376.1 121.2L378.6 121.2M376.1 121.9L378.6 121.9M375.7 120.4L375.7 121.6M375.7 120.4L378.6 120.4M375.7 121.6L376.1 121.6M375.4 123.5L375.4 124.2M375.4 123.5L378.6 123.5M375.4 124.2L378.6 124.2M374.9 122.7L374.9 123.8M374.9 122.7L378.6 122.7M374.9 123.8L375.4 123.8M375.7 125.0L375.7 125.7M375.7 125.0L378.6 125.0M375.7 125.7L378.6 125.7M374.5 123.3L374.5 125.3M374.5 123.3L374.9 123.3M374.5 125.3L375.7 125.3M375.6 126.5L375.6 127.2M375.6 126.5L378.6 126.5M375.6 127.2L378.6 127.2M374.7 124.3L374.7 126.8M374.7 124.3L374.5 124.3M374.7 126.8L375.6 126.8M374.3 121.0L374.3 125.6M374.3 121.0L375.7 121.0M374.3 125.6L374.7 125.6M372.6 116.4L372.6 123.3M372.6 116.4L373.9 116.4M372.6 123.3L374.3 123.3M371.5 101.1L371.5 119.8M371.5 101.1L372.5 101.1M371.5 119.8L372.6 119.8M371.1 90.7L371.1 110.5M371.1 90.7L374.4 90.7M371.1 110.5L371.5 110.5M370.2 73.2L370.2 100.6M370.2 73.2L372.1 73.2M370.2 100.6L371.1 100.6M365.0 38.5L365.0 86.9M365.0 38.5L370.5 38.5M365.0 86.9L370.2 86.9" stroke="#2a2a2a" stroke-width="0.5" fill="none"/>
<text x="419.00" y="16.30" font-size="9.6" fill="#222" text-anchor="middle" textLength="30.60" lengthAdjust="spacingAndGlyphs" stroke="#222" stroke-width="0.150">N + LTB</text>
<line x1="378.90" y1="130.60" x2="414.65" y2="130.60" stroke="#666" stroke-width="0.8"/>
<line x1="417.85" y1="130.60" x2="453.60" y2="130.60" stroke="#666" stroke-width="0.8"/>
<text x="396.77" y="138.40" font-size="6.3" fill="#333" text-anchor="middle" textLength="8.82" lengthAdjust="spacingAndGlyphs" stroke="#333" stroke-width="0.150">WT</text>
<text x="435.73" y="138.40" font-size="6.3" fill="#333" text-anchor="middle" textLength="22.77" lengthAdjust="spacingAndGlyphs" stroke="#333" stroke-width="0.150">R1984A</text>
<path d="M126.00 23.60L128.00 23.60L133.80 23.60" stroke="#444" stroke-width="0.7" fill="none"/>
<text x="135.00" y="25.20" font-size="4.45" fill="#333" textLength="19.07" lengthAdjust="spacingAndGlyphs" stroke="#333" stroke-width="0.000">PGPEP1L</text>
<path d="M126.00 28.60L128.00 28.60L133.80 28.00" stroke="#444" stroke-width="0.7" fill="none"/>
<text x="135.00" y="29.60" font-size="4.45" fill="#333" textLength="8.37" lengthAdjust="spacingAndGlyphs" stroke="#333" stroke-width="0.000">CR2</text>
<path d="M126.00 28.90L128.00 28.90L133.80 31.60" stroke="#444" stroke-width="0.7" fill="none"/>
<text x="135.00" y="33.20" font-size="4.45" fill="#333" textLength="13.72" lengthAdjust="spacingAndGlyphs" stroke="#333" stroke-width="0.000">ABCA1</text>
<path d="M126.00 29.20L128.00 29.20L133.80 35.50" stroke="#444" stroke-width="0.7" fill="none"/>
<text x="135.00" y="37.10" font-size="4.45" fill="#333" textLength="10.93" lengthAdjust="spacingAndGlyphs" stroke="#333" stroke-width="0.000">HES5</text>
<path d="M126.00 29.50L128.00 29.50L133.80 39.20" stroke="#444" stroke-width="0.7" fill="none"/>
<text x="135.00" y="40.80" font-size="4.45" fill="#333" textLength="14.65" lengthAdjust="spacingAndGlyphs" stroke="#333" stroke-width="0.000">MYO7B</text>
<path d="M126.00 60.00L128.00 60.00L133.80 51.90" stroke="#444" stroke-width="0.7" fill="none"/>
<text x="135.00" y="53.50" font-size="4.45" fill="#333" textLength="15.81" lengthAdjust="spacingAndGlyphs" stroke="#333" stroke-width="0.000">CD300A</text>
<path d="M126.00 60.40L128.00 60.40L133.80 56.20" stroke="#444" stroke-width="0.7" fill="none"/>
<text x="135.00" y="57.80" font-size="4.45" fill="#333" textLength="8.37" lengthAdjust="spacingAndGlyphs" stroke="#333" stroke-width="0.000">CR1</text>
<path d="M126.00 60.80L128.00 60.80L133.80 61.10" stroke="#444" stroke-width="0.7" fill="none"/>
<text x="135.00" y="62.70" font-size="4.45" fill="#333" textLength="13.95" lengthAdjust="spacingAndGlyphs" stroke="#333" stroke-width="0.000">PCGF5</text>
<path d="M126.00 61.20L128.00 61.20L133.80 65.70" stroke="#444" stroke-width="0.7" fill="none"/>
<text x="135.00" y="67.30" font-size="4.45" fill="#333" font-weight="bold" textLength="10.93" lengthAdjust="spacingAndGlyphs" stroke="#333" stroke-width="0.312">HES4</text>
<path d="M126.00 74.00L128.00 74.00L133.80 74.00" stroke="#444" stroke-width="0.7" fill="none"/>
<text x="135.00" y="75.60" font-size="4.45" fill="#333" textLength="13.49" lengthAdjust="spacingAndGlyphs" stroke="#333" stroke-width="0.000">SPSB1</text>
<path d="M126.00 87.00L128.00 87.00L133.80 87.00" stroke="#444" stroke-width="0.7" fill="none"/>
<text x="135.00" y="88.60" font-size="4.45" fill="#333" textLength="16.27" lengthAdjust="spacingAndGlyphs" stroke="#333" stroke-width="0.000">FAM46C</text>
<path d="M126.00 121.90L128.00 121.90L133.80 121.90" stroke="#444" stroke-width="0.7" fill="none"/>
<text x="135.00" y="123.50" font-size="4.45" fill="#333" textLength="13.71" lengthAdjust="spacingAndGlyphs" stroke="#333" stroke-width="0.000">TPCN1</text>
<path d="M126.00 126.50L128.00 126.50L133.80 126.50" stroke="#444" stroke-width="0.7" fill="none"/>
<text x="135.00" y="128.10" font-size="4.45" fill="#333" textLength="10.46" lengthAdjust="spacingAndGlyphs" stroke="#333" stroke-width="0.000">LRP4</text>
<path d="M299.80 21.70L301.80 21.70L307.80 21.70" stroke="#444" stroke-width="0.7" fill="none"/>
<text x="309.00" y="23.30" font-size="4.45" fill="#333" textLength="10.93" lengthAdjust="spacingAndGlyphs" stroke="#333" stroke-width="0.000">HES1</text>
<path d="M299.80 27.80L301.80 27.80L307.80 27.80" stroke="#444" stroke-width="0.7" fill="none"/>
<text x="309.00" y="29.40" font-size="4.45" fill="#333" textLength="13.95" lengthAdjust="spacingAndGlyphs" stroke="#333" stroke-width="0.000">PCGF5</text>
<path d="M299.80 48.00L301.80 48.00L307.80 40.50" stroke="#444" stroke-width="0.7" fill="none"/>
<text x="309.00" y="42.10" font-size="4.45" fill="#333" textLength="12.32" lengthAdjust="spacingAndGlyphs" stroke="#333" stroke-width="0.000">IGF1R</text>
<path d="M299.80 48.30L301.80 48.30L307.80 44.80" stroke="#444" stroke-width="0.7" fill="none"/>
<text x="309.00" y="46.40" font-size="4.45" fill="#333" font-weight="bold" textLength="10.93" lengthAdjust="spacingAndGlyphs" stroke="#333" stroke-width="0.312">HES4</text>
<path d="M299.80 48.60L301.80 48.60L307.80 48.20" stroke="#444" stroke-width="0.7" fill="none"/>
<text x="309.00" y="49.80" font-size="4.45" fill="#333" textLength="8.37" lengthAdjust="spacingAndGlyphs" stroke="#333" stroke-width="0.000">CR2</text>
<path d="M299.80 48.90L301.80 48.90L307.80 51.50" stroke="#444" stroke-width="0.7" fill="none"/>
<text x="309.00" y="53.10" font-size="4.45" fill="#333" textLength="14.65" lengthAdjust="spacingAndGlyphs" stroke="#333" stroke-width="0.000">MYO7B</text>
<path d="M299.80 49.20L301.80 49.20L307.80 55.80" stroke="#444" stroke-width="0.7" fill="none"/>
<text x="309.00" y="57.40" font-size="4.45" fill="#333" textLength="13.72" lengthAdjust="spacingAndGlyphs" stroke="#333" stroke-width="0.000">ABCA1</text>
<path d="M299.80 49.50L301.80 49.50L307.80 59.80" stroke="#444" stroke-width="0.7" fill="none"/>
<text x="309.00" y="61.40" font-size="4.45" fill="#333" textLength="8.37" lengthAdjust="spacingAndGlyphs" stroke="#333" stroke-width="0.000">CR1</text>
<path d="M299.80 49.80L301.80 49.80L307.80 64.70" stroke="#444" stroke-width="0.7" fill="none"/>
<text x="309.00" y="66.30" font-size="4.45" fill="#333" textLength="15.81" lengthAdjust="spacingAndGlyphs" stroke="#333" stroke-width="0.000">CD300A</text>
<path d="M299.80 81.20L301.80 81.20L307.80 81.20" stroke="#444" stroke-width="0.7" fill="none"/>
<text x="309.00" y="82.80" font-size="4.45" fill="#333" textLength="10.46" lengthAdjust="spacingAndGlyphs" stroke="#333" stroke-width="0.000">LRP4</text>
<path d="M299.80 121.00L301.80 121.00L307.80 121.00" stroke="#444" stroke-width="0.7" fill="none"/>
<text x="309.00" y="122.60" font-size="4.45" fill="#333" textLength="13.49" lengthAdjust="spacingAndGlyphs" stroke="#333" stroke-width="0.000">SPSB1</text>
<path d="M453.60 33.00L455.60 33.00L460.90 24.70" stroke="#444" stroke-width="0.7" fill="none"/>
<text x="462.10" y="26.30" font-size="4.45" fill="#333" font-weight="bold" textLength="10.93" lengthAdjust="spacingAndGlyphs" stroke="#333" stroke-width="0.312">HES4</text>
<path d="M453.60 33.30L455.60 33.30L460.90 28.50" stroke="#444" stroke-width="0.7" fill="none"/>
<text x="462.10" y="30.10" font-size="4.45" fill="#333" textLength="8.37" lengthAdjust="spacingAndGlyphs" stroke="#333" stroke-width="0.000">CR2</text>
<path d="M453.60 33.60L455.60 33.60L460.90 31.80" stroke="#444" stroke-width="0.7" fill="none"/>
<text x="462.10" y="33.40" font-size="4.45" fill="#333" textLength="8.37" lengthAdjust="spacingAndGlyphs" stroke="#333" stroke-width="0.000">CR1</text>
<path d="M453.60 33.90L455.60 33.90L460.90 35.20" stroke="#444" stroke-width="0.7" fill="none"/>
<text x="462.10" y="36.80" font-size="4.45" fill="#333" textLength="13.72" lengthAdjust="spacingAndGlyphs" stroke="#333" stroke-width="0.000">ABCA1</text>
<path d="M453.60 34.20L455.60 34.20L460.90 38.60" stroke="#444" stroke-width="0.7" fill="none"/>
<text x="462.10" y="40.20" font-size="4.45" fill="#333" textLength="14.65" lengthAdjust="spacingAndGlyphs" stroke="#333" stroke-width="0.000">MYO7B</text>
<path d="M453.60 34.50L455.60 34.50L460.90 41.90" stroke="#444" stroke-width="0.7" fill="none"/>
<text x="462.10" y="43.50" font-size="4.45" fill="#333" textLength="17.68" lengthAdjust="spacingAndGlyphs" stroke="#333" stroke-width="0.000">EPB41L5</text>
<path d="M453.60 40.00L455.60 40.00L460.90 46.90" stroke="#444" stroke-width="0.7" fill="none"/>
<text x="462.10" y="48.50" font-size="4.45" fill="#333" textLength="19.29" lengthAdjust="spacingAndGlyphs" stroke="#333" stroke-width="0.000">TMEM158</text>
<path d="M453.60 52.00L455.60 52.00L460.90 52.40" stroke="#444" stroke-width="0.7" fill="none"/>
<text x="462.10" y="54.00" font-size="4.45" fill="#333" textLength="12.32" lengthAdjust="spacingAndGlyphs" stroke="#333" stroke-width="0.000">IGF1R</text>
<path d="M453.60 57.40L455.60 57.40L460.90 57.80" stroke="#444" stroke-width="0.7" fill="none"/>
<text x="462.10" y="59.40" font-size="4.45" fill="#333" textLength="13.95" lengthAdjust="spacingAndGlyphs" stroke="#333" stroke-width="0.000">PCGF5</text>
<path d="M453.60 62.00L455.60 62.00L460.90 62.10" stroke="#444" stroke-width="0.7" fill="none"/>
<text x="462.10" y="63.70" font-size="4.45" fill="#333" textLength="15.81" lengthAdjust="spacingAndGlyphs" stroke="#333" stroke-width="0.000">CD300A</text>
<path d="M453.60 66.10L455.60 66.10L460.90 66.10" stroke="#444" stroke-width="0.7" fill="none"/>
<text x="462.10" y="67.70" font-size="4.45" fill="#333" textLength="10.93" lengthAdjust="spacingAndGlyphs" stroke="#333" stroke-width="0.000">HES1</text>
<path d="M453.60 113.40L455.60 113.40L460.90 108.30" stroke="#444" stroke-width="0.7" fill="none"/>
<text x="462.10" y="109.90" font-size="4.45" fill="#333" textLength="13.49" lengthAdjust="spacingAndGlyphs" stroke="#333" stroke-width="0.000">SPSB1</text>
<path d="M453.60 113.40L455.60 113.40L460.90 113.40" stroke="#444" stroke-width="0.7" fill="none"/>
<text x="462.10" y="115.00" font-size="4.45" fill="#333" textLength="10.46" lengthAdjust="spacingAndGlyphs" stroke="#333" stroke-width="0.000">LRP4</text>
<path d="M453.60 117.20L455.60 117.20L460.90 117.20" stroke="#444" stroke-width="0.7" fill="none"/>
<text x="462.10" y="118.80" font-size="4.45" fill="#333" textLength="16.27" lengthAdjust="spacingAndGlyphs" stroke="#333" stroke-width="0.000">FAM46C</text>
<defs><linearGradient id="mm" x1="0" y1="0" x2="0" y2="1"><stop offset="0" stop-color="#e84a1c"/><stop offset="0.3" stop-color="#f28a68"/><stop offset="0.52" stop-color="#f4eef4"/><stop offset="0.68" stop-color="#9a90cc"/><stop offset="0.83" stop-color="#3c3690"/><stop offset="1" stop-color="#24207a"/></linearGradient><linearGradient id="fdr" x1="0" y1="0" x2="0" y2="1"><stop offset="0" stop-color="#cc1018"/><stop offset="1" stop-color="#f04c14"/></linearGradient></defs>
<rect x="483.6" y="31.80" width="6.8" height="35.00" fill="url(#mm)"/>
<text x="492.20" y="35.00" font-size="6.4" fill="#222" textLength="11.12" lengthAdjust="spacingAndGlyphs" stroke="#222" stroke-width="0.150">Max</text>
<text x="492.20" y="67.00" font-size="6.4" fill="#222" textLength="9.49" lengthAdjust="spacingAndGlyphs" stroke="#222" stroke-width="0.150">Min</text>
<line x1="80.10" y1="164.80" x2="82.70" y2="164.80" stroke="#111" stroke-width="0.8"/>
<text x="76.80" y="166.00" font-size="3.2" fill="#4a4a4a" text-anchor="end" textLength="51.17" lengthAdjust="spacingAndGlyphs" stroke="#4a4a4a" stroke-width="0.000">HALLMARK_MTORC1_SIGNALING</text>
<line x1="119.60" y1="164.80" x2="85.60" y2="164.80" stroke="#6e6e6e" stroke-width="0.95"/>
<circle cx="85.60" cy="164.80" r="2.50" fill="#e2381f"/>
<line x1="80.10" y1="171.08" x2="82.70" y2="171.08" stroke="#111" stroke-width="0.8"/>
<text x="76.80" y="172.28" font-size="3.2" fill="#4a4a4a" text-anchor="end" textLength="60.09" lengthAdjust="spacingAndGlyphs" stroke="#4a4a4a" stroke-width="0.000">HALLMARK_FATTY_ACID_METABOLISM</text>
<line x1="119.60" y1="171.08" x2="88.30" y2="171.08" stroke="#6e6e6e" stroke-width="0.95"/>
<circle cx="88.30" cy="171.08" r="2.00" fill="#e2381f"/>
<line x1="80.10" y1="177.36" x2="82.70" y2="177.36" stroke="#111" stroke-width="0.8"/>
<text x="76.80" y="178.56" font-size="3.2" fill="#4a4a4a" text-anchor="end" textLength="48.01" lengthAdjust="spacingAndGlyphs" stroke="#4a4a4a" stroke-width="0.000">HALLMARK_MYC_TARGETS_V1</text>
<line x1="119.60" y1="177.36" x2="91.30" y2="177.36" stroke="#6e6e6e" stroke-width="0.95"/>
<circle cx="91.30" cy="177.36" r="2.50" fill="#e2361f"/>
<line x1="80.10" y1="183.64" x2="82.70" y2="183.64" stroke="#111" stroke-width="0.8"/>
<text x="76.80" y="184.84" font-size="3.2" fill="#4a4a4a" text-anchor="end" textLength="48.01" lengthAdjust="spacingAndGlyphs" stroke="#4a4a4a" stroke-width="0.000">HALLMARK_MYC_TARGETS_V2</text>
<line x1="119.60" y1="183.64" x2="91.70" y2="183.64" stroke="#6e6e6e" stroke-width="0.95"/>
<circle cx="91.70" cy="183.64" r="1.30" fill="#e0341f"/>
<line x1="80.10" y1="189.92" x2="82.70" y2="189.92" stroke="#111" stroke-width="0.8"/>
<text x="76.80" y="191.12" font-size="3.2" fill="#4a4a4a" text-anchor="end" textLength="41.14" lengthAdjust="spacingAndGlyphs" stroke="#4a4a4a" stroke-width="0.000">HALLMARK_E2F_TARGETS</text>
<line x1="119.60" y1="189.92" x2="91.90" y2="189.92" stroke="#6e6e6e" stroke-width="0.95"/>
<circle cx="91.90" cy="189.92" r="2.50" fill="#e2361f"/>
<line x1="80.10" y1="196.20" x2="82.70" y2="196.20" stroke="#111" stroke-width="0.8"/>
<text x="76.80" y="197.40" font-size="3.2" fill="#4a4a4a" text-anchor="end" textLength="40.14" lengthAdjust="spacingAndGlyphs" stroke="#4a4a4a" stroke-width="0.000">HALLMARK_PEROXISOME</text>
<line x1="119.60" y1="196.20" x2="94.50" y2="196.20" stroke="#6e6e6e" stroke-width="0.95"/>
<circle cx="94.50" cy="196.20" r="1.70" fill="#e0341f"/>
<line x1="80.10" y1="202.48" x2="82.70" y2="202.48" stroke="#111" stroke-width="0.8"/>
<text x="76.80" y="203.68" font-size="3.2" fill="#4a4a4a" text-anchor="end" textLength="67.19" lengthAdjust="spacingAndGlyphs" stroke="#4a4a4a" stroke-width="0.000">HALLMARK_CHOLESTEROL_HOMEOSTASIS</text>
<line x1="119.60" y1="202.48" x2="95.70" y2="202.48" stroke="#6e6e6e" stroke-width="0.95"/>
<circle cx="95.70" cy="202.48" r="1.50" fill="#dc301f"/>
<line x1="80.10" y1="208.76" x2="82.70" y2="208.76" stroke="#111" stroke-width="0.8"/>
<text x="76.80" y="209.96" font-size="3.2" fill="#4a4a4a" text-anchor="end" textLength="57.39" lengthAdjust="spacingAndGlyphs" stroke="#4a4a4a" stroke-width="0.000">HALLMARK_ALLOGRAFT_REJECTION</text>
<line x1="119.60" y1="208.76" x2="96.60" y2="208.76" stroke="#6e6e6e" stroke-width="0.95"/>
<circle cx="96.60" cy="208.76" r="2.20" fill="#dc301f"/>
<line x1="80.10" y1="215.04" x2="82.70" y2="215.04" stroke="#111" stroke-width="0.8"/>
<text x="76.80" y="216.24" font-size="3.2" fill="#4a4a4a" text-anchor="end" textLength="63.68" lengthAdjust="spacingAndGlyphs" stroke="#4a4a4a" stroke-width="0.000">HALLMARK_PI3K_AKT_MTOR_SIGNALING</text>
<line x1="119.60" y1="215.04" x2="96.80" y2="215.04" stroke="#6e6e6e" stroke-width="0.95"/>
<circle cx="96.80" cy="215.04" r="1.90" fill="#d82c1f"/>
<line x1="80.10" y1="221.32" x2="82.70" y2="221.32" stroke="#111" stroke-width="0.8"/>
<text x="76.80" y="222.52" font-size="3.2" fill="#4a4a4a" text-anchor="end" textLength="57.34" lengthAdjust="spacingAndGlyphs" stroke="#4a4a4a" stroke-width="0.000">HALLMARK_BILE_ACID_METABOLISM</text>
<line x1="119.60" y1="221.32" x2="97.00" y2="221.32" stroke="#6e6e6e" stroke-width="0.95"/>
<circle cx="97.00" cy="221.32" r="1.70" fill="#d82c1f"/>
<line x1="80.10" y1="227.60" x2="82.70" y2="227.60" stroke="#111" stroke-width="0.8"/>
<text x="76.80" y="228.80" font-size="3.2" fill="#4a4a4a" text-anchor="end" textLength="48.24" lengthAdjust="spacingAndGlyphs" stroke="#4a4a4a" stroke-width="0.000">HALLMARK_G2M_CHECKPOINT</text>
<line x1="119.60" y1="227.60" x2="97.80" y2="227.60" stroke="#6e6e6e" stroke-width="0.95"/>
<circle cx="97.80" cy="227.60" r="2.40" fill="#dc301f"/>
<line x1="80.10" y1="233.88" x2="82.70" y2="233.88" stroke="#111" stroke-width="0.8"/>
<text x="76.80" y="235.08" font-size="3.2" fill="#4a4a4a" text-anchor="end" textLength="71.48" lengthAdjust="spacingAndGlyphs" stroke="#4a4a4a" stroke-width="0.000">HALLMARK_UNFOLDED_PROTEIN_RESPONSE</text>
<line x1="119.60" y1="233.88" x2="98.00" y2="233.88" stroke="#6e6e6e" stroke-width="0.95"/>
<circle cx="98.00" cy="233.88" r="2.00" fill="#d42a1f"/>
<line x1="80.10" y1="240.16" x2="82.70" y2="240.16" stroke="#111" stroke-width="0.8"/>
<text x="76.80" y="240.11" font-size="3.2" fill="#4a4a4a" text-anchor="end" textLength="36.45" lengthAdjust="spacingAndGlyphs" stroke="#4a4a4a" stroke-width="0.000">HALLMARK_REACTIVE_</text>
<text x="76.80" y="243.51" font-size="3.2" fill="#4a4a4a" text-anchor="end" textLength="45.66" lengthAdjust="spacingAndGlyphs" stroke="#4a4a4a" stroke-width="0.000">OXYGEN_SPECIES_PATHWAY</text>
<line x1="119.60" y1="240.16" x2="98.90" y2="240.16" stroke="#6e6e6e" stroke-width="0.95"/>
<circle cx="98.90" cy="240.16" r="1.30" fill="#a81818"/>
<line x1="80.10" y1="246.44" x2="82.70" y2="246.44" stroke="#111" stroke-width="0.8"/>
<text x="76.80" y="247.64" font-size="3.2" fill="#4a4a4a" text-anchor="end" textLength="52.64" lengthAdjust="spacingAndGlyphs" stroke="#4a4a4a" stroke-width="0.000">HALLMARK_KRAS_SIGNALING_UP</text>
<line x1="119.60" y1="246.44" x2="141.00" y2="246.44" stroke="#6e6e6e" stroke-width="0.95"/>
<circle cx="141.00" cy="246.44" r="2.10" fill="#c81e1e"/>
<line x1="80.10" y1="252.72" x2="82.70" y2="252.72" stroke="#111" stroke-width="0.8"/>
<text x="76.80" y="253.92" font-size="3.2" fill="#4a4a4a" text-anchor="end" textLength="67.90" lengthAdjust="spacingAndGlyphs" stroke="#4a4a4a" stroke-width="0.000">HALLMARK_ESTROGEN_RESPONSE_EARLY</text>
<line x1="119.60" y1="252.72" x2="141.00" y2="252.72" stroke="#6e6e6e" stroke-width="0.95"/>
<circle cx="141.00" cy="252.72" r="2.10" fill="#c81e1e"/>
<line x1="80.10" y1="259.00" x2="82.70" y2="259.00" stroke="#111" stroke-width="0.8"/>
<text x="76.80" y="260.20" font-size="3.2" fill="#4a4a4a" text-anchor="end" textLength="48.95" lengthAdjust="spacingAndGlyphs" stroke="#4a4a4a" stroke-width="0.000">HALLMARK_UV_RESPONSE_DN</text>
<line x1="119.60" y1="259.00" x2="141.60" y2="259.00" stroke="#6e6e6e" stroke-width="0.95"/>
<circle cx="141.60" cy="259.00" r="2.10" fill="#c81e1e"/>
<line x1="80.10" y1="265.28" x2="82.70" y2="265.28" stroke="#111" stroke-width="0.8"/>
<text x="76.80" y="266.48" font-size="3.2" fill="#4a4a4a" text-anchor="end" textLength="65.44" lengthAdjust="spacingAndGlyphs" stroke="#4a4a4a" stroke-width="0.000">HALLMARK_ESTROGEN_RESPONSE_LATE</text>
<line x1="119.60" y1="265.28" x2="141.60" y2="265.28" stroke="#6e6e6e" stroke-width="0.95"/>
<circle cx="141.60" cy="265.28" r="2.10" fill="#c81e1e"/>
<line x1="80.10" y1="271.56" x2="82.70" y2="271.56" stroke="#111" stroke-width="0.8"/>
<text x="76.80" y="272.76" font-size="3.2" fill="#4a4a4a" text-anchor="end" textLength="70.30" lengthAdjust="spacingAndGlyphs" stroke="#4a4a4a" stroke-width="0.000">HALLMARK_WNT_BETA_CATENIN_SIGNALING</text>
<line x1="119.60" y1="271.56" x2="141.80" y2="271.56" stroke="#6e6e6e" stroke-width="0.95"/>
<circle cx="141.80" cy="271.56" r="1.20" fill="#c01c1c"/>
<line x1="80.10" y1="277.84" x2="82.70" y2="277.84" stroke="#111" stroke-width="0.8"/>
<text x="76.80" y="279.04" font-size="3.2" fill="#4a4a4a" text-anchor="end" textLength="37.09" lengthAdjust="spacingAndGlyphs" stroke="#4a4a4a" stroke-width="0.000">HALLMARK_APOPTOSIS</text>
<line x1="119.60" y1="277.84" x2="142.30" y2="277.84" stroke="#6e6e6e" stroke-width="0.95"/>
<circle cx="142.30" cy="277.84" r="2.40" fill="#cc201e"/>
<line x1="80.10" y1="284.12" x2="82.70" y2="284.12" stroke="#111" stroke-width="0.8"/>
<text x="76.80" y="285.32" font-size="3.2" fill="#4a4a4a" text-anchor="end" textLength="43.13" lengthAdjust="spacingAndGlyphs" stroke="#4a4a4a" stroke-width="0.000">HALLMARK_ANGIOGENESIS</text>
<line x1="119.60" y1="284.12" x2="142.70" y2="284.12" stroke="#6e6e6e" stroke-width="0.95"/>
<circle cx="142.70" cy="284.12" r="0.80" fill="#c01c1c"/>
<line x1="80.10" y1="290.40" x2="82.70" y2="290.40" stroke="#111" stroke-width="0.8"/>
<text x="76.80" y="290.35" font-size="3.2" fill="#4a4a4a" text-anchor="end" textLength="38.56" lengthAdjust="spacingAndGlyphs" stroke="#4a4a4a" stroke-width="0.000">HALLMARK_EPITHELIAL_</text>
<text x="76.80" y="293.75" font-size="3.2" fill="#4a4a4a" text-anchor="end" textLength="45.42" lengthAdjust="spacingAndGlyphs" stroke="#4a4a4a" stroke-width="0.000">MESENCHYMAL_TRANSITION</text>
<line x1="119.60" y1="290.40" x2="143.80" y2="290.40" stroke="#6e6e6e" stroke-width="0.95"/>
<circle cx="143.80" cy="290.40" r="2.10" fill="#d4241e"/>
<line x1="80.10" y1="296.68" x2="82.70" y2="296.68" stroke="#111" stroke-width="0.8"/>
<text x="76.80" y="297.88" font-size="3.2" fill="#4a4a4a" text-anchor="end" textLength="47.89" lengthAdjust="spacingAndGlyphs" stroke="#4a4a4a" stroke-width="0.000">HALLMARK_APICAL_JUNCTION</text>
<line x1="119.60" y1="296.68" x2="144.30" y2="296.68" stroke="#6e6e6e" stroke-width="0.95"/>
<circle cx="144.30" cy="296.68" r="2.10" fill="#d4241e"/>
<line x1="80.10" y1="302.96" x2="82.70" y2="302.96" stroke="#111" stroke-width="0.8"/>
<text x="76.80" y="304.16" font-size="3.2" fill="#4a4a4a" text-anchor="end" textLength="63.03" lengthAdjust="spacingAndGlyphs" stroke="#4a4a4a" stroke-width="0.000">HALLMARK_INFLAMMATORY_RESPONSE</text>
<line x1="119.60" y1="302.96" x2="144.80" y2="302.96" stroke="#6e6e6e" stroke-width="0.95"/>
<circle cx="144.80" cy="302.96" r="2.30" fill="#d4241e"/>
<line x1="80.10" y1="309.24" x2="82.70" y2="309.24" stroke="#111" stroke-width="0.8"/>
<text x="76.80" y="310.44" font-size="3.2" fill="#4a4a4a" text-anchor="end" textLength="60.98" lengthAdjust="spacingAndGlyphs" stroke="#4a4a4a" stroke-width="0.000">HALLMARK_IL6_JAK_STAT3_SIGNALING</text>
<line x1="119.60" y1="309.24" x2="145.90" y2="309.24" stroke="#6e6e6e" stroke-width="0.95"/>
<circle cx="145.90" cy="309.24" r="1.70" fill="#d4241e"/>
<line x1="80.10" y1="315.52" x2="82.70" y2="315.52" stroke="#111" stroke-width="0.8"/>
<text x="76.80" y="316.72" font-size="3.2" fill="#4a4a4a" text-anchor="end" textLength="63.03" lengthAdjust="spacingAndGlyphs" stroke="#4a4a4a" stroke-width="0.000">HALLMARK_TNFA_SIGNALING_VIA_NFKB</text>
<line x1="119.60" y1="315.52" x2="146.50" y2="315.52" stroke="#6e6e6e" stroke-width="0.95"/>
<circle cx="146.50" cy="315.52" r="2.60" fill="#d8281e"/>
<line x1="80.10" y1="321.80" x2="82.70" y2="321.80" stroke="#111" stroke-width="0.8"/>
<text x="76.80" y="323.00" font-size="3.2" fill="#4a4a4a" text-anchor="end" textLength="53.99" lengthAdjust="spacingAndGlyphs" stroke="#4a4a4a" stroke-width="0.000">HALLMARK_TGF_BETA_SIGNALING</text>
<line x1="119.60" y1="321.80" x2="148.20" y2="321.80" stroke="#6e6e6e" stroke-width="0.95"/>
<circle cx="148.20" cy="321.80" r="1.40" fill="#d8281e"/>
<line x1="80.10" y1="328.08" x2="82.70" y2="328.08" stroke="#111" stroke-width="0.8"/>
<text x="76.80" y="329.28" font-size="3.2" fill="#4a4a4a" text-anchor="end" textLength="41.66" lengthAdjust="spacingAndGlyphs" stroke="#4a4a4a" stroke-width="0.000">HALLMARK_COAGULATION</text>
<line x1="119.60" y1="328.08" x2="149.60" y2="328.08" stroke="#6e6e6e" stroke-width="0.95"/>
<circle cx="149.60" cy="328.08" r="1.80" fill="#dc2c1e"/>
<line x1="82.70" y1="161.00" x2="82.70" y2="332.35" stroke="#111" stroke-width="1.0"/>
<line x1="82.25" y1="331.90" x2="152.00" y2="331.90" stroke="#111" stroke-width="1.0"/>
<line x1="89.00" y1="331.90" x2="89.00" y2="334.10" stroke="#111" stroke-width="0.7"/>
<text x="88.40" y="343.30" font-size="6.1" fill="#333" text-anchor="middle" textLength="5.42" lengthAdjust="spacingAndGlyphs" stroke="#333" stroke-width="0.150">-2</text>
<line x1="104.30" y1="331.90" x2="104.30" y2="334.10" stroke="#111" stroke-width="0.7"/>
<text x="103.70" y="343.30" font-size="6.1" fill="#333" text-anchor="middle" textLength="5.42" lengthAdjust="spacingAndGlyphs" stroke="#333" stroke-width="0.150">-1</text>
<line x1="119.60" y1="331.90" x2="119.60" y2="334.10" stroke="#111" stroke-width="0.7"/>
<text x="119.60" y="343.30" font-size="6.1" fill="#333" text-anchor="middle" textLength="3.39" lengthAdjust="spacingAndGlyphs" stroke="#333" stroke-width="0.150">0</text>
<line x1="134.90" y1="331.90" x2="134.90" y2="334.10" stroke="#111" stroke-width="0.7"/>
<text x="134.90" y="343.30" font-size="6.1" fill="#333" text-anchor="middle" textLength="3.39" lengthAdjust="spacingAndGlyphs" stroke="#333" stroke-width="0.150">1</text>
<line x1="150.20" y1="331.90" x2="150.20" y2="334.10" stroke="#111" stroke-width="0.7"/>
<text x="150.20" y="343.30" font-size="6.1" fill="#333" text-anchor="middle" textLength="3.39" lengthAdjust="spacingAndGlyphs" stroke="#333" stroke-width="0.150">2</text>
<text x="154.40" y="343.30" font-size="6.2" fill="#333" textLength="12.37" lengthAdjust="spacingAndGlyphs" stroke="#333" stroke-width="0.150">NES</text>
<text x="121.30" y="156.20" font-size="8.6" fill="#222" text-anchor="middle" textLength="23.16" lengthAdjust="spacingAndGlyphs" stroke="#222" stroke-width="0.150">N only</text>
<text x="155.80" y="165.40" font-size="6.1" fill="#333" textLength="26.57" lengthAdjust="spacingAndGlyphs" stroke="#333" stroke-width="0.150">FDR.q.val</text>
<rect x="155.8" y="167.40" width="6.6" height="32.60" fill="url(#fdr)"/>
<text x="163.60" y="177.60" font-size="5.9" fill="#444" textLength="11.60" lengthAdjust="spacingAndGlyphs" stroke="#444" stroke-width="0.150">0.06</text>
<text x="163.60" y="185.90" font-size="5.9" fill="#444" textLength="11.60" lengthAdjust="spacingAndGlyphs" stroke="#444" stroke-width="0.150">0.04</text>
<text x="163.60" y="194.20" font-size="5.9" fill="#444" textLength="11.60" lengthAdjust="spacingAndGlyphs" stroke="#444" stroke-width="0.150">0.02</text>
<text x="163.60" y="202.50" font-size="5.9" fill="#444" textLength="11.60" lengthAdjust="spacingAndGlyphs" stroke="#444" stroke-width="0.150">0.00</text>
<text x="155.80" y="211.60" font-size="6.1" fill="#333" textLength="13.29" lengthAdjust="spacingAndGlyphs" stroke="#333" stroke-width="0.150">SIZE</text>
<circle cx="158.60" cy="217.20" r="0.95" fill="#111"/>
<text x="163.10" y="219.20" font-size="5.9" fill="#333" textLength="6.56" lengthAdjust="spacingAndGlyphs" stroke="#333" stroke-width="0.150">50</text>
<circle cx="158.60" cy="223.90" r="1.45" fill="#111"/>
<text x="163.10" y="225.90" font-size="5.9" fill="#333" textLength="9.84" lengthAdjust="spacingAndGlyphs" stroke="#333" stroke-width="0.150">100</text>
<circle cx="158.60" cy="230.60" r="1.80" fill="#111"/>
<text x="163.10" y="232.60" font-size="5.9" fill="#333" textLength="9.84" lengthAdjust="spacingAndGlyphs" stroke="#333" stroke-width="0.150">150</text>
<circle cx="158.60" cy="237.30" r="2.20" fill="#111"/>
<text x="163.10" y="239.30" font-size="5.9" fill="#333" textLength="9.84" lengthAdjust="spacingAndGlyphs" stroke="#333" stroke-width="0.150">200</text>
<line x1="117.70" y1="348.30" x2="90.10" y2="348.30" stroke="#111" stroke-width="1.1"/>
<path d="M86.90 348.30L91.50 346.20L91.50 350.40Z" fill="#111"/>
<line x1="120.80" y1="348.30" x2="147.20" y2="348.30" stroke="#111" stroke-width="1.1"/>
<path d="M150.40 348.30L145.80 346.20L145.80 350.40Z" fill="#111"/>
<text x="104.00" y="356.80" font-size="6.3" fill="#222" text-anchor="middle" textLength="9.30" lengthAdjust="spacingAndGlyphs" stroke="#222" stroke-width="0.150">WT</text>
<text x="134.40" y="356.80" font-size="6.3" fill="#222" text-anchor="middle" textLength="22.08" lengthAdjust="spacingAndGlyphs" stroke="#222" stroke-width="0.150">R1984A</text>
<line x1="244.70" y1="165.20" x2="247.30" y2="165.20" stroke="#111" stroke-width="0.8"/>
<text x="241.40" y="166.40" font-size="3.2" fill="#4a4a4a" text-anchor="end" textLength="39.48" lengthAdjust="spacingAndGlyphs" stroke="#4a4a4a" stroke-width="0.000">HALLMARK_E2F_TARGETS</text>
<line x1="290.70" y1="165.20" x2="250.90" y2="165.20" stroke="#6e6e6e" stroke-width="0.95"/>
<circle cx="250.90" cy="165.20" r="2.50" fill="#e8421e"/>
<line x1="244.70" y1="173.31" x2="247.30" y2="173.31" stroke="#111" stroke-width="0.8"/>
<text x="241.40" y="174.51" font-size="3.2" fill="#4a4a4a" text-anchor="end" textLength="46.07" lengthAdjust="spacingAndGlyphs" stroke="#4a4a4a" stroke-width="0.000">HALLMARK_MYC_TARGETS_V1</text>
<line x1="290.70" y1="173.31" x2="255.60" y2="173.31" stroke="#6e6e6e" stroke-width="0.95"/>
<circle cx="255.60" cy="173.31" r="2.50" fill="#e43c1e"/>
<line x1="244.70" y1="181.42" x2="247.30" y2="181.42" stroke="#111" stroke-width="0.8"/>
<text x="241.40" y="182.62" font-size="3.2" fill="#4a4a4a" text-anchor="end" textLength="46.29" lengthAdjust="spacingAndGlyphs" stroke="#4a4a4a" stroke-width="0.000">HALLMARK_G2M_CHECKPOINT</text>
<line x1="290.70" y1="181.42" x2="258.80" y2="181.42" stroke="#6e6e6e" stroke-width="0.95"/>
<circle cx="258.80" cy="181.42" r="2.50" fill="#e2381e"/>
<line x1="244.70" y1="189.53" x2="247.30" y2="189.53" stroke="#111" stroke-width="0.8"/>
<text x="241.40" y="189.38" font-size="3.2" fill="#4a4a4a" text-anchor="end" textLength="35.76" lengthAdjust="spacingAndGlyphs" stroke="#4a4a4a" stroke-width="0.000">HALLMARK_OXIDATIVE_</text>
<text x="241.40" y="193.58" font-size="3.2" fill="#4a4a4a" text-anchor="end" textLength="30.13" lengthAdjust="spacingAndGlyphs" stroke="#4a4a4a" stroke-width="0.000">PHOSPHORYLATION</text>
<line x1="290.70" y1="189.53" x2="261.30" y2="189.53" stroke="#6e6e6e" stroke-width="0.95"/>
<circle cx="261.30" cy="189.53" r="2.60" fill="#e2381e"/>
<line x1="244.70" y1="197.64" x2="247.30" y2="197.64" stroke="#111" stroke-width="0.8"/>
<text x="241.40" y="198.84" font-size="3.2" fill="#4a4a4a" text-anchor="end" textLength="49.11" lengthAdjust="spacingAndGlyphs" stroke="#4a4a4a" stroke-width="0.000">HALLMARK_MTORC1_SIGNALING</text>
<line x1="290.70" y1="197.64" x2="262.80" y2="197.64" stroke="#6e6e6e" stroke-width="0.95"/>
<circle cx="262.80" cy="197.64" r="2.40" fill="#e2361e"/>
<line x1="244.70" y1="205.75" x2="247.30" y2="205.75" stroke="#111" stroke-width="0.8"/>
<text x="241.40" y="205.60" font-size="3.2" fill="#4a4a4a" text-anchor="end" textLength="42.41" lengthAdjust="spacingAndGlyphs" stroke="#4a4a4a" stroke-width="0.000">HALLMARK_CHOLESTEROL_</text>
<text x="241.40" y="209.80" font-size="3.2" fill="#4a4a4a" text-anchor="end" textLength="22.07" lengthAdjust="spacingAndGlyphs" stroke="#4a4a4a" stroke-width="0.000">HOMEOSTASIS</text>
<line x1="290.70" y1="205.75" x2="267.90" y2="205.75" stroke="#6e6e6e" stroke-width="0.95"/>
<circle cx="267.90" cy="205.75" r="0.90" fill="#d02a1e"/>
<line x1="244.70" y1="213.86" x2="247.30" y2="213.86" stroke="#111" stroke-width="0.8"/>
<text x="241.40" y="215.06" font-size="3.2" fill="#4a4a4a" text-anchor="end" textLength="37.28" lengthAdjust="spacingAndGlyphs" stroke="#4a4a4a" stroke-width="0.000">HALLMARK_DNA_REPAIR</text>
<line x1="290.70" y1="213.86" x2="269.80" y2="213.86" stroke="#6e6e6e" stroke-width="0.95"/>
<circle cx="269.80" cy="213.86" r="2.10" fill="#dc2e1e"/>
<line x1="244.70" y1="221.97" x2="247.30" y2="221.97" stroke="#111" stroke-width="0.8"/>
<text x="241.40" y="221.82" font-size="3.2" fill="#4a4a4a" text-anchor="end" textLength="29.00" lengthAdjust="spacingAndGlyphs" stroke="#4a4a4a" stroke-width="0.000">HALLMARK_FATTY_</text>
<text x="241.40" y="226.02" font-size="3.2" fill="#4a4a4a" text-anchor="end" textLength="28.66" lengthAdjust="spacingAndGlyphs" stroke="#4a4a4a" stroke-width="0.000">ACID_METABOLISM</text>
<line x1="290.70" y1="221.97" x2="270.00" y2="221.97" stroke="#6e6e6e" stroke-width="0.95"/>
<circle cx="270.00" cy="221.97" r="2.00" fill="#dc2e1e"/>
<line x1="244.70" y1="230.08" x2="247.30" y2="230.08" stroke="#111" stroke-width="0.8"/>
<text x="241.40" y="231.28" font-size="3.2" fill="#4a4a4a" text-anchor="end" textLength="41.05" lengthAdjust="spacingAndGlyphs" stroke="#4a4a4a" stroke-width="0.000">HALLMARK_ADIPOGENESIS</text>
<line x1="290.70" y1="230.08" x2="270.40" y2="230.08" stroke="#6e6e6e" stroke-width="0.95"/>
<circle cx="270.40" cy="230.08" r="2.20" fill="#dc2e1e"/>
<line x1="244.70" y1="238.19" x2="247.30" y2="238.19" stroke="#111" stroke-width="0.8"/>
<text x="241.40" y="238.04" font-size="3.2" fill="#4a4a4a" text-anchor="end" textLength="26.36" lengthAdjust="spacingAndGlyphs" stroke="#4a4a4a" stroke-width="0.000">HALLMARK_BILE_</text>
<text x="241.40" y="242.24" font-size="3.2" fill="#4a4a4a" text-anchor="end" textLength="28.66" lengthAdjust="spacingAndGlyphs" stroke="#4a4a4a" stroke-width="0.000">ACID_METABOLISM</text>
<line x1="290.70" y1="238.19" x2="270.80" y2="238.19" stroke="#6e6e6e" stroke-width="0.95"/>
<circle cx="270.80" cy="238.19" r="1.10" fill="#c82020"/>
<line x1="244.70" y1="246.30" x2="247.30" y2="246.30" stroke="#111" stroke-width="0.8"/>
<text x="241.40" y="247.50" font-size="3.2" fill="#4a4a4a" text-anchor="end" textLength="36.89" lengthAdjust="spacingAndGlyphs" stroke="#4a4a4a" stroke-width="0.000">HALLMARK_GLYCOLYSIS</text>
<line x1="290.70" y1="246.30" x2="272.50" y2="246.30" stroke="#6e6e6e" stroke-width="0.95"/>
<circle cx="272.50" cy="246.30" r="2.30" fill="#8a1a1a"/>
<line x1="244.70" y1="254.41" x2="247.30" y2="254.41" stroke="#111" stroke-width="0.8"/>
<text x="241.40" y="254.26" font-size="3.2" fill="#4a4a4a" text-anchor="end" textLength="31.26" lengthAdjust="spacingAndGlyphs" stroke="#4a4a4a" stroke-width="0.000">HALLMARK_IL6_JAK_</text>
<text x="241.40" y="258.46" font-size="3.2" fill="#4a4a4a" text-anchor="end" textLength="27.26" lengthAdjust="spacingAndGlyphs" stroke="#4a4a4a" stroke-width="0.000">STAT3_SIGNALING</text>
<line x1="290.70" y1="254.41" x2="309.30" y2="254.41" stroke="#6e6e6e" stroke-width="0.95"/>
<circle cx="309.30" cy="254.41" r="0.90" fill="#8a1a1a"/>
<line x1="244.70" y1="262.52" x2="247.30" y2="262.52" stroke="#111" stroke-width="0.8"/>
<text x="241.40" y="263.72" font-size="3.2" fill="#4a4a4a" text-anchor="end" textLength="46.97" lengthAdjust="spacingAndGlyphs" stroke="#4a4a4a" stroke-width="0.000">HALLMARK_UV_RESPONSE_DN</text>
<line x1="290.70" y1="262.52" x2="309.30" y2="262.52" stroke="#6e6e6e" stroke-width="0.95"/>
<circle cx="309.30" cy="262.52" r="2.10" fill="#701212"/>
<line x1="244.70" y1="270.63" x2="247.30" y2="270.63" stroke="#111" stroke-width="0.8"/>
<text x="241.40" y="271.83" font-size="3.2" fill="#4a4a4a" text-anchor="end" textLength="50.52" lengthAdjust="spacingAndGlyphs" stroke="#4a4a4a" stroke-width="0.000">HALLMARK_KRAS_SIGNALING_UP</text>
<line x1="290.70" y1="270.63" x2="310.40" y2="270.63" stroke="#6e6e6e" stroke-width="0.95"/>
<circle cx="310.40" cy="270.63" r="2.10" fill="#b41818"/>
<line x1="244.70" y1="278.74" x2="247.30" y2="278.74" stroke="#111" stroke-width="0.8"/>
<text x="241.40" y="278.59" font-size="3.2" fill="#4a4a4a" text-anchor="end" textLength="37.00" lengthAdjust="spacingAndGlyphs" stroke="#4a4a4a" stroke-width="0.000">HALLMARK_EPITHELIAL_</text>
<text x="241.40" y="282.79" font-size="3.2" fill="#4a4a4a" text-anchor="end" textLength="43.58" lengthAdjust="spacingAndGlyphs" stroke="#4a4a4a" stroke-width="0.000">MESENCHYMAL_TRANSITION</text>
<line x1="290.70" y1="278.74" x2="310.40" y2="278.74" stroke="#6e6e6e" stroke-width="0.95"/>
<circle cx="310.40" cy="278.74" r="2.10" fill="#c41c1c"/>
<line x1="244.70" y1="286.85" x2="247.30" y2="286.85" stroke="#111" stroke-width="0.8"/>
<text x="241.40" y="288.05" font-size="3.2" fill="#4a4a4a" text-anchor="end" textLength="51.25" lengthAdjust="spacingAndGlyphs" stroke="#4a4a4a" stroke-width="0.000">HALLMARK_IL2_STAT5_SIGNALING</text>
<line x1="290.70" y1="286.85" x2="310.90" y2="286.85" stroke="#6e6e6e" stroke-width="0.95"/>
<circle cx="310.90" cy="286.85" r="2.40" fill="#c41c1c"/>
<line x1="244.70" y1="294.96" x2="247.30" y2="294.96" stroke="#111" stroke-width="0.8"/>
<text x="241.40" y="294.81" font-size="3.2" fill="#4a4a4a" text-anchor="end" textLength="39.53" lengthAdjust="spacingAndGlyphs" stroke="#4a4a4a" stroke-width="0.000">HALLMARK_INTERFERON_</text>
<text x="241.40" y="299.01" font-size="3.2" fill="#4a4a4a" text-anchor="end" textLength="30.07" lengthAdjust="spacingAndGlyphs" stroke="#4a4a4a" stroke-width="0.000">GAMMA_RESPONSE</text>
<line x1="290.70" y1="294.96" x2="312.80" y2="294.96" stroke="#6e6e6e" stroke-width="0.95"/>
<circle cx="312.80" cy="294.96" r="2.60" fill="#dc221e"/>
<line x1="244.70" y1="303.07" x2="247.30" y2="303.07" stroke="#111" stroke-width="0.8"/>
<text x="241.40" y="304.27" font-size="3.2" fill="#4a4a4a" text-anchor="end" textLength="39.98" lengthAdjust="spacingAndGlyphs" stroke="#4a4a4a" stroke-width="0.000">HALLMARK_COAGULATION</text>
<line x1="290.70" y1="303.07" x2="313.30" y2="303.07" stroke="#6e6e6e" stroke-width="0.95"/>
<circle cx="313.30" cy="303.07" r="0.70" fill="#d02020"/>
<line x1="244.70" y1="311.18" x2="247.30" y2="311.18" stroke="#111" stroke-width="0.8"/>
<text x="241.40" y="312.38" font-size="3.2" fill="#4a4a4a" text-anchor="end" textLength="45.95" lengthAdjust="spacingAndGlyphs" stroke="#4a4a4a" stroke-width="0.000">HALLMARK_APICAL_JUNCTION</text>
<line x1="290.70" y1="311.18" x2="313.30" y2="311.18" stroke="#6e6e6e" stroke-width="0.95"/>
<circle cx="313.30" cy="311.18" r="2.10" fill="#d81e1e"/>
<line x1="244.70" y1="319.29" x2="247.30" y2="319.29" stroke="#111" stroke-width="0.8"/>
<text x="241.40" y="319.14" font-size="3.2" fill="#4a4a4a" text-anchor="end" textLength="43.59" lengthAdjust="spacingAndGlyphs" stroke="#4a4a4a" stroke-width="0.000">HALLMARK_INFLAMMATORY_</text>
<text x="241.40" y="323.34" font-size="3.2" fill="#4a4a4a" text-anchor="end" textLength="16.89" lengthAdjust="spacingAndGlyphs" stroke="#4a4a4a" stroke-width="0.000">RESPONSE</text>
<line x1="290.70" y1="319.29" x2="313.90" y2="319.29" stroke="#6e6e6e" stroke-width="0.95"/>
<circle cx="313.90" cy="319.29" r="2.20" fill="#d81e1e"/>
<line x1="244.70" y1="327.40" x2="247.30" y2="327.40" stroke="#111" stroke-width="0.8"/>
<text x="241.40" y="327.25" font-size="3.2" fill="#4a4a4a" text-anchor="end" textLength="27.54" lengthAdjust="spacingAndGlyphs" stroke="#4a4a4a" stroke-width="0.000">HALLMARK_TNFA_</text>
<text x="241.40" y="331.45" font-size="3.2" fill="#4a4a4a" text-anchor="end" textLength="32.95" lengthAdjust="spacingAndGlyphs" stroke="#4a4a4a" stroke-width="0.000">SIGNALING_VIA_NFKB</text>
<line x1="290.70" y1="327.40" x2="314.90" y2="327.40" stroke="#6e6e6e" stroke-width="0.95"/>
<circle cx="314.90" cy="327.40" r="2.50" fill="#e0221e"/>
<line x1="247.30" y1="161.00" x2="247.30" y2="332.35" stroke="#111" stroke-width="1.0"/>
<line x1="246.85" y1="331.90" x2="319.50" y2="331.90" stroke="#111" stroke-width="1.0"/>
<line x1="250.62" y1="331.90" x2="250.62" y2="334.10" stroke="#111" stroke-width="0.7"/>
<text x="250.02" y="343.30" font-size="6.1" fill="#333" text-anchor="middle" textLength="5.42" lengthAdjust="spacingAndGlyphs" stroke="#333" stroke-width="0.150">-3</text>
<line x1="263.98" y1="331.90" x2="263.98" y2="334.10" stroke="#111" stroke-width="0.7"/>
<text x="263.38" y="343.30" font-size="6.1" fill="#333" text-anchor="middle" textLength="5.42" lengthAdjust="spacingAndGlyphs" stroke="#333" stroke-width="0.150">-2</text>
<line x1="277.34" y1="331.90" x2="277.34" y2="334.10" stroke="#111" stroke-width="0.7"/>
<text x="276.74" y="343.30" font-size="6.1" fill="#333" text-anchor="middle" textLength="5.42" lengthAdjust="spacingAndGlyphs" stroke="#333" stroke-width="0.150">-1</text>
<line x1="290.70" y1="331.90" x2="290.70" y2="334.10" stroke="#111" stroke-width="0.7"/>
<text x="290.70" y="343.30" font-size="6.1" fill="#333" text-anchor="middle" textLength="3.39" lengthAdjust="spacingAndGlyphs" stroke="#333" stroke-width="0.150">0</text>
<line x1="304.06" y1="331.90" x2="304.06" y2="334.10" stroke="#111" stroke-width="0.7"/>
<text x="304.06" y="343.30" font-size="6.1" fill="#333" text-anchor="middle" textLength="3.39" lengthAdjust="spacingAndGlyphs" stroke="#333" stroke-width="0.150">1</text>
<line x1="317.42" y1="331.90" x2="317.42" y2="334.10" stroke="#111" stroke-width="0.7"/>
<text x="317.42" y="343.30" font-size="6.1" fill="#333" text-anchor="middle" textLength="3.39" lengthAdjust="spacingAndGlyphs" stroke="#333" stroke-width="0.150">2</text>
<text x="321.90" y="343.30" font-size="6.2" fill="#333" textLength="12.37" lengthAdjust="spacingAndGlyphs" stroke="#333" stroke-width="0.150">NES</text>
<text x="288.00" y="156.20" font-size="8.6" fill="#222" text-anchor="middle" textLength="19.75" lengthAdjust="spacingAndGlyphs" stroke="#222" stroke-width="0.150">N + L</text>
<text x="320.70" y="165.40" font-size="6.1" fill="#333" textLength="26.57" lengthAdjust="spacingAndGlyphs" stroke="#333" stroke-width="0.150">FDR.q.val</text>
<rect x="320.7" y="167.40" width="6.6" height="32.60" fill="url(#fdr)"/>
<text x="328.50" y="177.60" font-size="5.9" fill="#444" textLength="14.91" lengthAdjust="spacingAndGlyphs" stroke="#444" stroke-width="0.150">0.075</text>
<text x="328.50" y="185.90" font-size="5.9" fill="#444" textLength="14.91" lengthAdjust="spacingAndGlyphs" stroke="#444" stroke-width="0.150">0.050</text>
<text x="328.50" y="194.20" font-size="5.9" fill="#444" textLength="14.91" lengthAdjust="spacingAndGlyphs" stroke="#444" stroke-width="0.150">0.025</text>
<text x="328.50" y="202.50" font-size="5.9" fill="#444" textLength="14.91" lengthAdjust="spacingAndGlyphs" stroke="#444" stroke-width="0.150">0.000</text>
<text x="320.70" y="211.60" font-size="6.1" fill="#333" textLength="13.29" lengthAdjust="spacingAndGlyphs" stroke="#333" stroke-width="0.150">SIZE</text>
<circle cx="323.50" cy="217.20" r="0.95" fill="#111"/>
<text x="328.00" y="219.20" font-size="5.9" fill="#333" textLength="6.56" lengthAdjust="spacingAndGlyphs" stroke="#333" stroke-width="0.150">50</text>
<circle cx="323.50" cy="223.90" r="1.45" fill="#111"/>
<text x="328.00" y="225.90" font-size="5.9" fill="#333" textLength="9.84" lengthAdjust="spacingAndGlyphs" stroke="#333" stroke-width="0.150">100</text>
<circle cx="323.50" cy="230.60" r="1.80" fill="#111"/>
<text x="328.00" y="232.60" font-size="5.9" fill="#333" textLength="9.84" lengthAdjust="spacingAndGlyphs" stroke="#333" stroke-width="0.150">150</text>
<circle cx="323.50" cy="237.30" r="2.20" fill="#111"/>
<text x="328.00" y="239.30" font-size="5.9" fill="#333" textLength="9.84" lengthAdjust="spacingAndGlyphs" stroke="#333" stroke-width="0.150">200</text>
<line x1="284.10" y1="348.00" x2="255.00" y2="348.00" stroke="#111" stroke-width="1.1"/>
<path d="M251.80 348.00L256.40 345.90L256.40 350.10Z" fill="#111"/>
<line x1="285.80" y1="348.00" x2="313.80" y2="348.00" stroke="#111" stroke-width="1.1"/>
<path d="M317.00 348.00L312.40 345.90L312.40 350.10Z" fill="#111"/>
<text x="269.40" y="356.60" font-size="6.3" fill="#222" text-anchor="middle" textLength="9.30" lengthAdjust="spacingAndGlyphs" stroke="#222" stroke-width="0.150">WT</text>
<text x="300.00" y="356.60" font-size="6.3" fill="#222" text-anchor="middle" textLength="22.08" lengthAdjust="spacingAndGlyphs" stroke="#222" stroke-width="0.150">R1984A</text>
<line x1="408.90" y1="164.80" x2="411.50" y2="164.80" stroke="#111" stroke-width="0.8"/>
<text x="405.60" y="166.00" font-size="3.2" fill="#4a4a4a" text-anchor="end" textLength="50.41" lengthAdjust="spacingAndGlyphs" stroke="#4a4a4a" stroke-width="0.000">HALLMARK_SPERMATOGENESIS</text>
<line x1="442.70" y1="164.80" x2="415.00" y2="164.80" stroke="#6e6e6e" stroke-width="0.95"/>
<circle cx="415.00" cy="164.80" r="1.60" fill="#c8161a"/>
<line x1="408.90" y1="172.58" x2="411.50" y2="172.58" stroke="#111" stroke-width="0.8"/>
<text x="405.60" y="172.33" font-size="3.2" fill="#4a4a4a" text-anchor="end" textLength="29.23" lengthAdjust="spacingAndGlyphs" stroke="#4a4a4a" stroke-width="0.000">HALLMARK_KRAS_</text>
<text x="405.60" y="176.23" font-size="3.2" fill="#4a4a4a" text-anchor="end" textLength="23.59" lengthAdjust="spacingAndGlyphs" stroke="#4a4a4a" stroke-width="0.000">SIGNALING_DN</text>
<line x1="442.70" y1="172.58" x2="416.70" y2="172.58" stroke="#6e6e6e" stroke-width="0.95"/>
<circle cx="416.70" cy="172.58" r="1.50" fill="#c8161a"/>
<line x1="408.90" y1="180.36" x2="411.50" y2="180.36" stroke="#111" stroke-width="0.8"/>
<text x="405.60" y="180.11" font-size="3.2" fill="#4a4a4a" text-anchor="end" textLength="35.39" lengthAdjust="spacingAndGlyphs" stroke="#4a4a4a" stroke-width="0.000">HALLMARK_PI3K_AKT_</text>
<text x="405.60" y="184.01" font-size="3.2" fill="#4a4a4a" text-anchor="end" textLength="28.28" lengthAdjust="spacingAndGlyphs" stroke="#4a4a4a" stroke-width="0.000">MTOR_SIGNALING</text>
<line x1="442.70" y1="180.36" x2="466.60" y2="180.36" stroke="#6e6e6e" stroke-width="0.95"/>
<circle cx="466.60" cy="180.36" r="2.00" fill="#9a1616"/>
<line x1="408.90" y1="188.14" x2="411.50" y2="188.14" stroke="#111" stroke-width="0.8"/>
<text x="405.60" y="189.34" font-size="3.2" fill="#4a4a4a" text-anchor="end" textLength="43.13" lengthAdjust="spacingAndGlyphs" stroke="#4a4a4a" stroke-width="0.000">HALLMARK_ANGIOGENESIS</text>
<line x1="442.70" y1="188.14" x2="466.60" y2="188.14" stroke="#6e6e6e" stroke-width="0.95"/>
<circle cx="466.60" cy="188.14" r="0.80" fill="#a01818"/>
<line x1="408.90" y1="195.92" x2="411.50" y2="195.92" stroke="#111" stroke-width="0.8"/>
<text x="405.60" y="195.67" font-size="3.2" fill="#4a4a4a" text-anchor="end" textLength="36.45" lengthAdjust="spacingAndGlyphs" stroke="#4a4a4a" stroke-width="0.000">HALLMARK_REACTIVE_</text>
<text x="405.60" y="199.57" font-size="3.2" fill="#4a4a4a" text-anchor="end" textLength="45.66" lengthAdjust="spacingAndGlyphs" stroke="#4a4a4a" stroke-width="0.000">OXYGEN_SPECIES_PATHWAY</text>
<line x1="442.70" y1="195.92" x2="467.30" y2="195.92" stroke="#6e6e6e" stroke-width="0.95"/>
<circle cx="467.30" cy="195.92" r="1.50" fill="#a81818"/>
<line x1="408.90" y1="203.70" x2="411.50" y2="203.70" stroke="#111" stroke-width="0.8"/>
<text x="405.60" y="204.90" font-size="3.2" fill="#4a4a4a" text-anchor="end" textLength="41.19" lengthAdjust="spacingAndGlyphs" stroke="#4a4a4a" stroke-width="0.000">HALLMARK_COMPLEMENT</text>
<line x1="442.70" y1="203.70" x2="467.30" y2="203.70" stroke="#6e6e6e" stroke-width="0.95"/>
<circle cx="467.30" cy="203.70" r="2.50" fill="#b01818"/>
<line x1="408.90" y1="211.48" x2="411.50" y2="211.48" stroke="#111" stroke-width="0.8"/>
<text x="405.60" y="211.23" font-size="3.2" fill="#4a4a4a" text-anchor="end" textLength="39.44" lengthAdjust="spacingAndGlyphs" stroke="#4a4a4a" stroke-width="0.000">HALLMARK_ALLOGRAFT_</text>
<text x="405.60" y="215.13" font-size="3.2" fill="#4a4a4a" text-anchor="end" textLength="17.95" lengthAdjust="spacingAndGlyphs" stroke="#4a4a4a" stroke-width="0.000">REJECTION</text>
<line x1="442.70" y1="211.48" x2="467.70" y2="211.48" stroke="#6e6e6e" stroke-width="0.95"/>
<circle cx="467.70" cy="211.48" r="2.50" fill="#b01818"/>
<line x1="408.90" y1="219.26" x2="411.50" y2="219.26" stroke="#111" stroke-width="0.8"/>
<text x="405.60" y="219.01" font-size="3.2" fill="#4a4a4a" text-anchor="end" textLength="38.38" lengthAdjust="spacingAndGlyphs" stroke="#4a4a4a" stroke-width="0.000">HALLMARK_ESTROGEN_</text>
<text x="405.60" y="222.91" font-size="3.2" fill="#4a4a4a" text-anchor="end" textLength="27.06" lengthAdjust="spacingAndGlyphs" stroke="#4a4a4a" stroke-width="0.000">RESPONSE_LATE</text>
<line x1="442.70" y1="219.26" x2="468.00" y2="219.26" stroke="#6e6e6e" stroke-width="0.95"/>
<circle cx="468.00" cy="219.26" r="2.30" fill="#b81a1a"/>
<line x1="408.90" y1="227.04" x2="411.50" y2="227.04" stroke="#111" stroke-width="0.8"/>
<text x="405.60" y="228.24" font-size="3.2" fill="#4a4a4a" text-anchor="end" textLength="37.09" lengthAdjust="spacingAndGlyphs" stroke="#4a4a4a" stroke-width="0.000">HALLMARK_APOPTOSIS</text>
<line x1="442.70" y1="227.04" x2="468.70" y2="227.04" stroke="#6e6e6e" stroke-width="0.95"/>
<circle cx="468.70" cy="227.04" r="2.30" fill="#bc1a1a"/>
<line x1="408.90" y1="234.82" x2="411.50" y2="234.82" stroke="#111" stroke-width="0.8"/>
<text x="405.60" y="234.57" font-size="3.2" fill="#4a4a4a" text-anchor="end" textLength="41.19" lengthAdjust="spacingAndGlyphs" stroke="#4a4a4a" stroke-width="0.000">HALLMARK_INTERFERON_</text>
<text x="405.60" y="238.47" font-size="3.2" fill="#4a4a4a" text-anchor="end" textLength="29.76" lengthAdjust="spacingAndGlyphs" stroke="#4a4a4a" stroke-width="0.000">ALPHA_RESPONSE</text>
<line x1="442.70" y1="234.82" x2="468.70" y2="234.82" stroke="#6e6e6e" stroke-width="0.95"/>
<circle cx="468.70" cy="234.82" r="2.00" fill="#c01c1c"/>
<line x1="408.90" y1="242.60" x2="411.50" y2="242.60" stroke="#111" stroke-width="0.8"/>
<text x="405.60" y="243.80" font-size="3.2" fill="#4a4a4a" text-anchor="end" textLength="32.92" lengthAdjust="spacingAndGlyphs" stroke="#4a4a4a" stroke-width="0.000">HALLMARK_HYPOXIA</text>
<line x1="442.70" y1="242.60" x2="469.00" y2="242.60" stroke="#6e6e6e" stroke-width="0.95"/>
<circle cx="469.00" cy="242.60" r="2.30" fill="#c41c1c"/>
<line x1="408.90" y1="250.38" x2="411.50" y2="250.38" stroke="#111" stroke-width="0.8"/>
<text x="405.60" y="250.13" font-size="3.2" fill="#4a4a4a" text-anchor="end" textLength="40.14" lengthAdjust="spacingAndGlyphs" stroke="#4a4a4a" stroke-width="0.000">HALLMARK_XENOBIOTIC_</text>
<text x="405.60" y="254.03" font-size="3.2" fill="#4a4a4a" text-anchor="end" textLength="20.54" lengthAdjust="spacingAndGlyphs" stroke="#4a4a4a" stroke-width="0.000">METABOLISM</text>
<line x1="442.70" y1="250.38" x2="469.40" y2="250.38" stroke="#6e6e6e" stroke-width="0.95"/>
<circle cx="469.40" cy="250.38" r="2.30" fill="#c41c1c"/>
<line x1="408.90" y1="258.16" x2="411.50" y2="258.16" stroke="#111" stroke-width="0.8"/>
<text x="405.60" y="257.91" font-size="3.2" fill="#4a4a4a" text-anchor="end" textLength="41.19" lengthAdjust="spacingAndGlyphs" stroke="#4a4a4a" stroke-width="0.000">HALLMARK_INTERFERON_</text>
<text x="405.60" y="261.81" font-size="3.2" fill="#4a4a4a" text-anchor="end" textLength="31.34" lengthAdjust="spacingAndGlyphs" stroke="#4a4a4a" stroke-width="0.000">GAMMA_RESPONSE</text>
<line x1="442.70" y1="258.16" x2="469.80" y2="258.16" stroke="#6e6e6e" stroke-width="0.95"/>
<circle cx="469.80" cy="258.16" r="2.50" fill="#c81c1c"/>
<line x1="408.90" y1="265.94" x2="411.50" y2="265.94" stroke="#111" stroke-width="0.8"/>
<text x="405.60" y="265.69" font-size="3.2" fill="#4a4a4a" text-anchor="end" textLength="32.58" lengthAdjust="spacingAndGlyphs" stroke="#4a4a4a" stroke-width="0.000">HALLMARK_IL6_JAK_</text>
<text x="405.60" y="269.59" font-size="3.2" fill="#4a4a4a" text-anchor="end" textLength="28.40" lengthAdjust="spacingAndGlyphs" stroke="#4a4a4a" stroke-width="0.000">STAT3_SIGNALING</text>
<line x1="442.70" y1="265.94" x2="470.10" y2="265.94" stroke="#6e6e6e" stroke-width="0.95"/>
<circle cx="470.10" cy="265.94" r="1.40" fill="#d02020"/>
<line x1="408.90" y1="273.72" x2="411.50" y2="273.72" stroke="#111" stroke-width="0.8"/>
<text x="405.60" y="274.92" font-size="3.2" fill="#4a4a4a" text-anchor="end" textLength="51.17" lengthAdjust="spacingAndGlyphs" stroke="#4a4a4a" stroke-width="0.000">HALLMARK_MTORC1_SIGNALING</text>
<line x1="442.70" y1="273.72" x2="470.80" y2="273.72" stroke="#6e6e6e" stroke-width="0.95"/>
<circle cx="470.80" cy="273.72" r="2.80" fill="#d42020"/>
<line x1="408.90" y1="281.50" x2="411.50" y2="281.50" stroke="#111" stroke-width="0.8"/>
<text x="405.60" y="282.70" font-size="3.2" fill="#4a4a4a" text-anchor="end" textLength="47.89" lengthAdjust="spacingAndGlyphs" stroke="#4a4a4a" stroke-width="0.000">HALLMARK_APICAL_JUNCTION</text>
<line x1="442.70" y1="281.50" x2="471.50" y2="281.50" stroke="#6e6e6e" stroke-width="0.95"/>
<circle cx="471.50" cy="281.50" r="2.30" fill="#d82020"/>
<line x1="408.90" y1="289.28" x2="411.50" y2="289.28" stroke="#111" stroke-width="0.8"/>
<text x="405.60" y="289.03" font-size="3.2" fill="#4a4a4a" text-anchor="end" textLength="45.42" lengthAdjust="spacingAndGlyphs" stroke="#4a4a4a" stroke-width="0.000">HALLMARK_INFLAMMATORY_</text>
<text x="405.60" y="292.93" font-size="3.2" fill="#4a4a4a" text-anchor="end" textLength="17.61" lengthAdjust="spacingAndGlyphs" stroke="#4a4a4a" stroke-width="0.000">RESPONSE</text>
<line x1="442.70" y1="289.28" x2="472.20" y2="289.28" stroke="#6e6e6e" stroke-width="0.95"/>
<circle cx="472.20" cy="289.28" r="2.40" fill="#dc2220"/>
<line x1="408.90" y1="297.06" x2="411.50" y2="297.06" stroke="#111" stroke-width="0.8"/>
<text x="405.60" y="298.26" font-size="3.2" fill="#4a4a4a" text-anchor="end" textLength="40.14" lengthAdjust="spacingAndGlyphs" stroke="#4a4a4a" stroke-width="0.000">HALLMARK_MYOGENESIS</text>
<line x1="442.70" y1="297.06" x2="473.30" y2="297.06" stroke="#6e6e6e" stroke-width="0.95"/>
<circle cx="473.30" cy="297.06" r="2.00" fill="#dc2220"/>
<line x1="408.90" y1="304.84" x2="411.50" y2="304.84" stroke="#111" stroke-width="0.8"/>
<text x="405.60" y="306.04" font-size="3.2" fill="#4a4a4a" text-anchor="end" textLength="38.44" lengthAdjust="spacingAndGlyphs" stroke="#4a4a4a" stroke-width="0.000">HALLMARK_GLYCOLYSIS</text>
<line x1="442.70" y1="304.84" x2="473.70" y2="304.84" stroke="#6e6e6e" stroke-width="0.95"/>
<circle cx="473.70" cy="304.84" r="2.40" fill="#e02420"/>
<line x1="408.90" y1="312.62" x2="411.50" y2="312.62" stroke="#111" stroke-width="0.8"/>
<text x="405.60" y="312.37" font-size="3.2" fill="#4a4a4a" text-anchor="end" textLength="25.01" lengthAdjust="spacingAndGlyphs" stroke="#4a4a4a" stroke-width="0.000">HALLMARK_IL2_</text>
<text x="405.60" y="316.27" font-size="3.2" fill="#4a4a4a" text-anchor="end" textLength="28.40" lengthAdjust="spacingAndGlyphs" stroke="#4a4a4a" stroke-width="0.000">STAT5_SIGNALING</text>
<line x1="442.70" y1="312.62" x2="475.40" y2="312.62" stroke="#6e6e6e" stroke-width="0.95"/>
<circle cx="475.40" cy="312.62" r="2.40" fill="#e02420"/>
<line x1="408.90" y1="320.40" x2="411.50" y2="320.40" stroke="#111" stroke-width="0.8"/>
<text x="405.60" y="320.15" font-size="3.2" fill="#4a4a4a" text-anchor="end" textLength="38.56" lengthAdjust="spacingAndGlyphs" stroke="#4a4a4a" stroke-width="0.000">HALLMARK_EPITHELIAL_</text>
<text x="405.60" y="324.05" font-size="3.2" fill="#4a4a4a" text-anchor="end" textLength="45.42" lengthAdjust="spacingAndGlyphs" stroke="#4a4a4a" stroke-width="0.000">MESENCHYMAL_TRANSITION</text>
<line x1="442.70" y1="320.40" x2="476.80" y2="320.40" stroke="#6e6e6e" stroke-width="0.95"/>
<circle cx="476.80" cy="320.40" r="2.20" fill="#e42620"/>
<line x1="408.90" y1="328.18" x2="411.50" y2="328.18" stroke="#111" stroke-width="0.8"/>
<text x="405.60" y="329.38" font-size="3.2" fill="#4a4a4a" text-anchor="end" textLength="41.66" lengthAdjust="spacingAndGlyphs" stroke="#4a4a4a" stroke-width="0.000">HALLMARK_COAGULATION</text>
<line x1="442.70" y1="328.18" x2="478.80" y2="328.18" stroke="#6e6e6e" stroke-width="0.95"/>
<circle cx="478.80" cy="328.18" r="1.60" fill="#e42620"/>
<line x1="411.50" y1="161.00" x2="411.50" y2="332.35" stroke="#111" stroke-width="1.0"/>
<line x1="411.05" y1="331.90" x2="481.00" y2="331.90" stroke="#111" stroke-width="1.0"/>
<line x1="425.00" y1="331.90" x2="425.00" y2="334.10" stroke="#111" stroke-width="0.7"/>
<text x="424.40" y="343.30" font-size="6.1" fill="#333" text-anchor="middle" textLength="5.42" lengthAdjust="spacingAndGlyphs" stroke="#333" stroke-width="0.150">-1</text>
<line x1="442.70" y1="331.90" x2="442.70" y2="334.10" stroke="#111" stroke-width="0.7"/>
<text x="442.70" y="343.30" font-size="6.1" fill="#333" text-anchor="middle" textLength="3.39" lengthAdjust="spacingAndGlyphs" stroke="#333" stroke-width="0.150">0</text>
<line x1="460.40" y1="331.90" x2="460.40" y2="334.10" stroke="#111" stroke-width="0.7"/>
<text x="460.40" y="343.30" font-size="6.1" fill="#333" text-anchor="middle" textLength="3.39" lengthAdjust="spacingAndGlyphs" stroke="#333" stroke-width="0.150">1</text>
<line x1="478.10" y1="331.90" x2="478.10" y2="334.10" stroke="#111" stroke-width="0.7"/>
<text x="478.10" y="343.30" font-size="6.1" fill="#333" text-anchor="middle" textLength="3.39" lengthAdjust="spacingAndGlyphs" stroke="#333" stroke-width="0.150">2</text>
<text x="486.00" y="343.30" font-size="6.2" fill="#333" textLength="12.37" lengthAdjust="spacingAndGlyphs" stroke="#333" stroke-width="0.150">NES</text>
<text x="448.20" y="156.20" font-size="8.6" fill="#222" text-anchor="middle" textLength="29.59" lengthAdjust="spacingAndGlyphs" stroke="#222" stroke-width="0.150">N + LTB</text>
<text x="485.70" y="165.40" font-size="6.1" fill="#333" textLength="26.57" lengthAdjust="spacingAndGlyphs" stroke="#333" stroke-width="0.150">FDR.q.val</text>
<rect x="485.7" y="167.40" width="6.6" height="32.60" fill="url(#fdr)"/>
<text x="493.50" y="177.60" font-size="5.9" fill="#444" textLength="14.91" lengthAdjust="spacingAndGlyphs" stroke="#444" stroke-width="0.150">0.075</text>
<text x="493.50" y="185.90" font-size="5.9" fill="#444" textLength="14.91" lengthAdjust="spacingAndGlyphs" stroke="#444" stroke-width="0.150">0.050</text>
<text x="493.50" y="194.20" font-size="5.9" fill="#444" textLength="14.91" lengthAdjust="spacingAndGlyphs" stroke="#444" stroke-width="0.150">0.025</text>
<text x="493.50" y="202.50" font-size="5.9" fill="#444" textLength="14.91" lengthAdjust="spacingAndGlyphs" stroke="#444" stroke-width="0.150">0.000</text>
<text x="485.70" y="211.60" font-size="6.1" fill="#333" textLength="13.29" lengthAdjust="spacingAndGlyphs" stroke="#333" stroke-width="0.150">SIZE</text>
<circle cx="488.50" cy="217.20" r="0.95" fill="#111"/>
<text x="493.00" y="219.20" font-size="5.9" fill="#333" textLength="6.56" lengthAdjust="spacingAndGlyphs" stroke="#333" stroke-width="0.150">50</text>
<circle cx="488.50" cy="223.90" r="1.45" fill="#111"/>
<text x="493.00" y="225.90" font-size="5.9" fill="#333" textLength="9.84" lengthAdjust="spacingAndGlyphs" stroke="#333" stroke-width="0.150">100</text>
<circle cx="488.50" cy="230.60" r="1.80" fill="#111"/>
<text x="493.00" y="232.60" font-size="5.9" fill="#333" textLength="9.84" lengthAdjust="spacingAndGlyphs" stroke="#333" stroke-width="0.150">150</text>
<line x1="443.30" y1="347.90" x2="415.70" y2="347.90" stroke="#111" stroke-width="1.1"/>
<path d="M412.50 347.90L417.10 345.80L417.10 350.00Z" fill="#111"/>
<line x1="445.80" y1="347.90" x2="473.70" y2="347.90" stroke="#111" stroke-width="1.1"/>
<path d="M476.90 347.90L472.30 345.80L472.30 350.00Z" fill="#111"/>
<text x="429.80" y="356.70" font-size="6.3" fill="#222" text-anchor="middle" textLength="9.30" lengthAdjust="spacingAndGlyphs" stroke="#222" stroke-width="0.150">WT</text>
<text x="460.50" y="356.70" font-size="6.3" fill="#222" text-anchor="middle" textLength="22.08" lengthAdjust="spacingAndGlyphs" stroke="#222" stroke-width="0.150">R1984A</text>
<line x1="53.60" y1="380.00" x2="53.60" y2="457.70" stroke="#f2f2f2" stroke-width="0.6"/>
<line x1="79.60" y1="380.00" x2="79.60" y2="457.70" stroke="#f2f2f2" stroke-width="0.6"/>
<line x1="105.60" y1="380.00" x2="105.60" y2="457.70" stroke="#f2f2f2" stroke-width="0.6"/>
<line x1="131.60" y1="380.00" x2="131.60" y2="457.70" stroke="#f2f2f2" stroke-width="0.6"/>
<line x1="157.60" y1="380.00" x2="157.60" y2="457.70" stroke="#f2f2f2" stroke-width="0.6"/>
<line x1="51.90" y1="454.30" x2="164.00" y2="454.30" stroke="#f2f2f2" stroke-width="0.6"/>
<line x1="51.90" y1="435.10" x2="164.00" y2="435.10" stroke="#f2f2f2" stroke-width="0.6"/>
<line x1="51.90" y1="415.90" x2="164.00" y2="415.90" stroke="#f2f2f2" stroke-width="0.6"/>
<line x1="51.90" y1="396.70" x2="164.00" y2="396.70" stroke="#f2f2f2" stroke-width="0.6"/>
<path d="M103.0 451.6h0M100.8 454.1h0M103.1 454.0h0M99.4 453.6h0M93.7 453.5h0M96.6 454.0h0M104.0 452.1h0M97.3 452.7h0M102.1 452.1h0M102.5 450.0h0M94.9 454.3h0M99.8 448.8h0M103.0 452.9h0M99.6 449.9h0M100.6 447.6h0M94.4 453.3h0M103.9 452.1h0M100.6 453.2h0M99.7 452.4h0M93.8 452.9h0M100.6 448.3h0M103.8 451.2h0M95.0 452.0h0M97.2 453.2h0M102.8 454.2h0M96.9 453.7h0M100.8 448.4h0M102.4 449.4h0M96.6 451.7h0M98.8 453.7h0M103.1 449.9h0M104.3 453.2h0M89.3 453.8h0M100.6 447.3h0M91.2 453.3h0M100.9 454.2h0M103.4 452.9h0M100.7 452.9h0M93.0 452.6h0M102.4 449.6h0M97.1 451.1h0M102.7 449.5h0M95.0 454.0h0M95.9 453.9h0M99.8 448.0h0M96.3 452.9h0M97.4 454.1h0M104.2 454.1h0M100.4 453.4h0M102.6 449.9h0M101.0 454.2h0M103.8 451.9h0M100.6 454.1h0M101.5 449.8h0M98.0 453.7h0M102.5 452.9h0M100.7 450.3h0M103.2 451.0h0M100.7 453.5h0M92.7 453.0h0M101.7 452.1h0M98.8 452.4h0M96.5 452.2h0M101.2 452.2h0M102.1 452.3h0M101.6 447.9h0M103.8 453.0h0M96.4 451.2h0M102.8 450.5h0M102.0 451.3h0M101.1 447.6h0M92.6 453.2h0M93.5 453.0h0M96.4 453.6h0M102.3 452.3h0M101.7 453.4h0M97.4 454.2h0M102.8 450.3h0M103.8 451.6h0M99.6 453.7h0M101.1 453.2h0M95.8 452.1h0M98.6 452.9h0M91.9 453.3h0M99.4 449.8h0M102.7 450.3h0M90.3 454.1h0M102.6 451.8h0M99.1 453.5h0M97.8 453.5h0M99.2 452.8h0M97.3 451.7h0M92.7 453.3h0M100.6 448.7h0M102.1 450.7h0M98.5 453.4h0M101.5 453.7h0M98.1 453.5h0M97.0 451.5h0M100.0 453.7h0M104.6 453.6h0M94.5 452.6h0M100.7 447.6h0M100.7 448.2h0M104.6 454.3h0M102.6 449.1h0M103.9 453.0h0M97.8 453.2h0M93.8 453.4h0M99.6 450.7h0" stroke="#d8301e" stroke-width="1.20" stroke-linecap="round" stroke-opacity="0.7" fill="none"/>
<path d="M99.3 449.9h0M104.4 453.4h0M98.1 452.5h0M100.3 451.7h0M99.1 450.4h0M101.1 452.2h0M100.7 449.5h0M100.7 447.6h0M101.2 446.1h0M100.1 448.7h0M97.3 451.1h0M95.7 453.0h0M94.0 454.3h0M102.9 453.4h0M101.7 450.9h0M104.0 451.4h0M99.8 454.3h0M104.2 453.9h0M99.2 448.8h0M96.5 452.3h0M104.8 454.0h0M92.8 454.2h0M101.4 447.9h0M99.9 453.0h0M89.0 453.8h0M104.8 454.2h0M88.1 454.3h0M104.6 454.2h0M101.2 452.1h0M101.9 454.2h0M98.3 451.3h0M96.5 452.2h0M102.5 449.1h0M101.0 449.9h0M100.9 451.8h0M100.1 454.2h0M96.1 452.1h0M98.4 454.2h0M100.7 454.3h0M99.3 452.7h0M92.4 454.1h0M103.9 452.5h0M102.6 450.6h0M94.5 454.2h0M100.8 449.9h0M102.4 454.3h0M99.2 450.0h0M96.6 453.8h0M94.4 454.2h0M98.7 454.3h0M99.0 450.3h0M93.7 454.1h0M101.7 452.6h0M99.9 452.5h0M99.1 453.0h0M95.4 452.7h0M87.4 454.1h0M95.2 452.1h0M100.5 452.9h0M94.3 452.2h0M103.7 451.8h0M94.0 453.7h0M101.1 452.1h0M97.7 450.8h0M90.2 453.6h0M99.6 449.7h0M98.2 450.7h0M97.7 452.1h0M102.4 448.9h0M103.5 454.2h0M95.7 452.3h0M96.3 453.7h0M100.1 453.2h0M98.4 452.3h0M94.9 453.9h0M95.3 451.9h0M100.9 452.3h0M102.4 453.7h0M99.3 451.2h0M102.8 451.3h0M98.8 454.0h0M99.4 450.3h0M99.0 454.0h0M100.3 454.1h0M100.1 448.0h0M92.1 453.8h0M102.4 449.9h0M99.1 450.3h0M101.9 453.6h0M103.7 453.7h0M100.8 449.7h0M94.0 453.3h0M103.3 453.9h0M94.6 452.6h0M95.5 454.1h0M96.1 453.9h0M101.1 446.3h0M98.5 451.8h0M103.1 452.6h0M104.3 452.0h0M101.2 452.2h0M98.8 450.2h0M89.2 453.7h0M98.7 452.9h0M101.6 449.0h0M103.9 453.4h0M96.8 452.1h0M96.6 450.9h0M99.7 450.7h0M93.9 454.2h0" stroke="#d8301e" stroke-width="1.20" stroke-linecap="round" stroke-opacity="0.7" fill="none"/>
<path d="M89.2 454.0h0M103.5 453.2h0M92.2 453.6h0M100.6 452.1h0M102.4 451.5h0M97.2 454.1h0M100.3 447.4h0M89.4 454.0h0M92.6 454.0h0M101.5 452.9h0M97.5 453.0h0M101.3 453.2h0M94.0 452.8h0M94.5 454.3h0M97.1 451.7h0M101.0 446.1h0M96.0 453.0h0M94.2 452.9h0M103.8 452.9h0M94.9 452.1h0M100.5 450.8h0M102.6 451.1h0M103.1 453.7h0M102.9 453.4h0M104.6 454.3h0M101.5 447.6h0M102.8 451.8h0M104.1 452.8h0M101.6 447.9h0M99.1 451.0h0M93.4 454.2h0M99.1 449.7h0M98.4 449.5h0M92.2 454.2h0M102.9 450.3h0M95.5 454.1h0M95.9 453.3h0M88.1 453.8h0M95.5 452.9h0M99.6 450.9h0M90.8 453.3h0M103.2 453.5h0M102.5 452.9h0M104.5 453.3h0M100.9 448.7h0M96.1 453.9h0M101.3 453.2h0M103.5 454.1h0M102.2 454.0h0M101.6 447.6h0M97.5 450.5h0M101.2 449.4h0M90.2 454.2h0M94.7 453.4h0M102.8 452.5h0M99.8 451.5h0M101.3 447.8h0M102.2 452.8h0M102.0 450.7h0M95.8 452.6h0M104.2 454.1h0M101.1 447.6h0M96.4 453.7h0M86.0 454.3h0M93.3 453.9h0M102.8 449.1h0M101.5 450.0h0M100.5 449.2h0M103.0 453.2h0M103.9 453.8h0M94.8 453.0h0M95.3 453.1h0M102.1 450.5h0M98.1 450.9h0M94.6 454.3h0M96.4 453.0h0M100.1 450.1h0M97.2 452.0h0M103.0 450.4h0M99.8 448.1h0M101.2 451.9h0M100.4 447.1h0M100.5 448.6h0M90.1 454.1h0M91.0 454.0h0M101.9 448.1h0M103.2 450.2h0M103.2 452.9h0M97.1 451.7h0M94.8 453.9h0M104.5 454.2h0M101.9 454.2h0M104.3 452.4h0M101.1 448.1h0M99.4 450.9h0M102.6 449.7h0M101.6 453.3h0M100.3 452.7h0M98.6 452.1h0M102.0 453.0h0M102.9 452.6h0M93.6 453.3h0M98.1 452.5h0M95.1 453.0h0M103.0 454.1h0M96.6 454.3h0M90.9 453.2h0M102.9 452.8h0M100.0 453.8h0M99.3 449.3h0" stroke="#d8301e" stroke-width="1.20" stroke-linecap="round" stroke-opacity="0.7" fill="none"/>
<path d="M88.9 446.5h0M88.7 439.9h0M101.0 446.8h0M93.0 445.2h0M87.0 446.6h0M88.9 450.0h0M94.9 450.0h0M96.0 441.3h0M94.0 441.3h0M87.3 445.3h0" stroke="#d8301e" stroke-width="1.20" stroke-linecap="round" stroke-opacity="0.45" fill="none"/>
<path d="M89.0 449.3h0M92.1 437.9h0M99.4 439.7h0M100.7 445.2h0M95.6 447.7h0M96.8 442.4h0M97.7 445.4h0M98.2 443.4h0M88.6 438.2h0M96.7 445.1h0" stroke="#d8301e" stroke-width="1.20" stroke-linecap="round" stroke-opacity="0.45" fill="none"/>
<path d="M93.8 445.5h0M97.0 445.3h0M100.5 435.4h0M93.6 449.4h0M96.6 447.8h0M94.9 447.2h0M90.3 445.5h0M99.5 442.1h0M86.8 448.4h0M87.9 434.5h0" stroke="#d8301e" stroke-width="1.20" stroke-linecap="round" stroke-opacity="0.45" fill="none"/>
<path d="M108.4 451.9h0M129.0 453.8h0M115.1 447.6h0M122.5 452.3h0M114.6 450.5h0M119.3 453.5h0M119.6 454.3h0M115.2 452.7h0M121.9 453.0h0M108.9 451.8h0M109.8 450.4h0M108.5 452.8h0M124.0 454.2h0M115.2 448.1h0M116.9 449.6h0M111.5 452.3h0M110.8 450.3h0M112.9 447.2h0M113.7 454.0h0M107.6 451.7h0M115.8 454.1h0M112.4 449.7h0M107.5 454.3h0M109.3 452.9h0M108.0 454.1h0M108.6 450.2h0M112.1 448.7h0M123.0 452.8h0M109.2 450.5h0M114.1 447.1h0M114.2 449.6h0M109.5 453.8h0M116.9 450.7h0M111.3 450.4h0M121.6 453.3h0M116.5 451.7h0M107.3 452.4h0M111.2 453.5h0M127.2 454.3h0M109.1 449.4h0M121.4 452.0h0M114.3 453.7h0M109.5 454.1h0M115.2 449.5h0M108.5 452.2h0M115.0 451.4h0M111.3 454.2h0M110.5 452.7h0M120.2 452.9h0M118.9 453.2h0M115.6 451.4h0M110.7 453.5h0M123.9 452.7h0M107.4 454.0h0M112.4 452.6h0M108.2 453.8h0M125.9 454.2h0M108.7 454.1h0M116.6 454.1h0M108.3 451.4h0M112.9 451.5h0M113.1 450.3h0M108.1 453.9h0M114.8 450.6h0M120.5 453.3h0M118.0 454.2h0M129.2 453.5h0M107.3 454.0h0M129.1 453.7h0M109.7 448.7h0M119.2 451.6h0M112.0 452.5h0M125.8 453.5h0M113.7 452.2h0M117.0 452.5h0M114.7 451.3h0M117.6 449.5h0M111.2 448.3h0M111.1 453.8h0M109.5 453.9h0M122.2 452.8h0M113.2 452.7h0M126.9 453.0h0M109.3 450.8h0M116.3 450.8h0M116.3 449.1h0M110.3 454.1h0M109.2 450.0h0M114.0 451.5h0M117.0 451.9h0M112.0 454.2h0M111.3 453.1h0M122.6 454.3h0M109.0 453.1h0M106.8 452.8h0M107.9 453.2h0M107.9 452.5h0M115.7 450.8h0M118.2 451.1h0M113.6 451.0h0M107.9 453.2h0M112.7 453.3h0M106.6 454.3h0M107.9 453.1h0M115.9 452.8h0M107.9 453.5h0M126.1 453.1h0M111.7 447.0h0M116.9 454.2h0M112.5 450.7h0M115.4 449.6h0M114.2 453.0h0M121.6 451.9h0M112.6 451.0h0M111.2 454.3h0M115.5 448.9h0M122.4 453.6h0M114.8 447.8h0M106.8 453.4h0M117.8 453.7h0M111.3 453.9h0M119.5 451.1h0M108.8 453.2h0M116.0 453.5h0M109.7 449.3h0M131.4 453.9h0M122.4 453.8h0" stroke="#2a36a0" stroke-width="1.20" stroke-linecap="round" stroke-opacity="0.7" fill="none"/>
<path d="M106.4 454.0h0M109.7 451.2h0M113.4 453.2h0M114.4 450.7h0M112.1 451.6h0M110.5 451.1h0M107.0 452.6h0M107.1 453.5h0M111.0 448.4h0M116.3 451.3h0M113.0 451.5h0M118.0 452.2h0M117.3 454.0h0M106.5 454.1h0M119.6 452.4h0M108.9 450.8h0M107.9 454.3h0M110.3 448.7h0M110.2 450.1h0M107.5 452.8h0M107.5 454.2h0M109.4 448.9h0M115.8 452.2h0M119.9 452.4h0M107.5 451.8h0M109.1 451.1h0M108.4 452.9h0M122.0 454.0h0M113.5 453.7h0M113.6 450.4h0M113.3 454.0h0M118.5 453.0h0M120.5 452.7h0M121.0 451.8h0M108.4 451.6h0M106.6 453.1h0M113.6 454.2h0M109.2 452.4h0M109.1 453.1h0M121.2 452.5h0M116.4 451.1h0M115.7 451.8h0M121.4 453.9h0M109.7 452.7h0M114.5 449.1h0M110.2 450.0h0M117.7 450.4h0M108.6 450.1h0M113.6 453.9h0M121.7 453.7h0M118.8 452.2h0M114.1 449.6h0M120.9 453.0h0M107.7 451.4h0M113.4 451.8h0M108.3 452.1h0M111.5 452.0h0M120.7 454.2h0M110.4 450.6h0M110.4 453.2h0M131.1 454.1h0M115.0 447.4h0M114.5 448.9h0M109.6 451.2h0M113.7 449.6h0M108.3 453.2h0M112.4 451.2h0M109.8 453.7h0M113.3 450.2h0M118.1 450.7h0M115.5 449.3h0M113.7 451.3h0M114.3 450.6h0M114.3 451.1h0M114.7 448.7h0M115.6 452.5h0M111.0 449.2h0M116.0 454.2h0M109.3 451.2h0M118.1 450.9h0M113.9 452.5h0M114.6 452.4h0M123.1 453.6h0M114.5 449.9h0M118.5 452.1h0M115.6 450.9h0M109.2 453.9h0M131.4 454.1h0M115.3 450.8h0M117.4 451.1h0M123.1 452.6h0M108.0 451.4h0M120.3 452.7h0M113.7 448.1h0M119.6 454.0h0M115.4 454.3h0M113.2 450.1h0M117.2 449.2h0M111.0 449.5h0M109.6 448.7h0M114.5 453.2h0M110.7 453.3h0M111.2 451.4h0M123.2 453.9h0M113.2 450.6h0M112.0 451.1h0M117.0 451.7h0M111.3 452.0h0M118.8 453.3h0M111.5 452.1h0M113.9 449.1h0M113.9 450.0h0M111.2 447.9h0M114.2 453.9h0M110.8 449.8h0M128.0 454.0h0M118.7 450.6h0M116.9 452.7h0M112.3 453.9h0M108.5 453.5h0M110.9 448.8h0M121.7 453.9h0M117.9 453.6h0M121.6 454.3h0M107.4 452.7h0M112.1 450.8h0M112.2 451.3h0" stroke="#2a36a0" stroke-width="1.20" stroke-linecap="round" stroke-opacity="0.7" fill="none"/>
<path d="M107.2 454.2h0M113.3 449.5h0M108.7 453.1h0M111.9 453.0h0M106.5 454.2h0M110.1 453.1h0M120.8 454.1h0M110.7 454.1h0M112.7 445.4h0M108.0 453.4h0M114.9 449.0h0M113.5 450.8h0M115.1 450.2h0M113.7 447.3h0M111.6 450.3h0M108.4 450.7h0M117.4 450.4h0M111.6 453.8h0M111.8 448.8h0M124.6 454.3h0M114.1 453.3h0M129.4 454.3h0M113.4 451.0h0M112.8 445.1h0M110.5 447.6h0M108.9 453.0h0M114.9 454.3h0M112.8 450.9h0M112.7 451.7h0M111.2 451.4h0M116.4 454.2h0M115.9 452.8h0M108.3 452.4h0M115.5 448.8h0M109.5 449.7h0M114.0 453.5h0M108.9 454.2h0M121.3 452.1h0M117.2 453.3h0M127.5 453.6h0M111.1 446.4h0M130.5 453.5h0M118.5 451.3h0M123.1 453.6h0M116.4 449.1h0M113.4 451.6h0M117.2 451.4h0M107.9 452.3h0M106.5 453.7h0M107.7 453.9h0M110.1 449.9h0M110.6 452.9h0M110.7 451.8h0M119.7 452.5h0M125.2 452.8h0M108.3 450.6h0M110.4 450.7h0M122.1 452.5h0M108.5 452.8h0M116.6 450.8h0M125.9 453.5h0M109.1 452.0h0M113.8 453.7h0M107.8 451.5h0M108.5 454.1h0M108.9 453.6h0M118.3 453.9h0M110.5 454.0h0M115.9 452.7h0M107.8 454.2h0M110.3 452.7h0M127.4 453.2h0M111.9 448.5h0M109.8 450.8h0M110.7 451.4h0M107.7 453.0h0M120.5 454.2h0M112.1 454.1h0M126.4 454.2h0M125.6 454.2h0M111.7 451.9h0M110.2 450.1h0M116.4 452.4h0M108.0 453.8h0M113.7 452.6h0M124.3 453.3h0M126.0 453.9h0M111.6 449.2h0M112.8 453.0h0M107.3 452.6h0M114.0 451.7h0M114.6 450.4h0M120.7 451.3h0M111.5 447.5h0M119.9 450.8h0M115.0 453.0h0M114.0 453.4h0M119.4 453.7h0M115.3 450.9h0M112.2 453.6h0M121.8 454.2h0M108.4 450.8h0M109.6 452.7h0M112.3 445.1h0M110.7 454.2h0M120.1 453.3h0M114.2 454.3h0M112.0 454.2h0M109.4 452.8h0M115.3 447.5h0M109.4 449.6h0M121.9 452.9h0M108.9 449.7h0M113.7 446.2h0M118.4 453.0h0M123.0 454.2h0M127.3 453.3h0M108.3 452.0h0M108.7 451.6h0M112.9 454.3h0M118.3 454.3h0M110.8 453.1h0M116.9 451.1h0M107.0 453.2h0M114.2 452.0h0M107.0 453.4h0" stroke="#2a36a0" stroke-width="1.20" stroke-linecap="round" stroke-opacity="0.7" fill="none"/>
<path d="M118.8 448.6h0M117.9 448.9h0M124.8 442.1h0M122.7 449.2h0M125.1 446.8h0M109.7 447.9h0M115.9 444.8h0M126.5 447.2h0M123.2 441.7h0M118.6 440.7h0" stroke="#2a36a0" stroke-width="1.20" stroke-linecap="round" stroke-opacity="0.45" fill="none"/>
<path d="M109.6 442.3h0M119.0 447.0h0M114.5 442.8h0M119.8 437.3h0M115.8 447.4h0M115.2 446.1h0M124.7 445.1h0M125.4 436.8h0M112.7 435.7h0M111.3 439.1h0" stroke="#2a36a0" stroke-width="1.20" stroke-linecap="round" stroke-opacity="0.45" fill="none"/>
<path d="M121.4 439.8h0M126.7 447.9h0M109.9 447.3h0M127.9 439.8h0M109.9 449.0h0M118.2 438.6h0M123.1 435.9h0M113.3 448.5h0M117.9 435.7h0M117.4 447.9h0" stroke="#2a36a0" stroke-width="1.20" stroke-linecap="round" stroke-opacity="0.45" fill="none"/>
<path d="M75.3 453.4h0M72.7 454.2h0M93.5 453.6h0M72.6 453.0h0M68.1 453.8h0M91.9 453.9h0M60.9 453.9h0M82.8 453.6h0M70.1 454.1h0M74.0 454.0h0M94.7 452.9h0M97.3 453.9h0M81.8 454.2h0M97.7 454.1h0M103.0 454.2h0M84.9 453.2h0M86.6 454.3h0M114.6 454.1h0M112.9 454.1h0M152.9 454.3h0M154.0 454.0h0M125.9 453.5h0M128.4 452.6h0M115.8 453.7h0M146.8 454.3h0M150.1 454.1h0M121.8 453.3h0M123.7 454.0h0M135.3 453.8h0M113.7 454.3h0M76.4 415.7h0M77.7 437.1h0M96.8 442.5h0" stroke="#b8b8b8" stroke-width="1.20" stroke-linecap="round" stroke-opacity="0.6" fill="none"/>
<path d="M98.4 453.1h0M99.4 453.9h0M64.0 453.8h0M64.8 454.3h0M67.5 453.9h0M81.7 453.0h0M69.5 453.4h0M75.5 453.9h0M98.9 454.0h0M84.2 453.8h0M66.9 454.3h0M65.9 453.6h0M81.8 453.8h0M97.6 453.7h0M88.7 454.3h0M83.4 452.7h0M55.9 454.2h0M154.1 453.3h0M111.5 454.3h0M116.4 454.3h0M151.0 454.0h0M128.9 454.2h0M138.2 454.2h0M122.7 454.3h0M134.1 453.6h0M114.8 453.4h0M158.8 453.7h0M118.1 454.3h0M135.9 453.2h0M127.3 453.9h0M95.5 449.4h0M71.7 392.7h0M75.0 448.5h0" stroke="#b8b8b8" stroke-width="1.20" stroke-linecap="round" stroke-opacity="0.6" fill="none"/>
<path d="M99.8 453.1h0M101.8 453.4h0M87.2 454.3h0M65.1 453.9h0M99.9 452.9h0M64.3 454.0h0M72.2 453.5h0M60.3 453.5h0M59.4 453.5h0M98.9 454.1h0M61.8 453.7h0M93.5 452.6h0M64.5 454.3h0M54.1 452.7h0M98.7 454.3h0M62.9 452.4h0M114.4 454.0h0M123.3 454.3h0M161.6 454.1h0M136.8 452.8h0M136.2 454.1h0M126.2 454.3h0M133.5 453.7h0M120.2 454.1h0M153.7 454.3h0M146.5 452.3h0M145.4 454.3h0M127.9 453.5h0M147.8 454.1h0M145.7 454.3h0M86.7 433.0h0M77.3 396.8h0" stroke="#b8b8b8" stroke-width="1.20" stroke-linecap="round" stroke-opacity="0.6" fill="none"/>
<line x1="94.50" y1="433.20" x2="99.00" y2="433.20" stroke="#777" stroke-width="0.9"/>
<line x1="88.50" y1="420.10" x2="94.00" y2="420.10" stroke="#777" stroke-width="0.9"/>
<line x1="82.50" y1="417.20" x2="85.50" y2="417.20" stroke="#777" stroke-width="0.9"/>
<line x1="116.00" y1="433.00" x2="119.50" y2="433.00" stroke="#777" stroke-width="0.9"/>
<line x1="99.00" y1="442.20" x2="102.00" y2="442.20" stroke="#777" stroke-width="0.9"/>
<line x1="96.00" y1="446.20" x2="99.50" y2="446.20" stroke="#777" stroke-width="0.9"/>
<circle cx="79.20" cy="424.50" r="3.00" fill="#f6b8c0" fill-opacity="0.7"/>
<circle cx="79.20" cy="424.50" r="1.60" fill="#c82436"/>
<text x="58.80" y="411.70" font-size="6.0" fill="#222" textLength="15.67" lengthAdjust="spacingAndGlyphs" stroke="#222" stroke-width="0.150">HES4</text>
<line x1="70.80" y1="413.60" x2="77.30" y2="421.40" stroke="#111" stroke-width="0.9"/>
<path d="M77.30 421.40L76.30 418.33L74.46 419.86Z" fill="#111"/>
<line x1="51.40" y1="380.00" x2="51.40" y2="458.65" stroke="#111" stroke-width="1.0"/>
<line x1="50.95" y1="458.20" x2="164.00" y2="458.20" stroke="#111" stroke-width="1.0"/>
<line x1="49.10" y1="454.30" x2="51.40" y2="454.30" stroke="#111" stroke-width="0.7"/>
<text x="45.90" y="456.70" font-size="6.8" fill="#333" text-anchor="end" textLength="3.71" lengthAdjust="spacingAndGlyphs" stroke="#333" stroke-width="0.150">0</text>
<line x1="49.10" y1="435.10" x2="51.40" y2="435.10" stroke="#111" stroke-width="0.7"/>
<text x="45.90" y="437.50" font-size="6.8" fill="#333" text-anchor="end" textLength="7.41" lengthAdjust="spacingAndGlyphs" stroke="#333" stroke-width="0.150">20</text>
<line x1="49.10" y1="415.90" x2="51.40" y2="415.90" stroke="#111" stroke-width="0.7"/>
<text x="45.90" y="418.30" font-size="6.8" fill="#333" text-anchor="end" textLength="7.41" lengthAdjust="spacingAndGlyphs" stroke="#333" stroke-width="0.150">40</text>
<line x1="49.10" y1="396.70" x2="51.40" y2="396.70" stroke="#111" stroke-width="0.7"/>
<text x="45.90" y="399.10" font-size="6.8" fill="#333" text-anchor="end" textLength="7.41" lengthAdjust="spacingAndGlyphs" stroke="#333" stroke-width="0.150">60</text>
<line x1="53.60" y1="458.20" x2="53.60" y2="460.40" stroke="#111" stroke-width="0.7"/>
<text x="53.60" y="469.90" font-size="6.8" fill="#333" text-anchor="middle" textLength="9.63" lengthAdjust="spacingAndGlyphs" stroke="#333" stroke-width="0.150">-10</text>
<line x1="79.60" y1="458.20" x2="79.60" y2="460.40" stroke="#111" stroke-width="0.7"/>
<text x="79.60" y="469.90" font-size="6.8" fill="#333" text-anchor="middle" textLength="5.93" lengthAdjust="spacingAndGlyphs" stroke="#333" stroke-width="0.150">-5</text>
<line x1="105.60" y1="458.20" x2="105.60" y2="460.40" stroke="#111" stroke-width="0.7"/>
<text x="105.60" y="469.90" font-size="6.8" fill="#333" text-anchor="middle" textLength="3.71" lengthAdjust="spacingAndGlyphs" stroke="#333" stroke-width="0.150">0</text>
<line x1="131.60" y1="458.20" x2="131.60" y2="460.40" stroke="#111" stroke-width="0.7"/>
<text x="131.60" y="469.90" font-size="6.8" fill="#333" text-anchor="middle" textLength="3.71" lengthAdjust="spacingAndGlyphs" stroke="#333" stroke-width="0.150">5</text>
<line x1="157.60" y1="458.20" x2="157.60" y2="460.40" stroke="#111" stroke-width="0.7"/>
<text x="157.60" y="469.90" font-size="6.8" fill="#333" text-anchor="middle" textLength="7.41" lengthAdjust="spacingAndGlyphs" stroke="#333" stroke-width="0.150">10</text>
<text x="108.10" y="375.30" font-size="8.6" fill="#222" text-anchor="middle" textLength="23.65" lengthAdjust="spacingAndGlyphs" stroke="#222" stroke-width="0.150">N only</text>
<text transform="translate(31.60,419.2) rotate(-90)" font-size="7.1" fill="#222" stroke="#222" stroke-width="0.2" text-anchor="middle" textLength="75" lengthAdjust="spacingAndGlyphs">−Log<tspan font-size="4.6" dy="1.6">10</tspan><tspan dy="-1.6"> (adjusted </tspan><tspan font-style="italic">P</tspan> value)</text>
<line x1="102.70" y1="474.40" x2="59.00" y2="474.40" stroke="#111" stroke-width="1.1"/>
<path d="M55.80 474.40L60.40 472.30L60.40 476.50Z" fill="#111"/>
<line x1="108.70" y1="474.40" x2="152.80" y2="474.40" stroke="#111" stroke-width="1.1"/>
<path d="M156.00 474.40L151.40 472.30L151.40 476.50Z" fill="#111"/>
<text x="78.70" y="483.60" font-size="6.3" fill="#222" text-anchor="middle" textLength="9.30" lengthAdjust="spacingAndGlyphs" stroke="#222" stroke-width="0.150">WT</text>
<text x="132.50" y="483.60" font-size="6.3" fill="#222" text-anchor="middle" textLength="22.08" lengthAdjust="spacingAndGlyphs" stroke="#222" stroke-width="0.150">R1984A</text>
<text x="107.50" y="491.9" font-size="7.1" fill="#222" stroke="#222" stroke-width="0.2" text-anchor="middle" textLength="50.5" lengthAdjust="spacingAndGlyphs">Log<tspan font-size="4.6" dy="1.6">2</tspan><tspan dy="-1.6"> fold change</tspan></text>
<line x1="229.88" y1="380.00" x2="229.88" y2="457.70" stroke="#f2f2f2" stroke-width="0.6"/>
<line x1="255.59" y1="380.00" x2="255.59" y2="457.70" stroke="#f2f2f2" stroke-width="0.6"/>
<line x1="281.30" y1="380.00" x2="281.30" y2="457.70" stroke="#f2f2f2" stroke-width="0.6"/>
<line x1="307.01" y1="380.00" x2="307.01" y2="457.70" stroke="#f2f2f2" stroke-width="0.6"/>
<line x1="332.72" y1="380.00" x2="332.72" y2="457.70" stroke="#f2f2f2" stroke-width="0.6"/>
<line x1="226.70" y1="454.30" x2="338.00" y2="454.30" stroke="#f2f2f2" stroke-width="0.6"/>
<line x1="226.70" y1="428.00" x2="338.00" y2="428.00" stroke="#f2f2f2" stroke-width="0.6"/>
<line x1="226.70" y1="401.70" x2="338.00" y2="401.70" stroke="#f2f2f2" stroke-width="0.6"/>
<path d="M279.5 454.2h0M278.8 453.5h0M255.3 454.1h0M265.0 452.0h0M270.5 453.5h0M268.7 451.2h0M271.8 453.8h0M278.7 453.0h0M259.3 453.2h0M271.5 451.6h0M273.2 452.4h0M279.2 453.8h0M273.4 451.4h0M278.9 454.3h0M271.4 451.0h0M264.2 452.4h0M255.5 453.2h0M275.2 454.2h0M265.2 454.3h0M269.4 451.9h0M258.7 454.0h0M267.2 453.5h0M265.7 454.1h0M277.1 452.3h0M267.8 454.2h0M277.9 453.5h0M272.5 451.4h0M274.4 451.7h0M270.6 452.3h0M276.8 452.5h0M268.4 454.0h0M266.3 453.3h0M278.2 453.4h0M278.9 453.6h0M264.7 452.0h0M275.8 452.4h0M244.9 454.2h0M275.3 454.2h0M279.5 454.1h0M276.2 453.8h0M274.2 453.1h0M275.1 454.0h0M269.2 454.3h0M276.6 453.8h0M264.0 454.0h0M279.5 453.5h0M270.0 451.6h0M276.9 452.4h0M249.3 454.0h0M265.3 454.2h0M264.4 453.2h0M252.8 453.7h0M256.5 453.9h0M277.8 452.2h0M272.3 453.2h0M275.4 451.5h0M272.3 453.4h0" stroke="#d8301e" stroke-width="1.20" stroke-linecap="round" stroke-opacity="0.7" fill="none"/>
<path d="M276.9 453.6h0M272.3 450.6h0M246.7 454.0h0M266.1 453.4h0M262.0 453.6h0M269.7 451.1h0M279.1 453.3h0M265.3 451.8h0M240.7 454.0h0M268.6 454.2h0M274.9 451.6h0M270.3 451.8h0M276.0 452.4h0M260.0 453.0h0M280.1 453.9h0M265.8 453.8h0M275.3 451.1h0M270.4 452.6h0M243.0 454.3h0M271.7 450.3h0M279.5 454.2h0M264.6 452.0h0M274.1 454.0h0M266.1 453.6h0M256.3 453.6h0M267.3 452.6h0M269.8 453.9h0M263.1 454.0h0M274.4 454.0h0M274.2 453.1h0M276.0 453.4h0M268.1 452.7h0M271.6 451.4h0M276.3 451.5h0M270.2 452.2h0M279.0 454.0h0M257.9 453.9h0M280.0 453.7h0M277.0 454.1h0M268.8 453.4h0M254.6 454.3h0M273.8 450.0h0M253.6 453.6h0M272.0 453.9h0M276.8 452.6h0M270.4 453.0h0M277.6 453.1h0M278.1 452.4h0M274.2 454.1h0M271.1 452.6h0M262.1 453.7h0M263.3 454.3h0M267.5 454.0h0M250.5 454.2h0M265.7 452.6h0M264.0 454.0h0M257.3 453.6h0" stroke="#d8301e" stroke-width="1.20" stroke-linecap="round" stroke-opacity="0.7" fill="none"/>
<path d="M261.7 453.1h0M262.7 452.8h0M276.4 452.5h0M258.1 454.0h0M257.3 454.2h0M275.7 453.4h0M259.0 453.4h0M251.2 453.8h0M279.7 453.8h0M277.0 453.8h0M279.1 453.2h0M267.6 453.8h0M278.5 453.4h0M274.2 454.0h0M275.6 451.2h0M276.0 452.9h0M249.2 453.9h0M263.9 453.1h0M278.3 453.5h0M252.8 453.6h0M268.3 454.0h0M270.5 450.6h0M278.7 453.1h0M270.3 452.4h0M270.9 454.3h0M279.6 453.8h0M269.6 452.6h0M264.0 452.6h0M261.5 453.0h0M258.9 454.3h0M267.2 454.2h0M274.4 450.7h0M274.3 452.9h0M265.9 452.6h0M272.9 450.7h0M277.1 452.5h0M277.9 454.0h0M265.3 453.3h0M274.4 452.9h0M273.7 453.3h0M272.4 450.2h0M266.8 454.1h0M266.8 453.1h0M278.6 454.0h0M256.0 453.7h0M277.1 452.1h0M271.9 453.1h0M244.9 454.0h0M270.5 452.7h0M256.4 453.4h0M248.9 453.7h0M258.1 453.4h0M274.8 452.6h0M278.0 452.6h0M274.3 453.5h0M271.0 453.5h0" stroke="#d8301e" stroke-width="1.20" stroke-linecap="round" stroke-opacity="0.7" fill="none"/>
<path d="M244.0 434.9h0M258.2 451.4h0M269.6 452.1h0M255.8 438.9h0M245.0 443.6h0M257.1 427.7h0M263.7 444.2h0M252.2 432.0h0M270.7 435.0h0M242.2 449.2h0M262.0 436.8h0M259.7 432.9h0M248.5 425.4h0M252.2 444.3h0M255.2 443.8h0" stroke="#d8301e" stroke-width="1.20" stroke-linecap="round" stroke-opacity="0.45" fill="none"/>
<path d="M272.6 444.1h0M260.2 435.3h0M259.2 431.5h0M269.0 451.4h0M241.8 428.3h0M265.3 450.3h0M273.7 438.6h0M265.4 436.0h0M254.1 430.4h0M260.0 452.0h0M261.8 450.0h0M266.5 442.7h0M242.5 450.2h0M246.7 441.5h0M247.3 451.2h0" stroke="#d8301e" stroke-width="1.20" stroke-linecap="round" stroke-opacity="0.45" fill="none"/>
<path d="M258.4 431.7h0M249.0 442.8h0M273.3 440.2h0M276.5 446.9h0M256.3 443.0h0M244.9 436.3h0M249.0 441.0h0M242.3 432.9h0M252.0 424.4h0M241.8 451.2h0M259.2 448.9h0M254.6 439.9h0M259.9 451.0h0M248.6 452.1h0M274.1 434.1h0" stroke="#d8301e" stroke-width="1.20" stroke-linecap="round" stroke-opacity="0.45" fill="none"/>
<path d="M288.5 453.1h0M292.1 451.4h0M292.9 454.1h0M290.5 450.2h0M299.2 452.5h0M293.6 453.9h0M289.5 451.8h0M285.3 452.7h0M283.8 453.2h0M299.8 454.2h0M291.7 454.2h0M285.4 452.5h0M291.1 451.6h0M288.5 454.0h0M310.1 453.7h0M305.8 453.8h0M284.7 453.3h0M294.5 452.9h0M292.5 451.5h0M284.6 454.3h0M288.2 450.5h0M289.4 454.0h0M287.7 452.0h0M286.6 454.2h0M283.0 453.4h0M286.7 452.9h0M282.4 453.9h0M282.9 453.5h0M284.8 453.6h0M288.6 453.5h0M290.9 450.3h0M293.4 452.3h0M284.8 453.9h0M287.4 453.9h0M286.0 453.5h0M319.4 454.3h0M284.4 454.1h0M290.6 451.3h0M286.9 453.0h0M285.6 453.6h0M282.5 453.9h0M285.0 453.0h0M298.1 453.0h0M283.4 453.7h0M283.0 453.5h0M291.0 451.1h0M294.6 451.9h0M288.6 452.4h0M291.0 449.8h0M289.8 450.9h0M285.0 453.1h0M288.3 451.1h0M285.3 452.2h0M297.6 453.8h0" stroke="#2a36a0" stroke-width="1.20" stroke-linecap="round" stroke-opacity="0.7" fill="none"/>
<path d="M313.8 454.0h0M283.2 453.5h0M287.3 453.5h0M292.8 451.0h0M302.1 454.0h0M285.6 451.9h0M287.0 453.1h0M284.3 452.7h0M285.4 452.2h0M285.0 452.5h0M290.8 453.2h0M288.2 450.9h0M292.4 451.7h0M286.0 453.8h0M287.2 453.1h0M309.0 454.2h0M288.6 454.0h0M299.8 454.3h0M288.0 453.7h0M287.9 454.3h0M292.7 453.4h0M290.5 452.0h0M307.6 454.0h0M289.3 451.9h0M297.1 453.5h0M289.3 451.7h0M283.6 454.1h0M297.9 453.3h0M305.0 453.6h0M295.5 452.7h0M287.0 454.0h0M294.0 453.7h0M282.7 453.6h0M290.8 453.0h0M294.8 453.8h0M293.8 453.0h0M301.9 453.2h0M290.8 451.2h0M299.9 453.2h0M292.1 453.2h0M288.4 453.3h0M286.0 454.2h0M309.5 454.3h0M282.4 454.2h0M284.1 454.3h0M287.6 451.7h0M311.6 454.1h0M290.9 452.4h0M303.0 454.0h0M285.1 454.2h0M291.1 452.7h0M290.8 449.6h0M286.3 453.0h0" stroke="#2a36a0" stroke-width="1.20" stroke-linecap="round" stroke-opacity="0.7" fill="none"/>
<path d="M291.3 452.4h0M283.2 453.7h0M292.1 453.5h0M293.6 452.3h0M284.4 452.8h0M287.3 453.4h0M315.4 454.0h0M283.7 453.9h0M311.5 454.3h0M300.9 453.0h0M286.9 454.2h0M285.5 452.0h0M286.5 454.3h0M286.2 452.4h0M302.6 453.1h0M303.0 454.2h0M295.1 452.0h0M293.7 452.9h0M286.1 454.1h0M301.1 452.8h0M297.5 452.8h0M286.5 453.3h0M295.9 451.9h0M293.7 453.1h0M284.1 453.4h0M316.2 454.1h0M293.2 451.2h0M312.7 453.9h0M306.8 454.2h0M282.2 454.1h0M291.1 450.8h0M284.6 454.2h0M291.7 453.1h0M297.7 453.6h0M288.1 451.8h0M293.6 452.4h0M294.5 453.3h0M282.6 454.2h0M285.2 452.1h0M287.5 453.0h0M289.6 453.7h0M290.3 451.7h0M291.6 454.1h0M286.7 451.3h0M285.7 453.1h0M314.6 454.1h0M284.1 453.3h0M290.5 453.5h0M298.8 454.3h0M287.0 452.3h0M291.6 452.1h0M301.6 454.1h0M287.4 454.2h0" stroke="#2a36a0" stroke-width="1.20" stroke-linecap="round" stroke-opacity="0.7" fill="none"/>
<path d="M310.5 450.4h0M297.8 448.2h0M288.4 446.0h0M310.1 449.7h0M299.0 442.1h0M291.6 447.3h0M301.7 445.0h0M302.5 445.4h0M289.5 452.2h0M308.2 448.1h0M290.8 446.4h0M291.1 450.6h0M303.1 441.9h0M306.5 452.0h0" stroke="#2a36a0" stroke-width="1.20" stroke-linecap="round" stroke-opacity="0.45" fill="none"/>
<path d="M293.8 445.3h0M288.7 451.4h0M308.3 446.8h0M304.0 452.3h0M300.4 444.0h0M305.1 452.2h0M309.1 446.0h0M302.7 442.9h0M285.7 447.4h0M302.2 451.5h0M285.5 446.0h0M289.6 446.4h0M306.4 449.5h0" stroke="#2a36a0" stroke-width="1.20" stroke-linecap="round" stroke-opacity="0.45" fill="none"/>
<path d="M290.1 452.2h0M287.4 451.3h0M290.5 447.4h0M305.0 442.7h0M297.5 449.5h0M302.4 452.2h0M301.9 445.5h0M293.9 441.1h0M307.4 451.8h0M311.1 448.5h0M307.0 451.8h0M306.3 448.6h0M308.5 451.3h0" stroke="#2a36a0" stroke-width="1.20" stroke-linecap="round" stroke-opacity="0.45" fill="none"/>
<path d="M246.0 454.3h0M263.6 453.8h0M246.6 452.6h0M271.8 452.9h0M258.2 454.3h0M273.7 452.7h0M255.8 454.3h0M276.1 454.3h0M257.7 454.2h0M266.1 453.9h0M273.3 454.3h0M279.8 454.1h0M277.7 452.7h0M255.6 452.8h0M230.6 453.4h0M262.5 453.2h0M262.4 453.5h0M295.3 453.6h0M309.2 454.3h0M331.0 453.0h0M331.7 454.2h0M305.7 454.3h0M307.1 453.5h0M285.9 453.9h0M292.3 453.8h0M287.8 452.6h0M327.7 453.1h0M327.9 454.3h0M285.9 453.5h0M301.9 454.3h0M323.4 453.7h0M335.0 454.0h0M286.6 454.3h0M298.9 454.3h0M286.6 452.9h0M293.0 452.6h0M307.2 454.3h0M264.5 452.5h0M280.9 452.9h0M260.1 454.3h0M261.9 451.7h0M272.9 452.4h0M262.1 453.6h0M279.2 451.8h0M279.7 454.1h0M272.7 454.2h0M266.6 451.5h0M274.1 454.3h0M264.4 451.0h0M266.7 452.5h0M287.4 454.1h0M285.4 452.3h0M262.6 454.1h0M284.3 451.1h0M265.0 453.9h0M265.3 451.0h0M287.8 452.2h0M266.5 452.2h0M265.4 454.2h0M265.5 454.1h0" stroke="#b8b8b8" stroke-width="1.20" stroke-linecap="round" stroke-opacity="0.6" fill="none"/>
<path d="M258.2 454.3h0M245.6 454.3h0M274.0 453.3h0M267.6 454.0h0M237.8 453.4h0M278.7 453.1h0M238.0 453.5h0M237.9 452.4h0M249.2 454.2h0M255.2 454.3h0M249.1 453.9h0M241.0 453.2h0M245.3 452.7h0M250.1 454.1h0M265.4 452.5h0M236.5 453.1h0M237.5 454.3h0M289.0 454.3h0M332.3 453.7h0M322.9 452.8h0M308.9 452.5h0M306.1 454.3h0M314.7 453.1h0M332.9 453.2h0M330.0 454.1h0M322.3 453.1h0M307.8 453.9h0M333.3 454.2h0M293.4 454.0h0M284.9 453.0h0M295.9 452.5h0M308.3 452.9h0M291.5 453.2h0M335.3 453.4h0M329.3 454.2h0M286.3 453.2h0M311.7 454.3h0M266.1 454.2h0M277.7 452.4h0M277.2 452.6h0M276.5 452.9h0M283.2 451.6h0M272.3 451.8h0M260.5 452.4h0M270.8 451.5h0M290.8 450.7h0M264.2 453.9h0M259.1 454.2h0M280.1 453.9h0M279.8 451.6h0M278.8 454.2h0M289.0 453.2h0M271.6 451.9h0M271.4 452.4h0M260.7 453.7h0M269.8 454.1h0M290.8 451.2h0M285.6 454.2h0M261.6 454.2h0M281.1 451.7h0" stroke="#b8b8b8" stroke-width="1.20" stroke-linecap="round" stroke-opacity="0.6" fill="none"/>
<path d="M260.4 454.2h0M267.9 454.2h0M261.9 452.9h0M267.9 454.0h0M234.3 454.3h0M245.0 453.6h0M251.2 453.6h0M235.8 454.0h0M270.5 454.2h0M274.3 454.3h0M260.6 454.2h0M262.9 453.6h0M274.6 454.3h0M254.3 452.9h0M262.3 454.2h0M260.0 453.6h0M284.1 454.1h0M310.9 453.1h0M331.6 453.2h0M319.0 452.4h0M319.2 453.5h0M292.6 453.9h0M313.6 453.0h0M327.3 452.4h0M310.9 454.2h0M330.5 453.7h0M294.6 453.9h0M310.3 454.1h0M327.3 453.9h0M309.2 454.1h0M305.3 454.1h0M317.7 454.2h0M303.5 453.7h0M319.8 453.5h0M328.6 452.4h0M334.8 454.3h0M274.7 454.2h0M267.8 453.7h0M267.2 452.4h0M267.4 450.4h0M272.5 454.3h0M268.3 453.2h0M261.2 454.3h0M263.1 451.4h0M290.3 454.3h0M272.3 451.4h0M276.0 452.1h0M267.6 452.6h0M277.5 451.4h0M280.5 454.3h0M284.8 451.6h0M287.0 454.0h0M284.3 453.9h0M267.9 453.7h0M285.1 454.2h0M263.7 454.3h0M279.2 450.7h0M289.3 450.5h0M269.6 451.7h0M258.1 451.8h0" stroke="#b8b8b8" stroke-width="1.20" stroke-linecap="round" stroke-opacity="0.6" fill="none"/>
<line x1="260.50" y1="433.00" x2="265.00" y2="433.00" stroke="#777" stroke-width="0.9"/>
<line x1="266.00" y1="437.50" x2="270.00" y2="437.50" stroke="#777" stroke-width="0.9"/>
<line x1="305.50" y1="425.40" x2="309.50" y2="425.40" stroke="#777" stroke-width="0.9"/>
<line x1="248.00" y1="395.60" x2="252.00" y2="395.60" stroke="#777" stroke-width="0.9"/>
<line x1="237.50" y1="399.00" x2="239.50" y2="399.00" stroke="#777" stroke-width="0.9"/>
<circle cx="235.00" cy="393.30" r="3.00" fill="#f6b8c0" fill-opacity="0.7"/>
<circle cx="235.00" cy="393.30" r="1.60" fill="#c82436"/>
<text x="257.70" y="392.70" font-size="6.0" fill="#222" textLength="15.67" lengthAdjust="spacingAndGlyphs" stroke="#222" stroke-width="0.150">HES4</text>
<line x1="257.00" y1="391.00" x2="238.20" y2="393.00" stroke="#111" stroke-width="0.9"/>
<path d="M238.20 393.00L241.31 393.88L241.06 391.49Z" fill="#111"/>
<line x1="226.20" y1="380.00" x2="226.20" y2="458.65" stroke="#111" stroke-width="1.0"/>
<line x1="225.75" y1="458.20" x2="338.00" y2="458.20" stroke="#111" stroke-width="1.0"/>
<line x1="223.90" y1="454.30" x2="226.20" y2="454.30" stroke="#111" stroke-width="0.7"/>
<text x="220.70" y="456.70" font-size="6.8" fill="#333" text-anchor="end" textLength="3.71" lengthAdjust="spacingAndGlyphs" stroke="#333" stroke-width="0.150">0</text>
<line x1="223.90" y1="428.00" x2="226.20" y2="428.00" stroke="#111" stroke-width="0.7"/>
<text x="220.70" y="430.40" font-size="6.8" fill="#333" text-anchor="end" textLength="7.41" lengthAdjust="spacingAndGlyphs" stroke="#333" stroke-width="0.150">20</text>
<line x1="223.90" y1="401.70" x2="226.20" y2="401.70" stroke="#111" stroke-width="0.7"/>
<text x="220.70" y="404.10" font-size="6.8" fill="#333" text-anchor="end" textLength="7.41" lengthAdjust="spacingAndGlyphs" stroke="#333" stroke-width="0.150">40</text>
<line x1="229.88" y1="458.20" x2="229.88" y2="460.40" stroke="#111" stroke-width="0.7"/>
<text x="229.88" y="469.90" font-size="6.8" fill="#333" text-anchor="middle" textLength="5.93" lengthAdjust="spacingAndGlyphs" stroke="#333" stroke-width="0.150">-6</text>
<line x1="255.59" y1="458.20" x2="255.59" y2="460.40" stroke="#111" stroke-width="0.7"/>
<text x="255.59" y="469.90" font-size="6.8" fill="#333" text-anchor="middle" textLength="5.93" lengthAdjust="spacingAndGlyphs" stroke="#333" stroke-width="0.150">-3</text>
<line x1="281.30" y1="458.20" x2="281.30" y2="460.40" stroke="#111" stroke-width="0.7"/>
<text x="281.30" y="469.90" font-size="6.8" fill="#333" text-anchor="middle" textLength="3.71" lengthAdjust="spacingAndGlyphs" stroke="#333" stroke-width="0.150">0</text>
<line x1="307.01" y1="458.20" x2="307.01" y2="460.40" stroke="#111" stroke-width="0.7"/>
<text x="307.01" y="469.90" font-size="6.8" fill="#333" text-anchor="middle" textLength="3.71" lengthAdjust="spacingAndGlyphs" stroke="#333" stroke-width="0.150">3</text>
<line x1="332.72" y1="458.20" x2="332.72" y2="460.40" stroke="#111" stroke-width="0.7"/>
<text x="332.72" y="469.90" font-size="6.8" fill="#333" text-anchor="middle" textLength="3.71" lengthAdjust="spacingAndGlyphs" stroke="#333" stroke-width="0.150">6</text>
<text x="281.60" y="375.30" font-size="8.6" fill="#222" text-anchor="middle" textLength="20.17" lengthAdjust="spacingAndGlyphs" stroke="#222" stroke-width="0.150">N + L</text>
<text transform="translate(206.40,419.2) rotate(-90)" font-size="7.1" fill="#222" stroke="#222" stroke-width="0.2" text-anchor="middle" textLength="75" lengthAdjust="spacingAndGlyphs">−Log<tspan font-size="4.6" dy="1.6">10</tspan><tspan dy="-1.6"> (adjusted </tspan><tspan font-style="italic">P</tspan> value)</text>
<line x1="276.00" y1="474.40" x2="233.60" y2="474.40" stroke="#111" stroke-width="1.1"/>
<path d="M230.40 474.40L235.00 472.30L235.00 476.50Z" fill="#111"/>
<line x1="285.00" y1="474.40" x2="326.80" y2="474.40" stroke="#111" stroke-width="1.1"/>
<path d="M330.00 474.40L325.40 472.30L325.40 476.50Z" fill="#111"/>
<text x="253.20" y="483.60" font-size="6.3" fill="#222" text-anchor="middle" textLength="9.30" lengthAdjust="spacingAndGlyphs" stroke="#222" stroke-width="0.150">WT</text>
<text x="306.80" y="483.60" font-size="6.3" fill="#222" text-anchor="middle" textLength="22.08" lengthAdjust="spacingAndGlyphs" stroke="#222" stroke-width="0.150">R1984A</text>
<text x="281.80" y="491.9" font-size="7.1" fill="#222" stroke="#222" stroke-width="0.2" text-anchor="middle" textLength="50.5" lengthAdjust="spacingAndGlyphs">Log<tspan font-size="4.6" dy="1.6">2</tspan><tspan dy="-1.6"> fold change</tspan></text>
<line x1="394.56" y1="379.00" x2="394.56" y2="457.70" stroke="#f2f2f2" stroke-width="0.6"/>
<line x1="423.88" y1="379.00" x2="423.88" y2="457.70" stroke="#f2f2f2" stroke-width="0.6"/>
<line x1="453.20" y1="379.00" x2="453.20" y2="457.70" stroke="#f2f2f2" stroke-width="0.6"/>
<line x1="482.52" y1="379.00" x2="482.52" y2="457.70" stroke="#f2f2f2" stroke-width="0.6"/>
<line x1="391.00" y1="454.30" x2="503.00" y2="454.30" stroke="#f2f2f2" stroke-width="0.6"/>
<line x1="391.00" y1="429.90" x2="503.00" y2="429.90" stroke="#f2f2f2" stroke-width="0.6"/>
<line x1="391.00" y1="405.50" x2="503.00" y2="405.50" stroke="#f2f2f2" stroke-width="0.6"/>
<line x1="391.00" y1="381.10" x2="503.00" y2="381.10" stroke="#f2f2f2" stroke-width="0.6"/>
<path d="M438.7 453.2h0M450.4 453.5h0M435.8 452.5h0M450.4 452.7h0M451.4 453.5h0M450.0 452.6h0M434.2 453.1h0M450.1 454.0h0M445.6 450.0h0M444.2 452.1h0M439.8 453.9h0M434.6 453.7h0M440.0 453.7h0M445.5 449.0h0M450.3 453.9h0M447.3 453.5h0M450.3 453.6h0M438.0 452.7h0M438.7 454.1h0M440.8 453.2h0M451.3 453.3h0M443.7 452.0h0M422.3 453.9h0M435.7 454.2h0M432.9 454.0h0M442.6 452.1h0M445.5 453.3h0M449.2 451.1h0M441.5 452.6h0M452.6 453.9h0M445.4 452.0h0M449.4 451.2h0M438.7 452.4h0M448.3 450.2h0M438.7 452.4h0M447.2 452.4h0M444.3 452.9h0M437.0 454.1h0M444.4 451.8h0M450.5 453.7h0M450.3 452.7h0M449.3 452.0h0M444.9 450.4h0M439.5 453.3h0M446.8 450.4h0M451.2 453.2h0M450.0 452.9h0M443.6 454.0h0M448.7 453.7h0M448.5 454.2h0" stroke="#d8301e" stroke-width="1.20" stroke-linecap="round" stroke-opacity="0.7" fill="none"/>
<path d="M449.6 453.2h0M441.4 453.4h0M445.2 452.8h0M438.8 452.8h0M445.1 453.2h0M440.4 452.7h0M445.6 452.7h0M440.4 453.8h0M444.1 450.6h0M440.2 454.1h0M439.9 453.3h0M443.9 451.4h0M441.9 452.1h0M445.7 452.5h0M450.0 454.1h0M451.3 454.0h0M434.7 454.2h0M442.7 452.3h0M450.3 454.0h0M445.2 450.6h0M429.3 454.2h0M444.0 453.2h0M440.7 453.2h0M444.8 454.2h0M448.9 454.2h0M446.3 450.2h0M446.8 451.8h0M435.3 452.7h0M431.1 454.3h0M439.6 452.2h0M446.0 451.2h0M437.8 453.3h0M438.4 452.7h0M447.5 450.1h0M439.8 452.2h0M427.3 454.3h0M451.7 453.4h0M446.5 451.8h0M444.3 453.9h0M435.4 454.0h0M447.3 449.5h0M431.3 453.8h0M449.9 453.3h0M431.2 453.4h0M426.8 453.7h0M443.4 450.5h0M429.2 454.1h0M448.3 454.3h0M447.6 453.3h0M440.6 452.2h0" stroke="#d8301e" stroke-width="1.20" stroke-linecap="round" stroke-opacity="0.7" fill="none"/>
<path d="M448.0 454.3h0M451.0 453.3h0M439.5 453.7h0M448.7 453.4h0M427.5 454.2h0M444.0 450.7h0M442.7 450.6h0M443.9 452.7h0M436.7 453.9h0M437.1 453.3h0M444.9 453.9h0M442.4 452.5h0M438.2 453.7h0M440.1 453.7h0M439.7 451.9h0M445.2 450.0h0M448.9 451.0h0M428.1 453.9h0M443.8 451.8h0M444.8 450.2h0M444.2 453.2h0M435.2 454.1h0M438.1 451.9h0M444.6 450.9h0M438.9 453.1h0M438.1 454.0h0M426.2 453.7h0M450.5 452.8h0M435.6 452.5h0M436.9 452.7h0M424.6 454.3h0M423.9 454.1h0M449.6 453.5h0M442.9 452.4h0M443.3 450.4h0M443.7 450.9h0M431.3 453.7h0M437.5 452.2h0M452.1 454.1h0M449.8 453.9h0M434.2 452.7h0M438.9 454.2h0M450.1 453.7h0M428.9 453.7h0M421.9 454.1h0M435.8 454.3h0M441.1 452.5h0M444.2 450.3h0M448.3 453.9h0M452.4 453.8h0" stroke="#d8301e" stroke-width="1.20" stroke-linecap="round" stroke-opacity="0.7" fill="none"/>
<path d="M450.6 445.7h0M432.1 448.8h0M449.4 449.2h0M440.3 443.2h0M451.0 443.3h0M444.3 441.3h0M436.5 433.2h0M433.7 432.9h0M444.3 434.9h0M432.1 446.1h0M449.2 443.1h0M438.7 452.0h0M431.4 452.2h0M434.8 429.8h0M434.0 450.7h0M447.7 436.8h0M446.4 447.0h0M435.4 450.3h0M439.3 451.8h0" stroke="#d8301e" stroke-width="1.20" stroke-linecap="round" stroke-opacity="0.45" fill="none"/>
<path d="M444.0 443.9h0M434.2 451.1h0M448.1 451.7h0M433.4 452.1h0M437.5 432.7h0M450.5 435.9h0M432.6 433.8h0M435.8 447.9h0M446.3 449.3h0M438.6 437.9h0M446.3 445.4h0M445.3 446.3h0M433.4 450.5h0M445.5 450.6h0M431.4 436.4h0M450.7 450.2h0M441.1 430.3h0M433.5 435.6h0" stroke="#d8301e" stroke-width="1.20" stroke-linecap="round" stroke-opacity="0.45" fill="none"/>
<path d="M437.4 451.7h0M449.1 450.2h0M432.5 442.7h0M450.2 438.7h0M451.2 445.9h0M430.1 442.1h0M440.5 451.7h0M429.8 440.0h0M431.3 452.0h0M431.3 449.7h0M448.8 451.6h0M449.1 434.2h0M435.2 451.9h0M443.7 432.4h0M430.1 428.3h0M439.4 449.5h0M438.4 441.9h0M433.3 444.7h0" stroke="#d8301e" stroke-width="1.20" stroke-linecap="round" stroke-opacity="0.45" fill="none"/>
<path d="M464.5 450.6h0M454.6 454.0h0M459.0 453.8h0M468.1 454.1h0M476.4 453.7h0M469.4 451.9h0M463.8 451.5h0M474.6 453.8h0M479.0 453.7h0M462.0 453.5h0M462.0 454.1h0M476.7 453.6h0M470.4 452.1h0M462.3 451.1h0M472.7 453.8h0M455.4 453.9h0M465.5 454.2h0M473.7 453.0h0M463.2 452.3h0M454.5 454.3h0M467.2 454.2h0M460.0 454.2h0M462.8 450.9h0M472.1 453.9h0M455.5 454.1h0M462.2 452.4h0M455.6 453.9h0M469.8 453.9h0M457.5 451.4h0M467.0 451.3h0M458.7 453.0h0M461.3 449.9h0M468.5 453.8h0M468.9 453.1h0M457.2 454.3h0M472.0 453.0h0M458.3 454.3h0M463.5 451.3h0M467.4 454.1h0M465.0 454.2h0M470.4 454.2h0M465.0 453.4h0M466.8 451.8h0M472.3 454.2h0" stroke="#2a36a0" stroke-width="1.20" stroke-linecap="round" stroke-opacity="0.7" fill="none"/>
<path d="M479.6 453.5h0M458.5 454.3h0M466.7 453.6h0M460.7 453.1h0M465.9 453.9h0M457.0 454.2h0M462.7 452.0h0M461.0 454.0h0M454.7 454.1h0M460.2 453.6h0M463.3 451.6h0M472.3 453.5h0M461.5 450.1h0M466.1 452.4h0M463.6 452.8h0M464.5 453.7h0M454.5 453.5h0M455.2 453.3h0M464.6 451.4h0M464.8 454.3h0M459.3 452.2h0M459.1 451.4h0M463.2 454.2h0M461.1 453.5h0M466.1 453.1h0M468.9 452.2h0M462.3 451.1h0M467.6 452.3h0M491.5 454.2h0M465.8 451.6h0M466.8 452.4h0M454.5 454.2h0M463.9 450.3h0M461.7 453.2h0M459.4 450.9h0M461.0 453.4h0M458.8 452.2h0M460.8 451.0h0M462.3 453.8h0M471.5 453.6h0M454.1 454.2h0M459.8 451.7h0M457.1 453.1h0" stroke="#2a36a0" stroke-width="1.20" stroke-linecap="round" stroke-opacity="0.7" fill="none"/>
<path d="M473.8 453.0h0M479.2 454.0h0M474.5 454.0h0M465.4 453.9h0M470.3 452.7h0M460.5 454.3h0M462.5 450.9h0M475.4 454.3h0M454.7 453.8h0M477.8 453.7h0M461.8 450.7h0M458.7 453.8h0M462.3 453.6h0M466.3 453.1h0M455.9 454.3h0M464.2 453.6h0M471.1 452.3h0M462.7 454.1h0M457.5 454.2h0M464.7 453.7h0M459.5 453.5h0M461.3 453.0h0M460.6 449.8h0M454.7 453.4h0M457.4 454.3h0M460.7 454.1h0M457.6 453.1h0M458.1 453.0h0M471.3 453.0h0M456.4 453.5h0M455.5 454.2h0M478.1 453.3h0M457.1 454.0h0M462.0 453.3h0M461.5 450.2h0M459.1 452.5h0M485.9 454.0h0M457.8 453.4h0M458.1 452.5h0M462.8 453.4h0M469.5 453.3h0M459.3 451.6h0M464.5 454.0h0" stroke="#2a36a0" stroke-width="1.20" stroke-linecap="round" stroke-opacity="0.7" fill="none"/>
<path d="M473.4 440.0h0M456.0 435.6h0M476.4 451.0h0M475.7 437.8h0M468.7 446.1h0M470.4 446.0h0M459.1 438.8h0M462.8 452.3h0M465.8 436.6h0M457.8 452.1h0M480.2 438.0h0M455.7 434.5h0M457.9 450.3h0M480.4 445.8h0M457.1 445.5h0M459.4 447.8h0M478.5 443.6h0" stroke="#2a36a0" stroke-width="1.20" stroke-linecap="round" stroke-opacity="0.45" fill="none"/>
<path d="M458.0 452.2h0M455.7 440.8h0M475.3 444.5h0M461.8 452.2h0M467.5 452.2h0M478.2 446.5h0M471.4 448.8h0M476.6 440.7h0M461.4 449.9h0M479.4 452.3h0M467.3 445.0h0M469.3 439.4h0M480.3 439.0h0M463.4 445.4h0M458.1 452.2h0M478.3 448.4h0M467.5 443.3h0" stroke="#2a36a0" stroke-width="1.20" stroke-linecap="round" stroke-opacity="0.45" fill="none"/>
<path d="M460.4 444.5h0M476.1 448.0h0M477.3 439.6h0M459.7 440.7h0M479.3 444.6h0M469.2 439.5h0M459.1 445.6h0M478.6 440.3h0M467.4 442.3h0M474.5 446.5h0M473.3 449.9h0M469.2 451.9h0M462.8 446.9h0M459.6 444.6h0M474.8 445.8h0M462.3 446.3h0" stroke="#2a36a0" stroke-width="1.20" stroke-linecap="round" stroke-opacity="0.45" fill="none"/>
<path d="M415.1 452.1h0M439.0 453.2h0M406.2 454.2h0M421.5 453.6h0M423.3 454.3h0M402.3 454.0h0M434.8 453.9h0M436.0 452.9h0M428.8 454.0h0M398.7 454.3h0M417.8 452.2h0M440.9 454.3h0M449.3 451.9h0M400.3 452.7h0M444.1 452.4h0M407.4 454.0h0M426.9 454.3h0M438.6 452.6h0M443.3 454.3h0M473.6 453.9h0M494.0 454.0h0M469.1 451.9h0M474.1 452.3h0M483.5 454.2h0M465.7 452.2h0M463.5 454.2h0M500.0 452.1h0M469.3 454.2h0M467.6 452.8h0M466.7 453.6h0M466.3 452.4h0M482.2 453.7h0M498.5 453.9h0M474.6 454.3h0M478.6 452.6h0M462.9 452.6h0M466.8 454.2h0M491.3 454.0h0M477.1 453.8h0M413.8 450.8h0M418.2 451.2h0M425.5 453.9h0" stroke="#b8b8b8" stroke-width="1.20" stroke-linecap="round" stroke-opacity="0.6" fill="none"/>
<path d="M410.5 454.2h0M395.1 452.7h0M402.4 454.2h0M434.2 452.6h0M411.8 454.2h0M419.0 453.3h0M446.5 453.7h0M417.3 453.8h0M422.9 453.7h0M403.9 454.3h0M434.2 452.1h0M395.1 452.0h0M424.9 454.0h0M395.2 453.9h0M420.9 453.8h0M422.3 454.3h0M405.5 453.8h0M419.8 453.6h0M487.4 453.0h0M466.1 454.2h0M490.9 454.3h0M455.1 452.0h0M480.9 453.5h0M456.5 453.0h0M469.5 453.0h0M467.5 451.9h0M461.7 453.3h0M482.6 454.2h0M468.5 452.0h0M469.6 453.9h0M472.0 453.5h0M463.1 454.3h0M458.4 454.2h0M478.3 454.0h0M486.7 453.8h0M479.3 453.1h0M468.6 452.4h0M489.6 452.8h0M404.5 446.1h0M408.3 432.8h0M411.4 454.0h0M418.3 449.4h0" stroke="#b8b8b8" stroke-width="1.20" stroke-linecap="round" stroke-opacity="0.6" fill="none"/>
<path d="M422.8 452.7h0M447.0 454.3h0M423.6 453.1h0M450.4 453.1h0M449.7 453.0h0M450.5 454.0h0M438.7 453.4h0M430.4 453.0h0M416.7 454.0h0M416.2 452.0h0M432.1 452.0h0M414.4 453.2h0M428.7 453.1h0M443.1 452.3h0M422.3 453.6h0M427.6 454.3h0M438.3 451.9h0M426.2 452.0h0M496.9 452.1h0M496.3 452.9h0M478.4 454.1h0M486.4 451.8h0M484.5 454.1h0M456.2 452.2h0M470.9 453.1h0M497.4 453.9h0M465.0 454.0h0M470.6 454.3h0M460.2 454.3h0M490.2 453.2h0M471.9 452.9h0M467.3 452.5h0M499.0 454.3h0M501.2 451.9h0M491.2 454.3h0M483.4 452.5h0M478.7 452.8h0M479.0 453.6h0M433.5 452.7h0M427.8 454.1h0M422.1 451.1h0" stroke="#b8b8b8" stroke-width="1.20" stroke-linecap="round" stroke-opacity="0.6" fill="none"/>
<line x1="431.00" y1="411.00" x2="435.50" y2="411.00" stroke="#777" stroke-width="0.9"/>
<line x1="410.00" y1="434.00" x2="413.00" y2="434.00" stroke="#777" stroke-width="0.9"/>
<line x1="420.00" y1="442.00" x2="424.50" y2="442.00" stroke="#777" stroke-width="0.9"/>
<line x1="415.50" y1="446.60" x2="418.50" y2="446.60" stroke="#777" stroke-width="0.9"/>
<line x1="442.00" y1="448.00" x2="446.00" y2="448.00" stroke="#777" stroke-width="0.9"/>
<line x1="465.00" y1="447.00" x2="469.00" y2="447.00" stroke="#777" stroke-width="0.9"/>
<circle cx="404.90" cy="388.90" r="3.00" fill="#f6b8c0" fill-opacity="0.7"/>
<circle cx="404.90" cy="388.90" r="1.60" fill="#c82436"/>
<text x="421.80" y="390.60" font-size="6.0" fill="#222" textLength="15.67" lengthAdjust="spacingAndGlyphs" stroke="#222" stroke-width="0.150">HES4</text>
<line x1="421.00" y1="388.70" x2="408.00" y2="388.70" stroke="#111" stroke-width="0.9"/>
<path d="M408.00 388.70L411.00 389.90L411.00 387.50Z" fill="#111"/>
<line x1="390.50" y1="379.00" x2="390.50" y2="458.65" stroke="#111" stroke-width="1.0"/>
<line x1="390.05" y1="458.20" x2="503.00" y2="458.20" stroke="#111" stroke-width="1.0"/>
<line x1="388.20" y1="454.30" x2="390.50" y2="454.30" stroke="#111" stroke-width="0.7"/>
<text x="385.00" y="456.70" font-size="6.8" fill="#333" text-anchor="end" textLength="3.71" lengthAdjust="spacingAndGlyphs" stroke="#333" stroke-width="0.150">0</text>
<line x1="388.20" y1="429.90" x2="390.50" y2="429.90" stroke="#111" stroke-width="0.7"/>
<text x="385.00" y="432.30" font-size="6.8" fill="#333" text-anchor="end" textLength="7.41" lengthAdjust="spacingAndGlyphs" stroke="#333" stroke-width="0.150">20</text>
<line x1="388.20" y1="405.50" x2="390.50" y2="405.50" stroke="#111" stroke-width="0.7"/>
<text x="385.00" y="407.90" font-size="6.8" fill="#333" text-anchor="end" textLength="7.41" lengthAdjust="spacingAndGlyphs" stroke="#333" stroke-width="0.150">40</text>
<line x1="388.20" y1="381.10" x2="390.50" y2="381.10" stroke="#111" stroke-width="0.7"/>
<text x="385.00" y="383.50" font-size="6.8" fill="#333" text-anchor="end" textLength="7.41" lengthAdjust="spacingAndGlyphs" stroke="#333" stroke-width="0.150">60</text>
<line x1="394.56" y1="458.20" x2="394.56" y2="460.40" stroke="#111" stroke-width="0.7"/>
<text x="394.56" y="469.90" font-size="6.8" fill="#333" text-anchor="middle" textLength="5.93" lengthAdjust="spacingAndGlyphs" stroke="#333" stroke-width="0.150">-8</text>
<line x1="423.88" y1="458.20" x2="423.88" y2="460.40" stroke="#111" stroke-width="0.7"/>
<text x="423.88" y="469.90" font-size="6.8" fill="#333" text-anchor="middle" textLength="5.93" lengthAdjust="spacingAndGlyphs" stroke="#333" stroke-width="0.150">-4</text>
<line x1="453.20" y1="458.20" x2="453.20" y2="460.40" stroke="#111" stroke-width="0.7"/>
<text x="453.20" y="469.90" font-size="6.8" fill="#333" text-anchor="middle" textLength="3.71" lengthAdjust="spacingAndGlyphs" stroke="#333" stroke-width="0.150">0</text>
<line x1="482.52" y1="458.20" x2="482.52" y2="460.40" stroke="#111" stroke-width="0.7"/>
<text x="482.52" y="469.90" font-size="6.8" fill="#333" text-anchor="middle" textLength="3.71" lengthAdjust="spacingAndGlyphs" stroke="#333" stroke-width="0.150">4</text>
<text x="446.20" y="375.30" font-size="8.6" fill="#222" text-anchor="middle" textLength="30.21" lengthAdjust="spacingAndGlyphs" stroke="#222" stroke-width="0.150">N + LTB</text>
<text transform="translate(370.70,419.2) rotate(-90)" font-size="7.1" fill="#222" stroke="#222" stroke-width="0.2" text-anchor="middle" textLength="75" lengthAdjust="spacingAndGlyphs">−Log<tspan font-size="4.6" dy="1.6">10</tspan><tspan dy="-1.6"> (adjusted </tspan><tspan font-style="italic">P</tspan> value)</text>
<line x1="446.60" y1="474.40" x2="402.00" y2="474.40" stroke="#111" stroke-width="1.1"/>
<path d="M398.80 474.40L403.40 472.30L403.40 476.50Z" fill="#111"/>
<line x1="451.50" y1="474.40" x2="496.00" y2="474.40" stroke="#111" stroke-width="1.1"/>
<path d="M499.20 474.40L494.60 472.30L494.60 476.50Z" fill="#111"/>
<text x="422.20" y="483.60" font-size="6.3" fill="#222" text-anchor="middle" textLength="9.30" lengthAdjust="spacingAndGlyphs" stroke="#222" stroke-width="0.150">WT</text>
<text x="474.00" y="483.60" font-size="6.3" fill="#222" text-anchor="middle" textLength="22.08" lengthAdjust="spacingAndGlyphs" stroke="#222" stroke-width="0.150">R1984A</text>
<text x="445.20" y="491.9" font-size="7.1" fill="#222" stroke="#222" stroke-width="0.2" text-anchor="middle" textLength="50.5" lengthAdjust="spacingAndGlyphs">Log<tspan font-size="4.6" dy="1.6">2</tspan><tspan dy="-1.6"> fold change</tspan></text>
<defs><clipPath id="cY"><circle cx="134.50" cy="571.50" r="51.0"/></clipPath><clipPath id="cB"><circle cx="152.40" cy="593.50" r="51.0"/></clipPath><clipPath id="cG"><circle cx="116.60" cy="593.50" r="51.0"/></clipPath><mask id="mY" maskUnits="userSpaceOnUse" x="0" y="480" width="260" height="171"><rect x="0" y="480" width="260" height="171" fill="#fff"/><circle cx="116.60" cy="593.50" r="51.0" fill="#000"/><circle cx="152.40" cy="593.50" r="51.0" fill="#000"/></mask><mask id="mB" maskUnits="userSpaceOnUse" x="0" y="480" width="260" height="171"><rect x="0" y="480" width="260" height="171" fill="#fff"/><circle cx="116.60" cy="593.50" r="51.0" fill="#000"/></mask></defs>
<circle cx="134.50" cy="571.50" r="51.0" fill="#fae8b9"/>
<circle cx="152.40" cy="593.50" r="51.0" fill="#e2e4f5"/>
<circle cx="116.60" cy="593.50" r="51.0" fill="#daece8"/>
<circle cx="152.40" cy="593.50" r="51.0" fill="#e2deda" clip-path="url(#cY)"/>
<circle cx="116.60" cy="593.50" r="51.0" fill="#dee6d2" clip-path="url(#cY)"/>
<circle cx="116.60" cy="593.50" r="51.0" fill="#d7e6e4" clip-path="url(#cB)"/>
<g clip-path="url(#cY)"><circle cx="116.60" cy="593.50" r="51.0" fill="#d4e4da" clip-path="url(#cB)"/></g>
<circle cx="134.50" cy="571.50" r="51.0" fill="none" stroke="#b4bcb2" stroke-width="0.8"/>
<circle cx="152.40" cy="593.50" r="51.0" fill="none" stroke="#b4bcb8" stroke-width="0.8"/>
<circle cx="134.50" cy="571.50" r="51.0" fill="none" stroke="#2a2a2a" stroke-width="1.1" mask="url(#mY)"/>
<circle cx="152.40" cy="593.50" r="51.0" fill="none" stroke="#2a2a2a" stroke-width="1.1" mask="url(#mB)"/>
<circle cx="116.60" cy="593.50" r="51.0" fill="none" stroke="#2a2a2a" stroke-width="1.1"/>
<text x="134.80" y="513.50" font-size="6.3" fill="#222" text-anchor="middle" textLength="18.21" lengthAdjust="spacingAndGlyphs" stroke="#222" stroke-width="0.150">N only</text>
<text x="134.30" y="534.60" font-size="6.5" fill="#222" text-anchor="middle" textLength="10.85" lengthAdjust="spacingAndGlyphs" stroke="#222" stroke-width="0.150">340</text>
<text x="98.70" y="567.70" font-size="6.5" fill="#222" text-anchor="middle" textLength="7.23" lengthAdjust="spacingAndGlyphs" stroke="#222" stroke-width="0.150">59</text>
<text x="134.30" y="563.70" font-size="6.5" fill="#222" text-anchor="middle" textLength="7.23" lengthAdjust="spacingAndGlyphs" stroke="#222" stroke-width="0.150">86</text>
<text x="170.50" y="567.70" font-size="6.5" fill="#222" text-anchor="middle" textLength="7.23" lengthAdjust="spacingAndGlyphs" stroke="#222" stroke-width="0.150">53</text>
<text x="83.70" y="613.50" font-size="6.5" fill="#222" text-anchor="middle" textLength="10.85" lengthAdjust="spacingAndGlyphs" stroke="#222" stroke-width="0.150">273</text>
<text x="187.50" y="613.70" font-size="6.5" fill="#222" text-anchor="middle" textLength="10.85" lengthAdjust="spacingAndGlyphs" stroke="#222" stroke-width="0.150">120</text>
<text x="134.30" y="633.60" font-size="6.5" fill="#222" text-anchor="middle" textLength="7.23" lengthAdjust="spacingAndGlyphs" stroke="#222" stroke-width="0.150">42</text>
<text x="60.00" y="633.60" font-size="6.3" fill="#222" text-anchor="middle" textLength="23.50" lengthAdjust="spacingAndGlyphs" stroke="#222" stroke-width="0.150">N + LTB</text>
<text x="206.30" y="633.60" font-size="6.3" fill="#222" text-anchor="middle" textLength="16.45" lengthAdjust="spacingAndGlyphs" stroke="#222" stroke-width="0.150">N + L</text>
<path d="M110.60 573.40V577.70M109.70 574.50L110.60 573.30L111.50 574.50" stroke="#444" stroke-width="0.45" fill="none"/>
<text x="113.70" y="578.00" font-size="5.6" fill="#222" font-weight="bold" textLength="13.75" lengthAdjust="spacingAndGlyphs" stroke="#222" stroke-width="0.392">HES4</text>
<path d="M110.60 582.00V586.30M109.70 583.10L110.60 581.90L111.50 583.10" stroke="#444" stroke-width="0.45" fill="none"/>
<text x="113.70" y="586.60" font-size="5.6" fill="#222" textLength="17.26" lengthAdjust="spacingAndGlyphs" stroke="#222" stroke-width="0.146">ABCA1</text>
<path d="M110.60 590.10V594.40M109.70 591.20L110.60 590.00L111.50 591.20" stroke="#444" stroke-width="0.45" fill="none"/>
<text x="113.70" y="594.70" font-size="5.6" fill="#222" textLength="19.90" lengthAdjust="spacingAndGlyphs" stroke="#222" stroke-width="0.146">CD300A</text>
<path d="M110.60 598.40V602.70M109.70 599.50L110.60 598.30L111.50 599.50" stroke="#444" stroke-width="0.45" fill="none"/>
<text x="113.70" y="603.00" font-size="5.6" fill="#222" textLength="14.92" lengthAdjust="spacingAndGlyphs" stroke="#222" stroke-width="0.146">CR1/2</text>
<path d="M139.20 573.40V577.70M138.30 574.50L139.20 573.30L140.10 574.50" stroke="#444" stroke-width="0.45" fill="none"/>
<text x="141.90" y="578.00" font-size="5.6" fill="#222" textLength="18.43" lengthAdjust="spacingAndGlyphs" stroke="#222" stroke-width="0.146">MYO7B</text>
<path d="M139.20 582.00V586.30M138.30 583.10L139.20 581.90L140.10 583.10" stroke="#444" stroke-width="0.45" fill="none"/>
<text x="141.90" y="586.60" font-size="5.6" fill="#222" textLength="17.55" lengthAdjust="spacingAndGlyphs" stroke="#222" stroke-width="0.146">PCGF5</text>
<path d="M139.20 590.40V594.70M138.30 593.60L139.20 594.80L140.10 593.60" stroke="#444" stroke-width="0.45" fill="none"/>
<text x="141.90" y="594.70" font-size="5.6" fill="#222" textLength="13.17" lengthAdjust="spacingAndGlyphs" stroke="#222" stroke-width="0.146">LRP4</text>
<path d="M139.20 598.70V603.00M138.30 601.90L139.20 603.10L140.10 601.90" stroke="#444" stroke-width="0.45" fill="none"/>
<text x="141.90" y="603.00" font-size="5.6" fill="#222" textLength="16.97" lengthAdjust="spacingAndGlyphs" stroke="#222" stroke-width="0.146">SPSB1</text>
<line x1="293.70" y1="568.06" x2="293.70" y2="567.01" stroke="#c8102e" stroke-width="0.8"/>
<line x1="291.10" y1="567.01" x2="296.30" y2="567.01" stroke="#c8102e" stroke-width="0.8"/>
<rect x="288.8" y="568.06" width="9.8" height="42.44" fill="#c8102e"/>
<line x1="309.10" y1="592.16" x2="309.10" y2="587.97" stroke="#1c4a88" stroke-width="0.8"/>
<line x1="306.50" y1="587.97" x2="311.70" y2="587.97" stroke="#1c4a88" stroke-width="0.8"/>
<rect x="304.5" y="592.16" width="9.2" height="18.34" fill="#1c4a88"/>
<line x1="333.95" y1="567.53" x2="333.95" y2="566.48" stroke="#c8102e" stroke-width="0.8"/>
<line x1="331.35" y1="566.48" x2="336.55" y2="566.48" stroke="#c8102e" stroke-width="0.8"/>
<rect x="329.0" y="567.53" width="9.9" height="42.97" fill="#c8102e"/>
<line x1="349.00" y1="596.35" x2="349.00" y2="593.73" stroke="#1c4a88" stroke-width="0.8"/>
<line x1="346.40" y1="593.73" x2="351.60" y2="593.73" stroke="#1c4a88" stroke-width="0.8"/>
<rect x="344.4" y="596.35" width="9.2" height="14.15" fill="#1c4a88"/>
<line x1="374.50" y1="566.48" x2="374.50" y2="560.20" stroke="#c8102e" stroke-width="0.8"/>
<line x1="371.90" y1="560.20" x2="377.10" y2="560.20" stroke="#c8102e" stroke-width="0.8"/>
<rect x="369.6" y="566.48" width="9.8" height="44.02" fill="#c8102e"/>
<line x1="389.05" y1="597.40" x2="389.05" y2="596.88" stroke="#1c4a88" stroke-width="0.8"/>
<line x1="386.45" y1="596.88" x2="391.65" y2="596.88" stroke="#1c4a88" stroke-width="0.8"/>
<rect x="384.6" y="597.40" width="8.9" height="13.10" fill="#1c4a88"/>
<line x1="283.80" y1="530.80" x2="283.80" y2="610.95" stroke="#111" stroke-width="1.0"/>
<line x1="283.35" y1="610.50" x2="394.00" y2="610.50" stroke="#111" stroke-width="1.0"/>
<line x1="281.00" y1="531.90" x2="283.80" y2="531.90" stroke="#111" stroke-width="0.7"/>
<text x="279.80" y="534.10" font-size="6.4" fill="#333" text-anchor="end" textLength="8.63" lengthAdjust="spacingAndGlyphs" stroke="#333" stroke-width="0.150">1.5</text>
<line x1="281.00" y1="558.10" x2="283.80" y2="558.10" stroke="#111" stroke-width="0.7"/>
<text x="279.80" y="560.30" font-size="6.4" fill="#333" text-anchor="end" textLength="8.63" lengthAdjust="spacingAndGlyphs" stroke="#333" stroke-width="0.150">1.0</text>
<line x1="281.00" y1="584.30" x2="283.80" y2="584.30" stroke="#111" stroke-width="0.7"/>
<text x="279.80" y="586.50" font-size="6.4" fill="#333" text-anchor="end" textLength="8.63" lengthAdjust="spacingAndGlyphs" stroke="#333" stroke-width="0.150">0.5</text>
<line x1="281.00" y1="610.50" x2="283.80" y2="610.50" stroke="#111" stroke-width="0.7"/>
<text x="279.80" y="612.70" font-size="6.4" fill="#333" text-anchor="end" textLength="8.63" lengthAdjust="spacingAndGlyphs" stroke="#333" stroke-width="0.150">0.0</text>
<line x1="301.30" y1="610.50" x2="301.30" y2="612.70" stroke="#111" stroke-width="0.7"/>
<text x="301.30" y="621.60" font-size="6.5" fill="#222" text-anchor="middle" textLength="18.98" lengthAdjust="spacingAndGlyphs" stroke="#222" stroke-width="0.150">N only</text>
<line x1="341.10" y1="610.50" x2="341.10" y2="612.70" stroke="#111" stroke-width="0.7"/>
<text x="341.10" y="621.60" font-size="6.5" fill="#222" text-anchor="middle" textLength="12.47" lengthAdjust="spacingAndGlyphs" stroke="#222" stroke-width="0.150">N+L</text>
<line x1="381.30" y1="610.50" x2="381.30" y2="612.70" stroke="#111" stroke-width="0.7"/>
<text x="381.30" y="621.60" font-size="6.5" fill="#222" text-anchor="middle" textLength="20.53" lengthAdjust="spacingAndGlyphs" stroke="#222" stroke-width="0.150">N+LTB</text>
<line x1="293.70" y1="561.60" x2="314.30" y2="561.60" stroke="#111" stroke-width="0.7"/>
<text x="304.00" y="562.20" font-size="6.6" fill="#111" text-anchor="middle" textLength="7.70" lengthAdjust="spacingAndGlyphs" stroke="#111" stroke-width="0.150">***</text>
<line x1="334.00" y1="560.60" x2="351.00" y2="560.60" stroke="#111" stroke-width="0.7"/>
<text x="342.50" y="561.20" font-size="6.6" fill="#111" text-anchor="middle" textLength="7.70" lengthAdjust="spacingAndGlyphs" stroke="#111" stroke-width="0.150">***</text>
<line x1="373.80" y1="556.40" x2="390.80" y2="556.40" stroke="#111" stroke-width="0.7"/>
<text x="382.30" y="557.00" font-size="6.6" fill="#111" text-anchor="middle" textLength="7.70" lengthAdjust="spacingAndGlyphs" stroke="#111" stroke-width="0.150">***</text>
<text transform="translate(254.6,571.5) rotate(-90)" font-size="6.6" fill="#222" stroke="#222" stroke-width="0.23" text-anchor="middle" textLength="49" lengthAdjust="spacingAndGlyphs">HES4 mRNA level</text>
<text transform="translate(263.7,570.3) rotate(-90)" font-size="6.6" fill="#222" stroke="#222" stroke-width="0.23" text-anchor="middle" textLength="61.4" lengthAdjust="spacingAndGlyphs">(normalized to B2M)</text>
<rect x="416.2" y="582.00" width="3.9" height="3.90" fill="#c8102e"/>
<rect x="416.2" y="590.20" width="3.9" height="3.90" fill="#1c4a88"/>
<text x="423.80" y="586.00" font-size="5.9" fill="#222" textLength="24.11" lengthAdjust="spacingAndGlyphs" stroke="#222" stroke-width="0.150">N1ΔE wt</text>
<text x="423.80" y="594.30" font-size="5.9" fill="#222" textLength="39.92" lengthAdjust="spacingAndGlyphs" stroke="#222" stroke-width="0.150">N1ΔE R1984A</text>
</g>
<rect x="0.5" y="0.5" width="519" height="650" fill="none" stroke="#5f5f5f" stroke-width="1"/>
</svg>
</body></html>
